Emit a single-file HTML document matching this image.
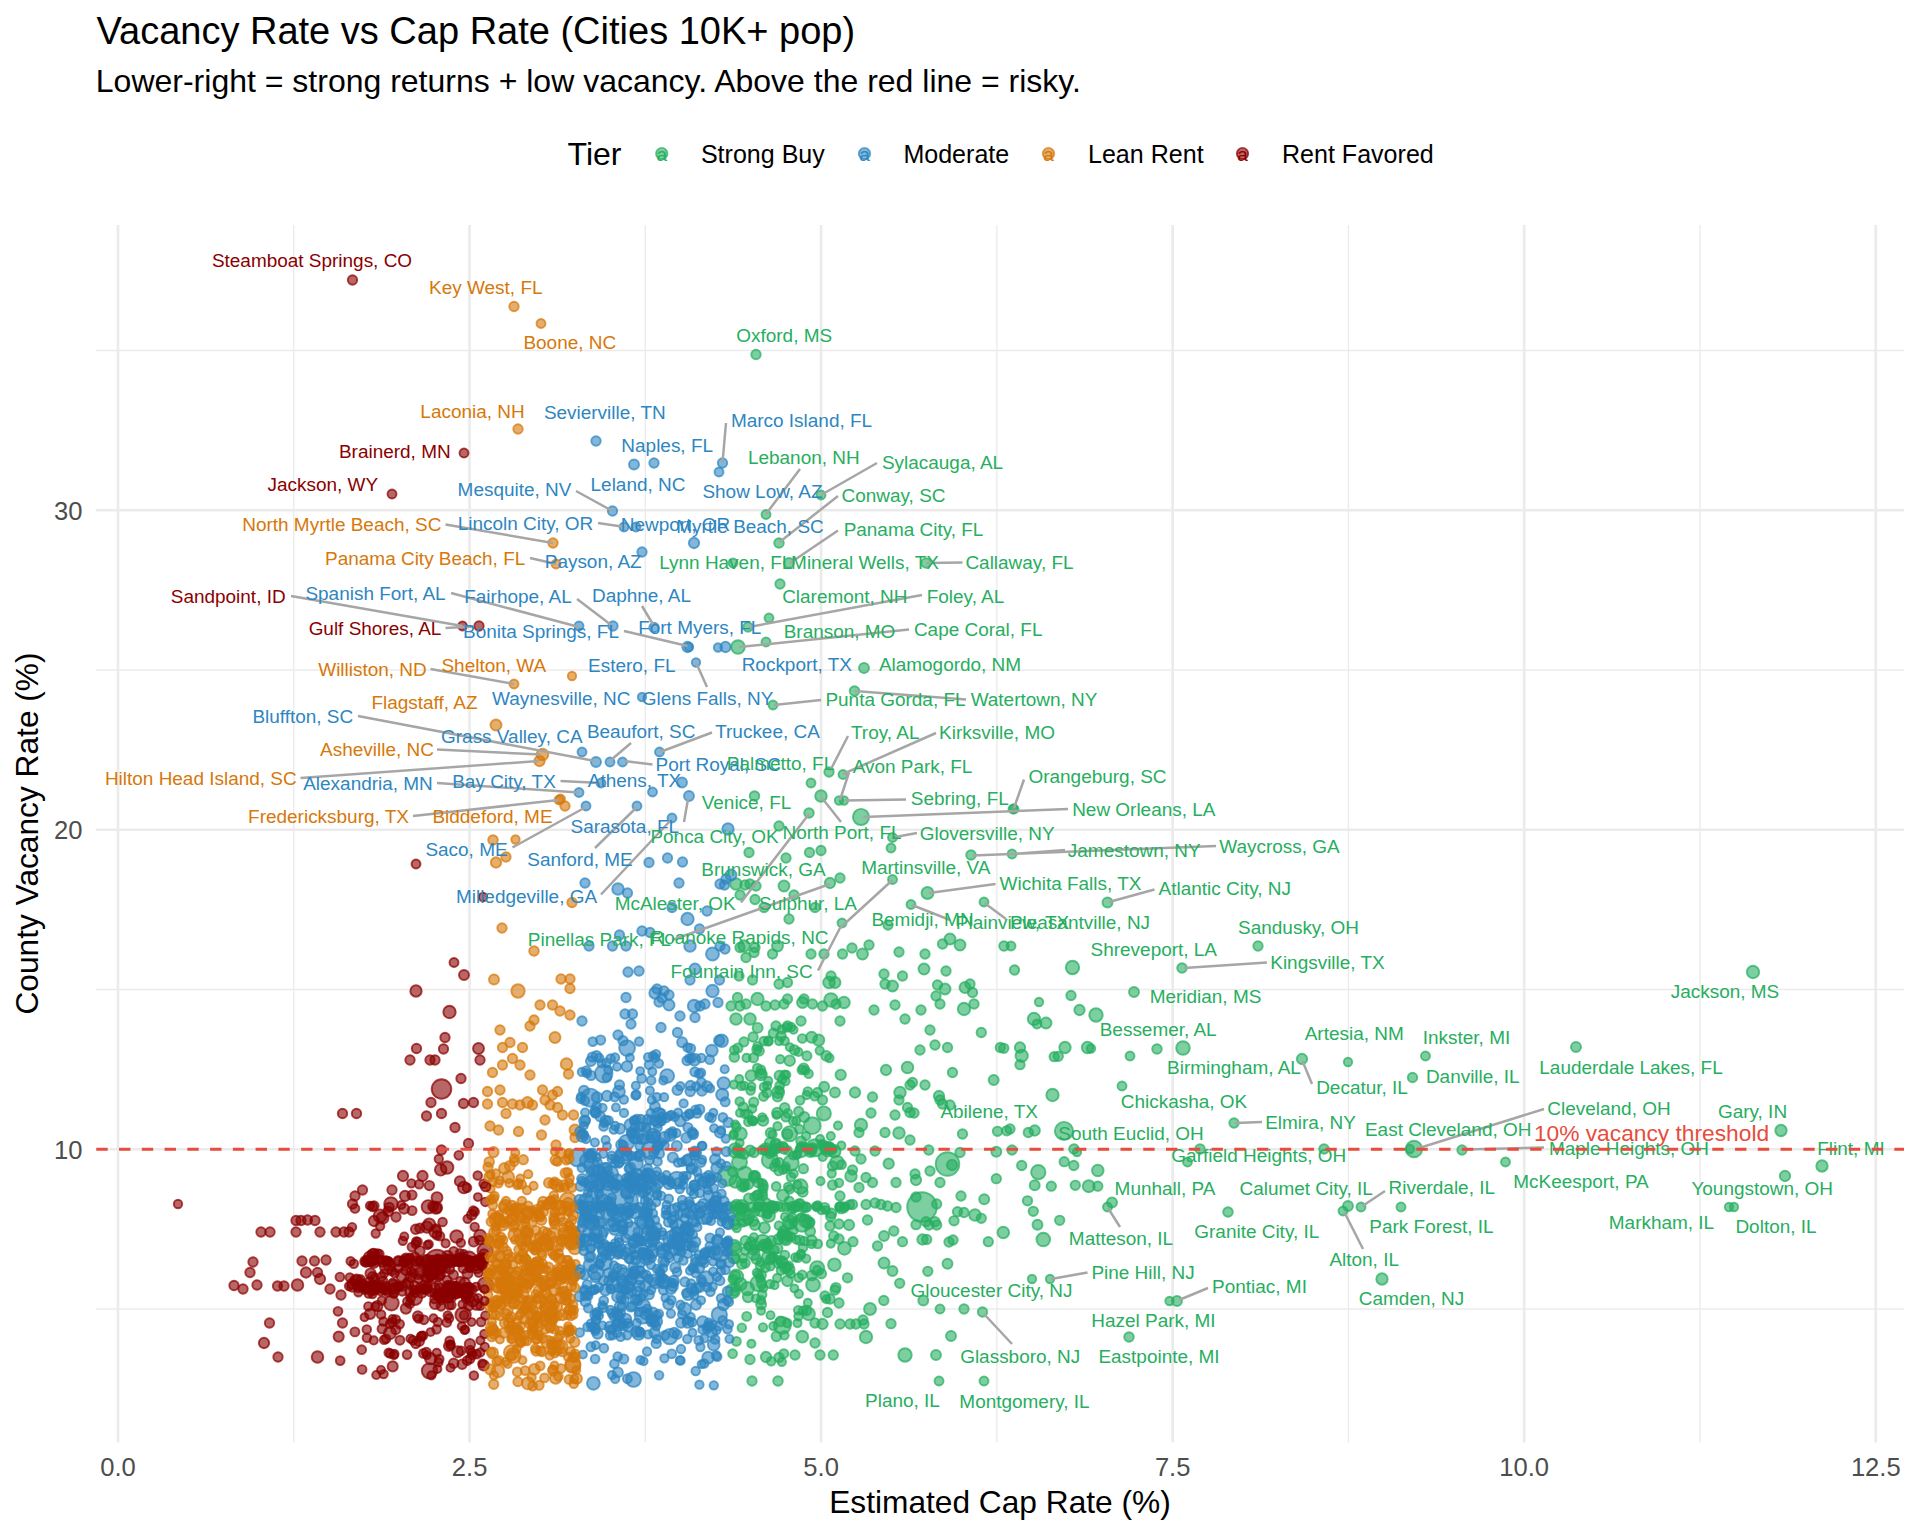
<!DOCTYPE html><html><head><meta charset="utf-8"><title>Vacancy Rate vs Cap Rate</title><style>html,body{margin:0;padding:0;background:#fff}svg{display:block;font-family:"Liberation Sans",Arial,Helvetica,sans-serif}.G{fill:#27AE60;stroke:#27AE60}.tG{fill:#27AE60}.B{fill:#2E86C1;stroke:#2E86C1}.tB{fill:#2E86C1}.O{fill:#D6780A;stroke:#D6780A}.tO{fill:#D6780A}.R{fill:#8B0000;stroke:#8B0000}.tR{fill:#8B0000}</style></head><body><svg width="1920" height="1536" viewBox="0 0 1920 1536">
<rect width="1920" height="1536" fill="#fff"/>
<g stroke="#EBEBEB" fill="none"><path d="M96 1309.00H1904" stroke-width="1.35"/><path d="M96 989.50H1904" stroke-width="1.35"/><path d="M96 670.00H1904" stroke-width="1.35"/><path d="M96 350.50H1904" stroke-width="1.35"/><path d="M293.77 225V1442.5" stroke-width="1.35"/><path d="M645.33 225V1442.5" stroke-width="1.35"/><path d="M996.88 225V1442.5" stroke-width="1.35"/><path d="M1348.42 225V1442.5" stroke-width="1.35"/><path d="M1699.98 225V1442.5" stroke-width="1.35"/><path d="M96 1149.25H1904" stroke-width="2.7"/><path d="M96 829.75H1904" stroke-width="2.7"/><path d="M96 510.25H1904" stroke-width="2.7"/><path d="M118.00 225V1442.5" stroke-width="2.7"/><path d="M469.55 225V1442.5" stroke-width="2.7"/><path d="M821.10 225V1442.5" stroke-width="2.7"/><path d="M1172.65 225V1442.5" stroke-width="2.7"/><path d="M1524.20 225V1442.5" stroke-width="2.7"/><path d="M1875.75 225V1442.5" stroke-width="2.7"/></g>
<g stroke-width="1.9" fill-opacity=".6" stroke-opacity=".72"><circle cx="617.0" cy="1201.0" r="20.8" class="B"/><circle cx="922.0" cy="1207.0" r="14.8" class="G"/><circle cx="437.0" cy="1262.0" r="12.2" class="R"/><circle cx="947.5" cy="1164.0" r="11.8" class="G"/><circle cx="727.5" cy="1176.0" r="9.8" class="G"/><circle cx="763.0" cy="1207.0" r="9.8" class="G"/><circle cx="441.5" cy="1089.0" r="9.8" class="R"/><circle cx="529.0" cy="1275.8" r="9.1" class="O"/><circle cx="590.3" cy="1097.7" r="9.1" class="B"/><circle cx="745.0" cy="1216.6" r="9.1" class="G"/><circle cx="703.6" cy="1215.0" r="9.1" class="B"/><circle cx="1064.0" cy="1131.0" r="9.1" class="G"/><circle cx="672.0" cy="1239.5" r="8.9" class="B"/><circle cx="431.4" cy="1270.5" r="8.9" class="R"/><circle cx="603.7" cy="1073.7" r="8.8" class="B"/><circle cx="631.2" cy="1230.9" r="8.8" class="B"/><circle cx="650.4" cy="1150.4" r="8.8" class="B"/><circle cx="802.0" cy="1223.0" r="8.8" class="G"/><circle cx="577.5" cy="1157.5" r="8.8" class="B"/><circle cx="676.9" cy="1180.3" r="8.6" class="B"/><circle cx="623.6" cy="1155.2" r="8.6" class="B"/><circle cx="814.8" cy="1147.8" r="8.6" class="G"/><circle cx="598.3" cy="1234.1" r="8.6" class="B"/><circle cx="782.3" cy="1325.4" r="8.5" class="G"/><circle cx="500.6" cy="1273.2" r="8.5" class="O"/><circle cx="812.2" cy="1125.7" r="8.4" class="G"/><circle cx="642.9" cy="1315.3" r="8.3" class="B"/><circle cx="548.7" cy="1309.6" r="8.3" class="O"/><circle cx="770.0" cy="1160.0" r="8.2" class="G"/><circle cx="1414.0" cy="1149.0" r="8.2" class="G"/><circle cx="536.3" cy="1324.1" r="8.2" class="O"/><circle cx="567.9" cy="1200.6" r="8.1" class="O"/><circle cx="603.8" cy="1262.2" r="8.1" class="B"/><circle cx="418.2" cy="1271.0" r="8.1" class="R"/><circle cx="861.0" cy="817.0" r="8.1" class="G"/><circle cx="627.1" cy="1048.1" r="7.9" class="B"/><circle cx="762.6" cy="1242.6" r="7.8" class="G"/><circle cx="758.3" cy="1283.4" r="7.8" class="G"/><circle cx="791.0" cy="1163.0" r="7.7" class="G"/><circle cx="591.7" cy="1222.4" r="7.7" class="B"/><circle cx="719.3" cy="1314.7" r="7.7" class="B"/><circle cx="429.5" cy="1370.8" r="7.7" class="R"/><circle cx="626.5" cy="1142.5" r="7.7" class="B"/><circle cx="669.7" cy="1336.6" r="7.7" class="B"/><circle cx="610.4" cy="1173.5" r="7.7" class="B"/><circle cx="387.6" cy="1266.3" r="7.7" class="R"/><circle cx="528.9" cy="1303.4" r="7.7" class="O"/><circle cx="463.1" cy="1314.9" r="7.7" class="R"/><circle cx="649.3" cy="1233.3" r="7.7" class="B"/><circle cx="733.9" cy="1247.5" r="7.7" class="G"/><circle cx="789.7" cy="1133.7" r="7.6" class="G"/><circle cx="485.5" cy="1284.7" r="7.6" class="R"/><circle cx="572.6" cy="1365.4" r="7.6" class="O"/><circle cx="591.7" cy="1165.5" r="7.6" class="B"/><circle cx="635.9" cy="1136.0" r="7.6" class="B"/><circle cx="569.6" cy="1235.6" r="7.6" class="O"/><circle cx="485.1" cy="1250.9" r="7.6" class="R"/><circle cx="739.5" cy="1162.2" r="7.5" class="G"/><circle cx="595.8" cy="1272.4" r="7.5" class="B"/><circle cx="511.4" cy="1352.5" r="7.5" class="O"/><circle cx="573.1" cy="1364.5" r="7.5" class="O"/><circle cx="497.4" cy="1304.2" r="7.5" class="O"/><circle cx="468.9" cy="1259.0" r="7.5" class="R"/><circle cx="784.5" cy="1236.2" r="7.4" class="G"/><circle cx="628.4" cy="1191.3" r="7.4" class="B"/><circle cx="633.5" cy="1379.5" r="7.4" class="B"/><circle cx="391.4" cy="1303.1" r="7.4" class="R"/><circle cx="370.7" cy="1258.6" r="7.4" class="R"/><circle cx="706.3" cy="1278.7" r="7.4" class="B"/><circle cx="634.3" cy="1211.1" r="7.4" class="B"/><circle cx="720.5" cy="1254.2" r="7.4" class="B"/><circle cx="800.3" cy="1186.5" r="7.3" class="G"/><circle cx="555.8" cy="1243.9" r="7.3" class="O"/><circle cx="513.4" cy="1355.6" r="7.3" class="O"/><circle cx="553.4" cy="1235.2" r="7.3" class="O"/><circle cx="648.7" cy="1176.4" r="7.3" class="B"/><circle cx="1038.3" cy="1172.2" r="7.2" class="G"/><circle cx="394.0" cy="1287.0" r="7.2" class="R"/><circle cx="745.0" cy="1174.0" r="7.2" class="G"/><circle cx="608.6" cy="1183.2" r="7.2" class="B"/><circle cx="646.8" cy="1257.5" r="7.2" class="B"/><circle cx="414.9" cy="1297.9" r="7.2" class="R"/><circle cx="828.1" cy="1149.3" r="7.2" class="G"/><circle cx="732.8" cy="1291.1" r="7.2" class="G"/><circle cx="735.4" cy="1150.4" r="7.2" class="G"/><circle cx="586.3" cy="1200.8" r="7.2" class="B"/><circle cx="604.7" cy="1249.4" r="7.1" class="B"/><circle cx="496.5" cy="1219.3" r="7.1" class="O"/><circle cx="526.7" cy="1281.2" r="7.1" class="O"/><circle cx="613.2" cy="1224.3" r="7.1" class="B"/><circle cx="528.7" cy="1268.6" r="7.1" class="O"/><circle cx="635.8" cy="1164.0" r="7.1" class="B"/><circle cx="817.2" cy="1268.2" r="7.1" class="G"/><circle cx="560.5" cy="1207.7" r="7.1" class="O"/><circle cx="823.8" cy="1113.5" r="7.1" class="G"/><circle cx="653.1" cy="1135.8" r="7.0" class="B"/><circle cx="736.2" cy="1276.5" r="7.0" class="G"/><circle cx="678.5" cy="1226.7" r="7.0" class="B"/><circle cx="789.9" cy="1222.4" r="7.0" class="G"/><circle cx="813.0" cy="1284.7" r="6.9" class="G"/><circle cx="633.5" cy="1179.9" r="6.9" class="B"/><circle cx="715.7" cy="1252.7" r="6.9" class="B"/><circle cx="667.2" cy="1076.0" r="6.9" class="B"/><circle cx="586.9" cy="1160.7" r="6.9" class="B"/><circle cx="741.8" cy="1206.9" r="6.9" class="G"/><circle cx="1183.0" cy="1048.0" r="6.8" class="G"/><circle cx="831.0" cy="1000.0" r="6.8" class="G"/><circle cx="605.2" cy="1169.5" r="6.8" class="B"/><circle cx="644.2" cy="1189.7" r="6.8" class="B"/><circle cx="539.6" cy="1301.6" r="6.8" class="O"/><circle cx="391.0" cy="1204.0" r="6.8" class="R"/><circle cx="738.0" cy="647.0" r="6.8" class="G"/><circle cx="1043.3" cy="1239.5" r="6.8" class="G"/><circle cx="837.0" cy="1162.5" r="6.8" class="G"/><circle cx="754.8" cy="1176.6" r="4.3" class="G"/><circle cx="630.2" cy="1188.1" r="4.5" class="B"/><circle cx="625.0" cy="1214.2" r="4.3" class="B"/><circle cx="580.5" cy="1186.1" r="4.9" class="B"/><circle cx="614.4" cy="1363.8" r="4.4" class="B"/><circle cx="690.0" cy="946.0" r="5.8" class="B"/><circle cx="844.0" cy="1002.5" r="5.8" class="G"/><circle cx="643.3" cy="1240.7" r="4.3" class="B"/><circle cx="1037.5" cy="1224.7" r="5.0" class="G"/><circle cx="668.2" cy="1222.3" r="4.4" class="B"/><circle cx="701.2" cy="1279.5" r="4.4" class="B"/><circle cx="608.1" cy="1201.2" r="4.4" class="B"/><circle cx="385.7" cy="1260.6" r="4.3" class="R"/><circle cx="508.3" cy="1220.3" r="4.1" class="O"/><circle cx="783.2" cy="1169.9" r="4.1" class="G"/><circle cx="498.5" cy="1130.0" r="4.7" class="O"/><circle cx="518.4" cy="1249.3" r="4.2" class="O"/><circle cx="676.0" cy="1234.0" r="6.5" class="B"/><circle cx="453.7" cy="1251.4" r="4.4" class="R"/><circle cx="652.0" cy="1258.1" r="4.0" class="B"/><circle cx="521.9" cy="1201.0" r="4.3" class="O"/><circle cx="388.2" cy="1211.4" r="4.8" class="R"/><circle cx="723.6" cy="1217.1" r="5.2" class="B"/><circle cx="370.8" cy="1285.8" r="4.2" class="R"/><circle cx="870.0" cy="1309.0" r="6.0" class="G"/><circle cx="616.5" cy="1323.6" r="4.2" class="B"/><circle cx="599.1" cy="1222.5" r="5.6" class="B"/><circle cx="568.8" cy="1275.1" r="4.1" class="O"/><circle cx="947.5" cy="1047.5" r="4.7" class="G"/><circle cx="916.0" cy="1180.0" r="5.2" class="G"/><circle cx="426.5" cy="1287.2" r="4.6" class="R"/><circle cx="1234.0" cy="1123.0" r="4.7" class="G"/><circle cx="689.4" cy="1232.7" r="4.0" class="B"/><circle cx="984.0" cy="1381.0" r="4.5" class="G"/><circle cx="824.0" cy="954.0" r="4.7" class="G"/><circle cx="628.9" cy="1168.6" r="4.4" class="B"/><circle cx="677.4" cy="1090.1" r="5.0" class="B"/><circle cx="536.5" cy="1276.2" r="4.3" class="O"/><circle cx="493.6" cy="1198.7" r="4.4" class="O"/><circle cx="655.8" cy="1136.1" r="4.7" class="B"/><circle cx="595.9" cy="1112.5" r="4.9" class="B"/><circle cx="532.5" cy="1329.6" r="4.0" class="O"/><circle cx="775.9" cy="1162.8" r="4.1" class="G"/><circle cx="728.2" cy="1240.4" r="4.1" class="B"/><circle cx="527.1" cy="1341.0" r="4.2" class="O"/><circle cx="779.8" cy="1146.7" r="4.2" class="G"/><circle cx="743.9" cy="1207.8" r="4.4" class="G"/><circle cx="405.9" cy="1261.2" r="4.4" class="R"/><circle cx="526.6" cy="1238.8" r="4.1" class="O"/><circle cx="532.2" cy="1331.0" r="4.9" class="O"/><circle cx="760.9" cy="1069.8" r="4.4" class="G"/><circle cx="407.6" cy="1262.8" r="5.6" class="R"/><circle cx="773.0" cy="705.0" r="4.5" class="G"/><circle cx="463.3" cy="1291.3" r="4.3" class="R"/><circle cx="996.3" cy="1151.7" r="5.0" class="G"/><circle cx="666.4" cy="1117.8" r="4.4" class="B"/><circle cx="752.2" cy="1108.7" r="4.2" class="G"/><circle cx="416.2" cy="1241.4" r="4.2" class="R"/><circle cx="567.2" cy="1314.9" r="4.3" class="O"/><circle cx="438.8" cy="1159.0" r="4.2" class="R"/><circle cx="639.5" cy="1240.1" r="4.9" class="B"/><circle cx="380.1" cy="1226.1" r="4.3" class="R"/><circle cx="765.8" cy="1149.2" r="6.0" class="G"/><circle cx="356.5" cy="1113.5" r="4.7" class="R"/><circle cx="575.7" cy="1263.9" r="4.0" class="O"/><circle cx="895.0" cy="1005.0" r="4.7" class="G"/><circle cx="527.7" cy="1301.4" r="4.1" class="O"/><circle cx="800.3" cy="1203.1" r="4.2" class="G"/><circle cx="580.8" cy="1238.2" r="4.1" class="B"/><circle cx="720.0" cy="1232.3" r="4.2" class="B"/><circle cx="579.6" cy="1199.9" r="5.2" class="B"/><circle cx="594.9" cy="1142.5" r="4.1" class="B"/><circle cx="657.5" cy="1161.5" r="4.4" class="B"/><circle cx="736.0" cy="1019.0" r="5.8" class="G"/><circle cx="554.8" cy="1353.5" r="4.1" class="O"/><circle cx="584.4" cy="1289.4" r="4.2" class="B"/><circle cx="646.0" cy="1274.8" r="4.6" class="B"/><circle cx="981.3" cy="1032.5" r="4.7" class="G"/><circle cx="510.0" cy="1042.5" r="4.7" class="O"/><circle cx="591.7" cy="1241.5" r="4.1" class="B"/><circle cx="687.0" cy="1320.4" r="4.1" class="B"/><circle cx="541.6" cy="1205.2" r="4.4" class="O"/><circle cx="410.6" cy="1297.6" r="4.5" class="R"/><circle cx="864.0" cy="1324.0" r="4.7" class="G"/><circle cx="467.1" cy="1360.7" r="4.4" class="R"/><circle cx="514.9" cy="1291.1" r="6.7" class="O"/><circle cx="923.3" cy="1300.5" r="5.0" class="G"/><circle cx="828.7" cy="1148.1" r="6.1" class="G"/><circle cx="785.4" cy="1081.1" r="4.3" class="G"/><circle cx="644.4" cy="1177.4" r="4.6" class="B"/><circle cx="747.9" cy="1219.6" r="4.7" class="G"/><circle cx="696.2" cy="1086.3" r="4.2" class="B"/><circle cx="640.8" cy="1263.0" r="4.4" class="B"/><circle cx="856.0" cy="1324.0" r="4.7" class="G"/><circle cx="699.1" cy="1073.8" r="4.4" class="B"/><circle cx="428.4" cy="1266.3" r="4.1" class="R"/><circle cx="778.7" cy="1171.0" r="4.4" class="G"/><circle cx="500.0" cy="1090.0" r="4.7" class="O"/><circle cx="760.3" cy="1265.5" r="4.6" class="G"/><circle cx="636.8" cy="1175.5" r="6.7" class="B"/><circle cx="1753.0" cy="972.0" r="6.2" class="G"/><circle cx="661.8" cy="1121.0" r="4.2" class="B"/><circle cx="703.7" cy="1259.5" r="4.4" class="B"/><circle cx="586.3" cy="1070.9" r="4.6" class="B"/><circle cx="779.0" cy="543.0" r="4.8" class="G"/><circle cx="640.9" cy="1119.0" r="4.3" class="B"/><circle cx="785.8" cy="1168.9" r="4.0" class="G"/><circle cx="907.5" cy="1067.5" r="5.8" class="G"/><circle cx="532.6" cy="1222.1" r="4.3" class="O"/><circle cx="536.7" cy="1339.3" r="4.1" class="O"/><circle cx="481.2" cy="1263.5" r="4.1" class="R"/><circle cx="822.5" cy="1006.0" r="4.7" class="G"/><circle cx="539.2" cy="1215.3" r="4.0" class="O"/><circle cx="787.8" cy="1113.3" r="4.4" class="G"/><circle cx="366.4" cy="1261.9" r="4.8" class="R"/><circle cx="439.2" cy="1359.1" r="4.4" class="R"/><circle cx="741.8" cy="1327.7" r="4.3" class="G"/><circle cx="926.0" cy="563.0" r="4.7" class="G"/><circle cx="250.0" cy="1272.5" r="4.7" class="R"/><circle cx="681.9" cy="1162.2" r="4.0" class="B"/><circle cx="517.7" cy="1293.6" r="4.1" class="O"/><circle cx="646.7" cy="1254.6" r="5.5" class="B"/><circle cx="984.0" cy="902.0" r="4.5" class="G"/><circle cx="849.9" cy="1204.5" r="4.4" class="G"/><circle cx="740.5" cy="1284.1" r="6.2" class="G"/><circle cx="234.0" cy="1285.5" r="4.7" class="R"/><circle cx="642.0" cy="697.0" r="4.2" class="B"/><circle cx="711.8" cy="1050.6" r="5.9" class="B"/><circle cx="459.9" cy="1253.3" r="4.3" class="R"/><circle cx="756.8" cy="1049.5" r="4.6" class="G"/><circle cx="1091.0" cy="1048.5" r="4.2" class="G"/><circle cx="495.5" cy="1226.8" r="4.1" class="O"/><circle cx="719.2" cy="1040.5" r="5.2" class="B"/><circle cx="440.7" cy="1169.8" r="5.8" class="R"/><circle cx="526.3" cy="1287.7" r="4.9" class="O"/><circle cx="508.2" cy="1177.1" r="6.0" class="O"/><circle cx="611.0" cy="1250.7" r="4.5" class="B"/><circle cx="613.5" cy="1316.3" r="4.2" class="B"/><circle cx="414.4" cy="1285.8" r="4.5" class="R"/><circle cx="440.5" cy="1269.7" r="4.5" class="R"/><circle cx="725.6" cy="1243.7" r="4.3" class="B"/><circle cx="436.6" cy="1329.3" r="4.4" class="R"/><circle cx="710.8" cy="1220.7" r="4.4" class="B"/><circle cx="754.5" cy="796.0" r="4.8" class="G"/><circle cx="517.7" cy="1304.5" r="4.4" class="O"/><circle cx="722.4" cy="1183.4" r="4.2" class="B"/><circle cx="270.0" cy="1232.0" r="4.7" class="R"/><circle cx="914.0" cy="1113.0" r="4.7" class="G"/><circle cx="778.9" cy="1225.6" r="4.3" class="G"/><circle cx="713.4" cy="1112.7" r="4.0" class="B"/><circle cx="488.2" cy="1294.6" r="4.3" class="O"/><circle cx="468.4" cy="1287.8" r="5.2" class="R"/><circle cx="733.8" cy="1134.0" r="4.1" class="G"/><circle cx="278.0" cy="1357.0" r="4.7" class="R"/><circle cx="694.8" cy="1185.8" r="5.5" class="B"/><circle cx="710.8" cy="1208.7" r="4.6" class="B"/><circle cx="689.3" cy="1058.3" r="4.4" class="B"/><circle cx="572.7" cy="1236.2" r="4.2" class="O"/><circle cx="610.7" cy="1288.6" r="4.3" class="B"/><circle cx="781.8" cy="1361.8" r="4.2" class="G"/><circle cx="635.6" cy="1095.4" r="4.3" class="B"/><circle cx="795.2" cy="1257.3" r="4.2" class="G"/><circle cx="694.6" cy="1208.3" r="4.3" class="B"/><circle cx="504.1" cy="1223.3" r="4.1" class="O"/><circle cx="510.9" cy="1317.2" r="5.1" class="O"/><circle cx="508.1" cy="1253.9" r="4.3" class="O"/><circle cx="649.6" cy="1222.1" r="4.3" class="B"/><circle cx="560.1" cy="1297.8" r="5.6" class="O"/><circle cx="651.0" cy="1265.1" r="4.2" class="B"/><circle cx="408.1" cy="1282.8" r="5.2" class="R"/><circle cx="821.4" cy="1273.7" r="4.7" class="G"/><circle cx="506.0" cy="1201.1" r="4.3" class="O"/><circle cx="743.4" cy="1208.5" r="4.6" class="G"/><circle cx="526.9" cy="1190.2" r="4.2" class="O"/><circle cx="620.7" cy="1297.3" r="4.4" class="B"/><circle cx="928.7" cy="1150.0" r="4.7" class="G"/><circle cx="691.1" cy="1206.3" r="4.6" class="B"/><circle cx="621.9" cy="1324.0" r="4.4" class="B"/><circle cx="744.3" cy="1154.6" r="4.3" class="G"/><circle cx="456.4" cy="1286.4" r="4.1" class="R"/><circle cx="424.6" cy="1288.8" r="4.2" class="R"/><circle cx="601.7" cy="1171.1" r="4.1" class="B"/><circle cx="681.0" cy="1242.9" r="4.2" class="B"/><circle cx="493.1" cy="1269.5" r="4.2" class="O"/><circle cx="438.5" cy="1362.4" r="4.1" class="R"/><circle cx="402.3" cy="1291.7" r="4.1" class="R"/><circle cx="821.0" cy="796.0" r="5.8" class="G"/><circle cx="634.5" cy="1120.5" r="4.3" class="B"/><circle cx="413.0" cy="1340.3" r="4.4" class="R"/><circle cx="855.0" cy="1151.0" r="4.7" class="G"/><circle cx="534.2" cy="1328.4" r="4.4" class="O"/><circle cx="584.0" cy="1218.2" r="4.4" class="B"/><circle cx="668.3" cy="1255.0" r="4.4" class="B"/><circle cx="617.7" cy="1296.4" r="5.7" class="B"/><circle cx="386.0" cy="1338.8" r="4.4" class="R"/><circle cx="464.5" cy="1294.2" r="4.8" class="R"/><circle cx="761.0" cy="1300.2" r="4.2" class="G"/><circle cx="508.8" cy="1282.6" r="4.3" class="O"/><circle cx="678.1" cy="1112.6" r="4.1" class="B"/><circle cx="595.1" cy="1359.0" r="4.4" class="B"/><circle cx="661.6" cy="1142.5" r="4.1" class="B"/><circle cx="831.3" cy="1213.4" r="4.9" class="G"/><circle cx="599.6" cy="1263.7" r="4.1" class="B"/><circle cx="463.7" cy="1254.0" r="4.1" class="R"/><circle cx="623.9" cy="1274.2" r="6.3" class="B"/><circle cx="619.3" cy="1315.8" r="4.3" class="B"/><circle cx="503.1" cy="1269.4" r="4.0" class="O"/><circle cx="798.7" cy="1111.5" r="4.7" class="G"/><circle cx="372.6" cy="1276.8" r="4.8" class="R"/><circle cx="640.1" cy="1187.3" r="4.3" class="B"/><circle cx="555.7" cy="1377.9" r="5.8" class="O"/><circle cx="338.0" cy="1311.3" r="4.4" class="R"/><circle cx="594.7" cy="1289.7" r="4.2" class="B"/><circle cx="596.1" cy="1320.1" r="4.2" class="B"/><circle cx="674.0" cy="1241.2" r="4.4" class="B"/><circle cx="834.4" cy="1264.7" r="6.3" class="G"/><circle cx="796.3" cy="1239.8" r="4.1" class="G"/><circle cx="438.6" cy="1285.6" r="4.2" class="R"/><circle cx="695.6" cy="1222.4" r="4.2" class="B"/><circle cx="581.8" cy="1167.8" r="4.3" class="B"/><circle cx="465.2" cy="1329.8" r="4.0" class="R"/><circle cx="748.0" cy="1114.1" r="4.3" class="G"/><circle cx="551.4" cy="1299.4" r="5.0" class="O"/><circle cx="742.9" cy="1258.2" r="4.3" class="G"/><circle cx="783.3" cy="1231.1" r="4.8" class="G"/><circle cx="653.0" cy="1055.8" r="4.1" class="B"/><circle cx="604.6" cy="1244.1" r="4.1" class="B"/><circle cx="587.5" cy="1327.0" r="4.3" class="B"/><circle cx="606.4" cy="1062.8" r="4.4" class="B"/><circle cx="747.5" cy="1288.6" r="6.6" class="G"/><circle cx="761.1" cy="1304.2" r="5.0" class="G"/><circle cx="510.0" cy="1290.0" r="4.3" class="O"/><circle cx="555.0" cy="1037.5" r="5.5" class="O"/><circle cx="818.7" cy="1040.1" r="5.6" class="G"/><circle cx="683.3" cy="1260.5" r="4.3" class="B"/><circle cx="839.0" cy="1239.0" r="4.7" class="G"/><circle cx="422.5" cy="1176.0" r="5.2" class="R"/><circle cx="633.3" cy="1273.8" r="5.3" class="B"/><circle cx="398.4" cy="1261.0" r="5.1" class="R"/><circle cx="712.6" cy="1286.7" r="4.2" class="B"/><circle cx="872.5" cy="1097.0" r="4.7" class="G"/><circle cx="925.0" cy="1085.0" r="4.7" class="G"/><circle cx="629.3" cy="1286.9" r="5.0" class="B"/><circle cx="795.0" cy="1355.0" r="4.7" class="G"/><circle cx="1348.0" cy="1206.0" r="5.0" class="G"/><circle cx="842.0" cy="923.0" r="4.5" class="G"/><circle cx="927.8" cy="1271.3" r="4.7" class="G"/><circle cx="620.6" cy="1336.7" r="4.3" class="B"/><circle cx="649.9" cy="1090.6" r="4.1" class="B"/><circle cx="579.5" cy="1296.5" r="4.9" class="B"/><circle cx="697.1" cy="1153.1" r="4.0" class="B"/><circle cx="777.5" cy="1126.2" r="4.2" class="G"/><circle cx="358.1" cy="1288.1" r="4.1" class="R"/><circle cx="420.0" cy="1260.5" r="4.4" class="R"/><circle cx="515.2" cy="1216.3" r="4.4" class="O"/><circle cx="483.7" cy="1365.4" r="5.2" class="R"/><circle cx="753.5" cy="1057.8" r="4.6" class="G"/><circle cx="631.9" cy="1132.5" r="5.2" class="B"/><circle cx="504.4" cy="1288.6" r="4.4" class="O"/><circle cx="796.3" cy="1206.4" r="5.1" class="G"/><circle cx="768.3" cy="1245.1" r="4.4" class="G"/><circle cx="522.8" cy="1253.7" r="4.6" class="O"/><circle cx="243.0" cy="1289.0" r="4.7" class="R"/><circle cx="455.4" cy="1293.5" r="4.3" class="R"/><circle cx="571.3" cy="1286.0" r="4.8" class="O"/><circle cx="389.0" cy="1261.7" r="4.0" class="R"/><circle cx="435.1" cy="1273.0" r="4.4" class="R"/><circle cx="520.7" cy="1239.9" r="5.8" class="O"/><circle cx="899.0" cy="952.0" r="4.7" class="G"/><circle cx="504.3" cy="1323.3" r="4.4" class="O"/><circle cx="815.0" cy="907.5" r="4.7" class="G"/><circle cx="439.9" cy="1296.8" r="5.1" class="R"/><circle cx="740.0" cy="895.0" r="4.7" class="G"/><circle cx="643.7" cy="1293.5" r="4.1" class="B"/><circle cx="397.0" cy="1286.0" r="4.3" class="R"/><circle cx="920.0" cy="1050.0" r="4.7" class="G"/><circle cx="689.0" cy="1202.1" r="4.8" class="B"/><circle cx="533.9" cy="1268.7" r="4.2" class="O"/><circle cx="1122.0" cy="1086.0" r="4.5" class="G"/><circle cx="502.6" cy="1284.2" r="5.6" class="O"/><circle cx="476.3" cy="1266.0" r="4.4" class="R"/><circle cx="872.5" cy="1182.5" r="4.7" class="G"/><circle cx="661.8" cy="1250.7" r="4.3" class="B"/><circle cx="671.0" cy="1288.8" r="5.2" class="B"/><circle cx="500.0" cy="1030.0" r="4.7" class="O"/><circle cx="654.5" cy="1332.7" r="5.2" class="B"/><circle cx="554.5" cy="1212.2" r="4.4" class="O"/><circle cx="478.5" cy="1260.6" r="4.5" class="R"/><circle cx="707.5" cy="1326.5" r="4.4" class="B"/><circle cx="652.3" cy="1071.6" r="4.1" class="B"/><circle cx="910.0" cy="1112.5" r="4.7" class="G"/><circle cx="675.3" cy="1267.5" r="5.1" class="B"/><circle cx="480.1" cy="1235.6" r="5.9" class="R"/><circle cx="394.7" cy="1273.2" r="4.3" class="R"/><circle cx="749.0" cy="852.5" r="4.7" class="G"/><circle cx="598.8" cy="1287.4" r="4.4" class="B"/><circle cx="672.0" cy="1219.6" r="4.3" class="B"/><circle cx="511.1" cy="1328.7" r="4.1" class="O"/><circle cx="426.5" cy="1116.0" r="4.7" class="R"/><circle cx="834.3" cy="1151.2" r="6.3" class="G"/><circle cx="471.8" cy="1214.8" r="4.9" class="R"/><circle cx="696.0" cy="1304.8" r="5.1" class="B"/><circle cx="618.6" cy="1239.1" r="4.0" class="B"/><circle cx="657.7" cy="1127.8" r="4.1" class="B"/><circle cx="613.4" cy="1274.3" r="4.4" class="B"/><circle cx="910.0" cy="1085.0" r="4.7" class="G"/><circle cx="253.0" cy="1262.0" r="4.7" class="R"/><circle cx="754.7" cy="1176.8" r="5.9" class="G"/><circle cx="784.0" cy="1004.0" r="4.7" class="G"/><circle cx="507.2" cy="1282.3" r="5.7" class="O"/><circle cx="1059.7" cy="1220.3" r="4.7" class="G"/><circle cx="403.0" cy="1176.0" r="5.2" class="R"/><circle cx="430.6" cy="1332.1" r="4.0" class="R"/><circle cx="385.9" cy="1260.7" r="4.3" class="R"/><circle cx="520.0" cy="1065.0" r="4.7" class="O"/><circle cx="833.3" cy="1355.0" r="4.7" class="G"/><circle cx="852.0" cy="948.0" r="4.7" class="G"/><circle cx="743.9" cy="1041.9" r="4.6" class="G"/><circle cx="655.0" cy="1121.0" r="5.0" class="B"/><circle cx="777.2" cy="1278.0" r="4.2" class="G"/><circle cx="1033.3" cy="1211.3" r="4.7" class="G"/><circle cx="496.7" cy="1332.8" r="4.2" class="O"/><circle cx="462.8" cy="1257.4" r="4.1" class="R"/><circle cx="777.3" cy="1112.8" r="5.2" class="G"/><circle cx="760.0" cy="1278.6" r="4.0" class="G"/><circle cx="656.0" cy="1054.2" r="4.3" class="B"/><circle cx="458.4" cy="1261.4" r="4.6" class="R"/><circle cx="669.9" cy="1115.9" r="4.3" class="B"/><circle cx="780.5" cy="1321.4" r="4.9" class="G"/><circle cx="534.2" cy="1311.2" r="4.1" class="O"/><circle cx="726.6" cy="1166.2" r="4.4" class="B"/><circle cx="779.1" cy="1259.8" r="4.0" class="G"/><circle cx="523.3" cy="1159.7" r="4.7" class="O"/><circle cx="492.8" cy="1329.8" r="4.9" class="O"/><circle cx="647.5" cy="1196.8" r="4.4" class="B"/><circle cx="269.5" cy="1323.0" r="4.7" class="R"/><circle cx="605.6" cy="1120.8" r="5.1" class="B"/><circle cx="777.7" cy="1206.0" r="4.4" class="G"/><circle cx="717.7" cy="1213.0" r="5.2" class="B"/><circle cx="482.2" cy="1259.2" r="6.0" class="R"/><circle cx="1130.0" cy="1056.0" r="4.5" class="G"/><circle cx="707.1" cy="1287.2" r="4.4" class="B"/><circle cx="596.0" cy="441.0" r="4.7" class="B"/><circle cx="535.3" cy="1244.4" r="4.3" class="O"/><circle cx="652.1" cy="1231.0" r="5.9" class="B"/><circle cx="599.7" cy="1185.6" r="4.3" class="B"/><circle cx="690.5" cy="1085.5" r="4.8" class="B"/><circle cx="716.2" cy="1330.3" r="4.4" class="B"/><circle cx="569.1" cy="1331.2" r="4.4" class="O"/><circle cx="701.9" cy="1146.0" r="4.3" class="B"/><circle cx="452.3" cy="1288.0" r="4.3" class="R"/><circle cx="709.7" cy="1205.7" r="4.4" class="B"/><circle cx="756.3" cy="1259.0" r="4.9" class="G"/><circle cx="410.4" cy="1338.7" r="4.1" class="R"/><circle cx="798.0" cy="1257.8" r="4.3" class="G"/><circle cx="811.8" cy="1149.6" r="4.3" class="G"/><circle cx="709.5" cy="1251.9" r="5.5" class="B"/><circle cx="649.4" cy="1222.6" r="4.2" class="B"/><circle cx="627.8" cy="1323.1" r="4.4" class="B"/><circle cx="612.2" cy="1247.3" r="4.6" class="B"/><circle cx="1032.0" cy="1279.0" r="4.2" class="G"/><circle cx="671.7" cy="1133.9" r="4.1" class="B"/><circle cx="814.7" cy="1096.2" r="4.4" class="G"/><circle cx="593.5" cy="1219.1" r="4.3" class="B"/><circle cx="639.5" cy="1146.0" r="4.2" class="B"/><circle cx="603.5" cy="1280.6" r="4.5" class="B"/><circle cx="624.7" cy="1299.5" r="4.1" class="B"/><circle cx="821.4" cy="1210.2" r="4.0" class="G"/><circle cx="720.0" cy="1132.5" r="5.2" class="B"/><circle cx="440.1" cy="1236.2" r="4.3" class="R"/><circle cx="447.7" cy="1286.9" r="4.9" class="R"/><circle cx="488.0" cy="1167.2" r="4.7" class="O"/><circle cx="851.0" cy="1176.0" r="5.8" class="G"/><circle cx="474.6" cy="1261.0" r="4.2" class="R"/><circle cx="783.8" cy="1353.7" r="4.5" class="G"/><circle cx="510.7" cy="1281.0" r="4.5" class="O"/><circle cx="516.9" cy="1292.3" r="6.2" class="O"/><circle cx="693.7" cy="1185.0" r="4.3" class="B"/><circle cx="436.9" cy="1235.3" r="4.4" class="R"/><circle cx="660.3" cy="1273.3" r="4.1" class="B"/><circle cx="778.4" cy="1239.2" r="5.1" class="G"/><circle cx="720.0" cy="946.0" r="4.7" class="B"/><circle cx="549.6" cy="1201.2" r="4.2" class="O"/><circle cx="652.8" cy="1213.5" r="4.4" class="B"/><circle cx="441.0" cy="1306.3" r="4.4" class="R"/><circle cx="770.7" cy="1209.3" r="4.1" class="G"/><circle cx="670.5" cy="1134.8" r="6.1" class="B"/><circle cx="557.2" cy="1316.0" r="4.6" class="O"/><circle cx="368.4" cy="1306.4" r="4.3" class="R"/><circle cx="734.3" cy="1057.1" r="4.8" class="G"/><circle cx="700.9" cy="1162.3" r="4.7" class="B"/><circle cx="526.1" cy="1309.2" r="4.2" class="O"/><circle cx="750.0" cy="1019.0" r="5.8" class="G"/><circle cx="802.7" cy="1191.9" r="5.0" class="G"/><circle cx="557.2" cy="1350.7" r="4.4" class="O"/><circle cx="518.5" cy="1131.5" r="4.7" class="O"/><circle cx="497.4" cy="1264.3" r="4.5" class="O"/><circle cx="610.6" cy="1058.7" r="4.4" class="B"/><circle cx="594.9" cy="1176.9" r="4.3" class="B"/><circle cx="549.0" cy="1246.1" r="4.1" class="O"/><circle cx="896.0" cy="1182.5" r="4.7" class="G"/><circle cx="697.0" cy="1113.2" r="4.7" class="B"/><circle cx="1382.0" cy="1279.0" r="5.7" class="G"/><circle cx="559.0" cy="800.0" r="4.5" class="O"/><circle cx="875.0" cy="1203.0" r="4.7" class="G"/><circle cx="393.9" cy="1355.2" r="4.1" class="R"/><circle cx="733.7" cy="1220.7" r="5.2" class="G"/><circle cx="809.0" cy="813.0" r="4.8" class="G"/><circle cx="648.3" cy="1177.6" r="4.0" class="B"/><circle cx="484.0" cy="1262.2" r="4.3" class="R"/><circle cx="763.1" cy="1120.7" r="5.2" class="G"/><circle cx="467.2" cy="1287.3" r="4.4" class="R"/><circle cx="656.9" cy="1097.1" r="4.1" class="B"/><circle cx="691.6" cy="1246.7" r="4.2" class="B"/><circle cx="1087.5" cy="1047.5" r="5.7" class="G"/><circle cx="436.7" cy="1352.9" r="4.1" class="R"/><circle cx="556.0" cy="1145.0" r="4.7" class="O"/><circle cx="564.8" cy="1187.6" r="4.3" class="O"/><circle cx="715.2" cy="1159.3" r="5.2" class="B"/><circle cx="509.8" cy="1166.0" r="5.0" class="O"/><circle cx="437.0" cy="1197.6" r="5.5" class="R"/><circle cx="711.7" cy="1325.2" r="4.7" class="B"/><circle cx="450.5" cy="1367.8" r="4.1" class="R"/><circle cx="449.2" cy="1298.2" r="4.0" class="R"/><circle cx="768.4" cy="1040.7" r="4.4" class="G"/><circle cx="689.0" cy="647.0" r="4.2" class="B"/><circle cx="692.3" cy="1267.6" r="4.1" class="B"/><circle cx="839.9" cy="1206.6" r="4.4" class="G"/><circle cx="569.0" cy="1379.5" r="4.5" class="O"/><circle cx="656.7" cy="1339.1" r="4.1" class="B"/><circle cx="411.1" cy="1271.0" r="4.1" class="R"/><circle cx="405.9" cy="1260.0" r="5.2" class="R"/><circle cx="700.7" cy="1213.0" r="4.4" class="B"/><circle cx="515.0" cy="1239.9" r="4.0" class="O"/><circle cx="659.1" cy="1375.2" r="4.3" class="B"/><circle cx="815.0" cy="1343.0" r="4.7" class="G"/><circle cx="888.0" cy="925.0" r="4.7" class="G"/><circle cx="612.5" cy="1277.4" r="4.3" class="B"/><circle cx="615.5" cy="1183.2" r="4.0" class="B"/><circle cx="523.5" cy="1300.0" r="4.1" class="O"/><circle cx="778.2" cy="1092.1" r="6.0" class="G"/><circle cx="392.3" cy="1322.2" r="4.3" class="R"/><circle cx="576.8" cy="1378.7" r="5.2" class="O"/><circle cx="640.4" cy="1270.8" r="4.2" class="B"/><circle cx="483.6" cy="1183.7" r="4.3" class="R"/><circle cx="648.7" cy="1278.8" r="4.1" class="B"/><circle cx="529.1" cy="1314.7" r="4.2" class="O"/><circle cx="570.3" cy="1268.9" r="4.3" class="O"/><circle cx="419.2" cy="1184.2" r="4.3" class="R"/><circle cx="541.7" cy="1252.8" r="4.4" class="O"/><circle cx="609.7" cy="1175.6" r="4.0" class="B"/><circle cx="626.6" cy="1155.7" r="4.8" class="B"/><circle cx="383.0" cy="1288.8" r="4.1" class="R"/><circle cx="719.9" cy="1280.7" r="4.6" class="B"/><circle cx="499.4" cy="1282.0" r="4.1" class="O"/><circle cx="365.1" cy="1290.2" r="4.1" class="R"/><circle cx="582.0" cy="752.0" r="4.5" class="B"/><circle cx="628.5" cy="1210.8" r="5.1" class="B"/><circle cx="534.9" cy="1216.8" r="4.8" class="O"/><circle cx="425.6" cy="1286.8" r="6.4" class="R"/><circle cx="317.5" cy="1272.5" r="4.7" class="R"/><circle cx="575.0" cy="1130.0" r="5.5" class="O"/><circle cx="569.5" cy="1225.2" r="4.1" class="O"/><circle cx="624.0" cy="1112.9" r="4.2" class="B"/><circle cx="438.9" cy="1294.0" r="4.4" class="R"/><circle cx="372.4" cy="1206.6" r="4.6" class="R"/><circle cx="657.2" cy="1269.0" r="4.4" class="B"/><circle cx="573.3" cy="1357.2" r="4.8" class="O"/><circle cx="514.0" cy="1158.5" r="4.1" class="O"/><circle cx="861.0" cy="1125.0" r="6.2" class="G"/><circle cx="499.9" cy="1242.4" r="4.2" class="O"/><circle cx="539.6" cy="1264.0" r="4.3" class="O"/><circle cx="509.0" cy="1323.1" r="5.2" class="O"/><circle cx="689.4" cy="1204.0" r="4.0" class="B"/><circle cx="709.2" cy="1117.0" r="4.1" class="B"/><circle cx="997.5" cy="1131.3" r="4.7" class="G"/><circle cx="543.7" cy="1301.0" r="4.2" class="O"/><circle cx="664.9" cy="1262.3" r="4.4" class="B"/><circle cx="412.1" cy="1210.6" r="4.5" class="R"/><circle cx="483.1" cy="1261.7" r="4.2" class="R"/><circle cx="656.3" cy="1202.3" r="4.1" class="B"/><circle cx="474.7" cy="1226.8" r="4.2" class="R"/><circle cx="840.0" cy="1021.0" r="4.7" class="G"/><circle cx="508.7" cy="1270.7" r="4.4" class="O"/><circle cx="724.5" cy="885.0" r="4.7" class="B"/><circle cx="514.0" cy="306.5" r="4.7" class="O"/><circle cx="528.5" cy="1303.0" r="5.2" class="O"/><circle cx="405.0" cy="1196.0" r="5.2" class="R"/><circle cx="512.3" cy="1339.2" r="4.2" class="O"/><circle cx="810.8" cy="1149.6" r="5.2" class="G"/><circle cx="496.0" cy="862.5" r="5.2" class="O"/><circle cx="911.0" cy="904.5" r="4.5" class="G"/><circle cx="775.7" cy="1144.5" r="4.9" class="G"/><circle cx="459.5" cy="1262.6" r="4.0" class="R"/><circle cx="622.2" cy="1226.6" r="5.1" class="B"/><circle cx="815.0" cy="1323.0" r="4.7" class="G"/><circle cx="542.5" cy="1090.0" r="4.7" class="O"/><circle cx="567.4" cy="1293.8" r="4.0" class="O"/><circle cx="647.6" cy="1119.4" r="4.7" class="B"/><circle cx="884.0" cy="974.0" r="4.7" class="G"/><circle cx="756.0" cy="354.5" r="4.7" class="G"/><circle cx="449.6" cy="1340.8" r="4.3" class="R"/><circle cx="739.0" cy="976.0" r="4.7" class="G"/><circle cx="372.5" cy="1294.1" r="4.2" class="R"/><circle cx="511.0" cy="1326.0" r="4.3" class="O"/><circle cx="628.9" cy="1213.7" r="4.4" class="B"/><circle cx="802.3" cy="1336.7" r="5.9" class="G"/><circle cx="801.4" cy="1217.3" r="4.3" class="G"/><circle cx="773.3" cy="1326.1" r="4.1" class="G"/><circle cx="582.0" cy="1021.0" r="4.7" class="B"/><circle cx="664.1" cy="1097.2" r="4.2" class="B"/><circle cx="383.6" cy="1374.1" r="4.2" class="R"/><circle cx="520.2" cy="1217.9" r="4.1" class="O"/><circle cx="560.9" cy="1346.7" r="6.7" class="O"/><circle cx="1072.5" cy="967.5" r="6.7" class="G"/><circle cx="695.7" cy="1371.1" r="4.3" class="B"/><circle cx="808.6" cy="1313.9" r="6.3" class="G"/><circle cx="682.3" cy="1200.0" r="4.4" class="B"/><circle cx="635.1" cy="1134.2" r="4.2" class="B"/><circle cx="558.9" cy="1253.2" r="4.0" class="O"/><circle cx="488.1" cy="1238.8" r="5.1" class="O"/><circle cx="423.9" cy="1319.8" r="4.4" class="R"/><circle cx="456.6" cy="1236.5" r="6.3" class="R"/><circle cx="554.1" cy="1205.5" r="4.0" class="O"/><circle cx="610.4" cy="1206.3" r="5.0" class="B"/><circle cx="725.2" cy="1101.8" r="4.6" class="B"/><circle cx="690.6" cy="1048.5" r="4.6" class="B"/><circle cx="574.8" cy="1248.2" r="6.1" class="O"/><circle cx="681.4" cy="1251.7" r="4.3" class="B"/><circle cx="639.8" cy="1156.0" r="5.3" class="B"/><circle cx="362.7" cy="1287.4" r="4.3" class="R"/><circle cx="496.3" cy="1230.9" r="4.4" class="O"/><circle cx="687.6" cy="1047.5" r="4.4" class="B"/><circle cx="392.7" cy="1366.4" r="5.1" class="R"/><circle cx="423.2" cy="1335.6" r="4.2" class="R"/><circle cx="700.4" cy="1347.0" r="4.2" class="B"/><circle cx="874.0" cy="1010.0" r="4.7" class="G"/><circle cx="528.0" cy="1206.1" r="4.7" class="O"/><circle cx="750.0" cy="1359.5" r="4.7" class="G"/><circle cx="506.0" cy="1113.5" r="4.7" class="O"/><circle cx="518.0" cy="429.0" r="4.7" class="O"/><circle cx="743.1" cy="1185.3" r="6.4" class="G"/><circle cx="569.2" cy="1330.9" r="4.4" class="O"/><circle cx="769.9" cy="1142.8" r="5.0" class="G"/><circle cx="602.2" cy="1305.2" r="4.0" class="B"/><circle cx="656.9" cy="1171.6" r="4.3" class="B"/><circle cx="650.0" cy="1235.8" r="4.0" class="B"/><circle cx="615.1" cy="1125.9" r="4.1" class="B"/><circle cx="661.7" cy="1177.6" r="4.2" class="B"/><circle cx="710.4" cy="1291.8" r="4.4" class="B"/><circle cx="550.4" cy="1280.6" r="6.3" class="O"/><circle cx="764.4" cy="1227.8" r="5.5" class="G"/><circle cx="490.0" cy="1302.8" r="4.1" class="O"/><circle cx="538.5" cy="1291.1" r="5.0" class="O"/><circle cx="1012.0" cy="1150.0" r="4.7" class="G"/><circle cx="794.0" cy="1208.3" r="4.4" class="G"/><circle cx="588.5" cy="1296.0" r="4.0" class="B"/><circle cx="689.3" cy="1160.1" r="6.2" class="B"/><circle cx="512.7" cy="1219.8" r="5.7" class="O"/><circle cx="647.0" cy="1351.5" r="4.2" class="B"/><circle cx="326.0" cy="1260.0" r="4.7" class="R"/><circle cx="664.4" cy="1145.2" r="4.4" class="B"/><circle cx="496.7" cy="1361.2" r="4.4" class="O"/><circle cx="597.1" cy="1233.4" r="4.8" class="B"/><circle cx="380.8" cy="1291.4" r="4.1" class="R"/><circle cx="947.5" cy="1263.7" r="5.0" class="G"/><circle cx="661.0" cy="1027.5" r="4.7" class="B"/><circle cx="680.8" cy="1246.6" r="4.1" class="B"/><circle cx="861.0" cy="1159.0" r="4.7" class="G"/><circle cx="415.8" cy="1343.7" r="4.5" class="R"/><circle cx="594.8" cy="1110.8" r="4.6" class="B"/><circle cx="916.0" cy="1197.0" r="4.8" class="G"/><circle cx="746.0" cy="957.5" r="4.7" class="G"/><circle cx="752.0" cy="1381.0" r="4.7" class="G"/><circle cx="766.0" cy="1357.0" r="5.2" class="G"/><circle cx="799.2" cy="1129.2" r="4.4" class="G"/><circle cx="767.6" cy="1214.4" r="4.0" class="G"/><circle cx="464.0" cy="453.0" r="4.5" class="R"/><circle cx="661.3" cy="1195.8" r="4.2" class="B"/><circle cx="839.5" cy="1206.8" r="4.4" class="G"/><circle cx="686.9" cy="1160.5" r="5.3" class="B"/><circle cx="417.5" cy="1241.9" r="4.4" class="R"/><circle cx="591.2" cy="1290.8" r="4.4" class="B"/><circle cx="592.8" cy="1041.6" r="4.4" class="B"/><circle cx="748.0" cy="627.0" r="4.7" class="G"/><circle cx="506.0" cy="1313.9" r="4.8" class="O"/><circle cx="603.2" cy="1153.9" r="4.1" class="B"/><circle cx="492.5" cy="1072.5" r="4.7" class="O"/><circle cx="633.0" cy="1243.7" r="4.4" class="B"/><circle cx="589.5" cy="1264.8" r="5.9" class="B"/><circle cx="542.5" cy="1320.4" r="4.4" class="O"/><circle cx="352.5" cy="280.0" r="4.7" class="R"/><circle cx="587.8" cy="1214.7" r="4.3" class="B"/><circle cx="743.8" cy="1186.8" r="4.0" class="G"/><circle cx="741.4" cy="1211.7" r="4.3" class="G"/><circle cx="570.0" cy="979.0" r="4.7" class="O"/><circle cx="661.8" cy="1277.5" r="4.3" class="B"/><circle cx="593.2" cy="1171.0" r="5.1" class="B"/><circle cx="899.0" cy="1100.0" r="4.7" class="G"/><circle cx="451.8" cy="1284.9" r="4.3" class="R"/><circle cx="482.3" cy="1266.3" r="4.2" class="R"/><circle cx="568.5" cy="1074.0" r="4.7" class="O"/><circle cx="384.1" cy="1339.8" r="4.3" class="R"/><circle cx="610.0" cy="762.0" r="4.5" class="B"/><circle cx="1011.0" cy="946.0" r="4.5" class="G"/><circle cx="391.8" cy="1271.0" r="4.2" class="R"/><circle cx="639.0" cy="1206.8" r="4.1" class="B"/><circle cx="502.5" cy="1102.5" r="4.7" class="O"/><circle cx="513.2" cy="1296.2" r="4.1" class="O"/><circle cx="427.4" cy="1245.1" r="4.1" class="R"/><circle cx="507.0" cy="1275.4" r="4.1" class="O"/><circle cx="1074.0" cy="1149.0" r="4.8" class="G"/><circle cx="580.9" cy="1206.4" r="4.2" class="B"/><circle cx="690.5" cy="1215.1" r="4.2" class="B"/><circle cx="779.7" cy="1085.6" r="4.4" class="G"/><circle cx="584.0" cy="1206.6" r="5.3" class="B"/><circle cx="1006.7" cy="1130.8" r="4.7" class="G"/><circle cx="533.9" cy="1322.1" r="4.1" class="O"/><circle cx="525.1" cy="1219.1" r="4.2" class="O"/><circle cx="453.4" cy="1274.8" r="4.6" class="R"/><circle cx="619.5" cy="935.0" r="4.7" class="B"/><circle cx="589.6" cy="1206.8" r="5.1" class="B"/><circle cx="763.6" cy="1206.8" r="4.4" class="G"/><circle cx="472.3" cy="1262.3" r="4.6" class="R"/><circle cx="557.4" cy="1161.5" r="4.4" class="O"/><circle cx="594.1" cy="1187.4" r="4.2" class="B"/><circle cx="507.2" cy="1294.4" r="4.9" class="O"/><circle cx="552.3" cy="1341.2" r="4.3" class="O"/><circle cx="936.7" cy="1204.0" r="4.7" class="G"/><circle cx="611.8" cy="1206.7" r="4.3" class="B"/><circle cx="782.9" cy="1195.5" r="5.9" class="G"/><circle cx="631.0" cy="1185.9" r="4.5" class="B"/><circle cx="455.7" cy="1259.4" r="4.7" class="R"/><circle cx="751.5" cy="1086.5" r="4.0" class="G"/><circle cx="630.5" cy="1125.0" r="6.0" class="B"/><circle cx="561.6" cy="1275.3" r="4.1" class="O"/><circle cx="736.7" cy="1228.1" r="4.2" class="G"/><circle cx="942.5" cy="1104.0" r="4.7" class="G"/><circle cx="392.0" cy="494.0" r="4.5" class="R"/><circle cx="764.0" cy="907.5" r="4.7" class="G"/><circle cx="583.9" cy="1125.6" r="4.0" class="B"/><circle cx="798.6" cy="1277.6" r="4.4" class="G"/><circle cx="899.7" cy="1283.3" r="4.7" class="G"/><circle cx="599.3" cy="1244.7" r="4.3" class="B"/><circle cx="472.7" cy="1289.4" r="4.1" class="R"/><circle cx="657.9" cy="1145.7" r="5.2" class="B"/><circle cx="702.7" cy="1321.9" r="5.7" class="B"/><circle cx="462.5" cy="626.0" r="4.5" class="R"/><circle cx="383.1" cy="1281.0" r="4.4" class="R"/><circle cx="457.2" cy="1261.4" r="4.2" class="R"/><circle cx="381.0" cy="1369.9" r="4.0" class="R"/><circle cx="526.9" cy="1232.3" r="6.2" class="O"/><circle cx="787.2" cy="1323.0" r="4.2" class="G"/><circle cx="512.4" cy="1290.1" r="4.2" class="O"/><circle cx="744.0" cy="946.0" r="5.8" class="G"/><circle cx="584.8" cy="1296.3" r="4.1" class="B"/><circle cx="666.1" cy="1210.0" r="4.4" class="B"/><circle cx="527.5" cy="1102.5" r="5.5" class="O"/><circle cx="996.3" cy="1178.7" r="4.7" class="G"/><circle cx="682.2" cy="1205.4" r="4.4" class="B"/><circle cx="702.0" cy="1159.7" r="4.2" class="B"/><circle cx="885.0" cy="984.0" r="4.7" class="G"/><circle cx="436.0" cy="1207.8" r="6.1" class="R"/><circle cx="437.7" cy="1258.5" r="4.3" class="R"/><circle cx="692.2" cy="1131.7" r="4.3" class="B"/><circle cx="373.7" cy="1340.4" r="4.1" class="R"/><circle cx="421.6" cy="1335.8" r="4.0" class="R"/><circle cx="895.0" cy="1115.0" r="4.7" class="G"/><circle cx="520.8" cy="1343.2" r="4.1" class="O"/><circle cx="663.0" cy="1268.4" r="4.2" class="B"/><circle cx="403.8" cy="1261.5" r="4.1" class="R"/><circle cx="709.9" cy="1181.7" r="4.2" class="B"/><circle cx="945.0" cy="989.0" r="5.5" class="G"/><circle cx="529.7" cy="1268.8" r="4.3" class="O"/><circle cx="611.9" cy="1197.5" r="4.1" class="B"/><circle cx="556.8" cy="1284.5" r="4.1" class="O"/><circle cx="478.5" cy="1048.5" r="5.5" class="R"/><circle cx="693.0" cy="1246.7" r="5.4" class="B"/><circle cx="606.3" cy="1167.3" r="4.2" class="B"/><circle cx="801.5" cy="1146.0" r="4.2" class="G"/><circle cx="1000.3" cy="1047.5" r="4.7" class="G"/><circle cx="612.4" cy="1209.5" r="6.2" class="B"/><circle cx="509.3" cy="1183.1" r="4.1" class="O"/><circle cx="535.1" cy="1263.2" r="4.0" class="O"/><circle cx="530.0" cy="1075.0" r="4.7" class="O"/><circle cx="689.1" cy="1231.5" r="5.0" class="B"/><circle cx="612.5" cy="946.0" r="4.7" class="B"/><circle cx="567.8" cy="1310.8" r="4.1" class="O"/><circle cx="529.3" cy="1267.1" r="4.4" class="O"/><circle cx="550.0" cy="1328.2" r="4.3" class="O"/><circle cx="725.5" cy="1269.9" r="4.3" class="B"/><circle cx="563.1" cy="1291.7" r="4.5" class="O"/><circle cx="579.0" cy="792.5" r="4.5" class="B"/><circle cx="565.0" cy="806.0" r="4.7" class="O"/><circle cx="447.5" cy="1256.4" r="5.6" class="R"/><circle cx="462.6" cy="1304.4" r="4.2" class="R"/><circle cx="560.0" cy="1011.0" r="4.7" class="O"/><circle cx="534.0" cy="951.0" r="4.8" class="O"/><circle cx="639.7" cy="1127.2" r="4.4" class="B"/><circle cx="585.6" cy="1301.6" r="5.0" class="B"/><circle cx="617.9" cy="1372.4" r="5.0" class="B"/><circle cx="656.2" cy="1343.4" r="4.7" class="B"/><circle cx="1034.7" cy="1185.3" r="5.0" class="G"/><circle cx="733.8" cy="1257.7" r="5.7" class="G"/><circle cx="364.5" cy="1317.3" r="4.0" class="R"/><circle cx="625.6" cy="1319.3" r="5.7" class="B"/><circle cx="723.5" cy="1304.6" r="5.6" class="B"/><circle cx="777.6" cy="1096.7" r="4.9" class="G"/><circle cx="753.7" cy="1102.2" r="4.7" class="G"/><circle cx="635.0" cy="1126.3" r="4.2" class="B"/><circle cx="710.7" cy="1177.1" r="4.2" class="B"/><circle cx="395.8" cy="1329.7" r="4.6" class="R"/><circle cx="449.5" cy="1012.0" r="6.2" class="R"/><circle cx="539.0" cy="1297.4" r="5.3" class="O"/><circle cx="756.9" cy="1195.1" r="4.5" class="G"/><circle cx="526.8" cy="1278.1" r="4.4" class="O"/><circle cx="830.7" cy="1216.5" r="4.7" class="G"/><circle cx="608.3" cy="1070.1" r="4.1" class="B"/><circle cx="352.1" cy="1227.1" r="4.2" class="R"/><circle cx="587.2" cy="1284.5" r="4.5" class="B"/><circle cx="776.0" cy="1026.0" r="4.7" class="G"/><circle cx="559.8" cy="1247.2" r="4.0" class="O"/><circle cx="755.0" cy="947.5" r="4.7" class="G"/><circle cx="784.7" cy="1107.8" r="4.8" class="G"/><circle cx="597.4" cy="1162.2" r="4.4" class="B"/><circle cx="584.1" cy="1210.5" r="4.4" class="B"/><circle cx="1004.0" cy="946.0" r="4.8" class="G"/><circle cx="567.3" cy="1332.6" r="4.2" class="O"/><circle cx="652.3" cy="1241.4" r="4.3" class="B"/><circle cx="532.5" cy="1105.0" r="4.7" class="O"/><circle cx="728.3" cy="1224.4" r="5.0" class="B"/><circle cx="777.9" cy="1148.4" r="4.2" class="G"/><circle cx="642.0" cy="931.0" r="4.7" class="B"/><circle cx="679.0" cy="883.0" r="4.7" class="B"/><circle cx="545.7" cy="1240.2" r="5.6" class="O"/><circle cx="629.7" cy="1249.1" r="5.8" class="B"/><circle cx="771.4" cy="1240.7" r="4.8" class="G"/><circle cx="543.4" cy="1231.2" r="4.4" class="O"/><circle cx="793.5" cy="1029.7" r="4.1" class="G"/><circle cx="583.1" cy="1205.0" r="4.1" class="B"/><circle cx="574.3" cy="1277.4" r="4.4" class="O"/><circle cx="641.0" cy="1297.7" r="4.0" class="B"/><circle cx="680.9" cy="1240.2" r="4.3" class="B"/><circle cx="409.3" cy="1260.1" r="5.1" class="R"/><circle cx="568.3" cy="1357.0" r="4.4" class="O"/><circle cx="639.6" cy="1154.0" r="4.2" class="B"/><circle cx="739.7" cy="1101.4" r="4.3" class="G"/><circle cx="930.0" cy="1171.0" r="4.7" class="G"/><circle cx="774.2" cy="1250.2" r="4.6" class="G"/><circle cx="811.7" cy="1244.2" r="4.1" class="G"/><circle cx="780.2" cy="1059.2" r="4.2" class="G"/><circle cx="551.8" cy="1299.7" r="4.1" class="O"/><circle cx="656.9" cy="1195.3" r="4.3" class="B"/><circle cx="534.0" cy="1264.7" r="4.3" class="O"/><circle cx="707.0" cy="911.0" r="4.7" class="B"/><circle cx="392.5" cy="1319.1" r="4.1" class="R"/><circle cx="562.4" cy="1315.1" r="5.2" class="O"/><circle cx="652.6" cy="1246.5" r="4.1" class="B"/><circle cx="642.0" cy="552.0" r="4.7" class="B"/><circle cx="1050.0" cy="1279.0" r="4.2" class="G"/><circle cx="564.3" cy="1270.4" r="4.2" class="O"/><circle cx="615.9" cy="1107.4" r="4.0" class="B"/><circle cx="585.1" cy="1238.9" r="4.2" class="B"/><circle cx="641.3" cy="1241.3" r="4.1" class="B"/><circle cx="739.7" cy="1142.8" r="4.0" class="G"/><circle cx="780.0" cy="584.0" r="4.7" class="G"/><circle cx="666.4" cy="1174.9" r="4.0" class="B"/><circle cx="745.0" cy="1113.9" r="4.3" class="G"/><circle cx="599.5" cy="1240.4" r="4.1" class="B"/><circle cx="614.7" cy="1188.7" r="4.1" class="B"/><circle cx="651.2" cy="1080.4" r="4.3" class="B"/><circle cx="974.0" cy="1004.0" r="4.7" class="G"/><circle cx="401.3" cy="1205.0" r="4.0" class="R"/><circle cx="449.1" cy="1318.3" r="4.3" class="R"/><circle cx="706.4" cy="1184.5" r="4.1" class="B"/><circle cx="559.8" cy="1330.7" r="4.1" class="O"/><circle cx="371.1" cy="1286.4" r="5.1" class="R"/><circle cx="830.8" cy="1136.1" r="4.1" class="G"/><circle cx="503.6" cy="1206.3" r="4.1" class="O"/><circle cx="545.0" cy="1120.0" r="4.7" class="O"/><circle cx="484.8" cy="1346.8" r="4.2" class="R"/><circle cx="952.0" cy="1165.0" r="5.2" class="G"/><circle cx="627.0" cy="1151.8" r="4.2" class="B"/><circle cx="672.5" cy="1131.4" r="4.1" class="B"/><circle cx="438.7" cy="1260.1" r="4.0" class="R"/><circle cx="625.0" cy="1014.0" r="4.7" class="B"/><circle cx="550.9" cy="1236.0" r="4.6" class="O"/><circle cx="636.2" cy="1274.0" r="4.2" class="B"/><circle cx="560.9" cy="1279.5" r="5.1" class="O"/><circle cx="484.3" cy="1334.0" r="4.2" class="R"/><circle cx="393.8" cy="1293.9" r="4.0" class="R"/><circle cx="705.0" cy="1004.0" r="4.7" class="B"/><circle cx="410.0" cy="1303.9" r="4.2" class="R"/><circle cx="1785.0" cy="1176.0" r="5.2" class="G"/><circle cx="532.1" cy="1247.4" r="4.6" class="O"/><circle cx="573.2" cy="1215.2" r="5.1" class="O"/><circle cx="493.7" cy="1384.3" r="4.7" class="O"/><circle cx="478.0" cy="1298.2" r="4.3" class="R"/><circle cx="554.5" cy="1329.2" r="4.3" class="O"/><circle cx="431.0" cy="1102.5" r="4.7" class="R"/><circle cx="613.0" cy="626.0" r="4.7" class="B"/><circle cx="824.7" cy="1147.7" r="4.6" class="G"/><circle cx="431.4" cy="1375.4" r="4.1" class="R"/><circle cx="565.4" cy="1173.0" r="4.9" class="O"/><circle cx="801.1" cy="1141.3" r="4.9" class="G"/><circle cx="776.2" cy="1186.4" r="4.4" class="G"/><circle cx="504.0" cy="1271.7" r="4.3" class="O"/><circle cx="474.7" cy="1211.7" r="4.3" class="R"/><circle cx="536.8" cy="1334.9" r="4.2" class="O"/><circle cx="526.5" cy="1212.3" r="5.1" class="O"/><circle cx="498.8" cy="1244.7" r="4.4" class="O"/><circle cx="565.3" cy="1264.6" r="4.1" class="O"/><circle cx="636.2" cy="1331.7" r="5.1" class="B"/><circle cx="817.8" cy="1205.4" r="4.1" class="G"/><circle cx="1096.0" cy="1015.0" r="6.7" class="G"/><circle cx="852.5" cy="1204.5" r="4.7" class="G"/><circle cx="598.5" cy="1243.4" r="4.2" class="B"/><circle cx="479.7" cy="1263.3" r="4.2" class="R"/><circle cx="1054.2" cy="1056.7" r="4.7" class="G"/><circle cx="957.5" cy="1211.7" r="4.7" class="G"/><circle cx="460.9" cy="1242.8" r="4.2" class="R"/><circle cx="778.4" cy="1263.5" r="4.5" class="G"/><circle cx="581.1" cy="1096.8" r="4.3" class="B"/><circle cx="502.2" cy="1224.4" r="6.2" class="O"/><circle cx="427.7" cy="1277.1" r="5.6" class="R"/><circle cx="374.3" cy="1285.4" r="4.2" class="R"/><circle cx="972.5" cy="992.5" r="4.7" class="G"/><circle cx="516.3" cy="1291.5" r="4.2" class="O"/><circle cx="721.5" cy="1221.8" r="4.1" class="B"/><circle cx="683.2" cy="1185.1" r="4.1" class="B"/><circle cx="469.9" cy="1344.2" r="5.2" class="R"/><circle cx="619.8" cy="1306.2" r="5.1" class="B"/><circle cx="565.4" cy="1275.0" r="4.3" class="O"/><circle cx="528.2" cy="1174.2" r="4.2" class="O"/><circle cx="663.5" cy="1278.5" r="4.2" class="B"/><circle cx="507.9" cy="1210.5" r="4.4" class="O"/><circle cx="786.0" cy="858.0" r="4.7" class="G"/><circle cx="415.7" cy="1229.3" r="4.8" class="R"/><circle cx="584.4" cy="1220.7" r="5.9" class="B"/><circle cx="659.7" cy="1270.8" r="4.4" class="B"/><circle cx="892.5" cy="879.5" r="4.5" class="G"/><circle cx="761.4" cy="1073.7" r="4.3" class="G"/><circle cx="550.0" cy="1105.0" r="4.7" class="O"/><circle cx="595.5" cy="1277.1" r="5.2" class="B"/><circle cx="763.0" cy="1327.3" r="4.2" class="G"/><circle cx="392.6" cy="1282.7" r="4.1" class="R"/><circle cx="731.0" cy="1006.0" r="4.7" class="G"/><circle cx="633.7" cy="1274.5" r="4.0" class="B"/><circle cx="357.4" cy="1284.8" r="4.0" class="R"/><circle cx="789.0" cy="919.0" r="4.7" class="G"/><circle cx="568.1" cy="1203.0" r="5.2" class="O"/><circle cx="381.9" cy="1300.5" r="4.2" class="R"/><circle cx="344.0" cy="1232.0" r="4.7" class="R"/><circle cx="651.9" cy="1319.9" r="5.6" class="B"/><circle cx="949.0" cy="1242.0" r="4.7" class="G"/><circle cx="649.6" cy="1224.7" r="4.7" class="B"/><circle cx="443.5" cy="1049.0" r="4.7" class="R"/><circle cx="480.0" cy="1060.0" r="4.7" class="R"/><circle cx="558.4" cy="1376.3" r="4.4" class="O"/><circle cx="753.2" cy="1250.8" r="4.1" class="G"/><circle cx="563.3" cy="1221.7" r="4.2" class="O"/><circle cx="763.5" cy="1096.4" r="4.5" class="G"/><circle cx="708.6" cy="1175.0" r="4.3" class="B"/><circle cx="600.8" cy="1174.3" r="4.0" class="B"/><circle cx="554.5" cy="1289.5" r="5.9" class="O"/><circle cx="832.2" cy="1148.7" r="4.0" class="G"/><circle cx="538.2" cy="1323.4" r="4.2" class="O"/><circle cx="634.3" cy="1254.6" r="4.1" class="B"/><circle cx="517.2" cy="1286.7" r="4.0" class="O"/><circle cx="467.5" cy="1273.5" r="5.1" class="R"/><circle cx="498.3" cy="1243.5" r="4.2" class="O"/><circle cx="537.0" cy="1280.7" r="4.8" class="O"/><circle cx="518.0" cy="1232.8" r="4.3" class="O"/><circle cx="485.4" cy="1315.6" r="4.3" class="R"/><circle cx="936.7" cy="1225.0" r="4.7" class="G"/><circle cx="461.3" cy="1259.5" r="4.3" class="R"/><circle cx="793.7" cy="1173.6" r="4.1" class="G"/><circle cx="1734.0" cy="1207.0" r="4.2" class="G"/><circle cx="589.3" cy="1257.2" r="4.8" class="B"/><circle cx="504.8" cy="1292.1" r="4.9" class="O"/><circle cx="975.0" cy="1215.0" r="5.8" class="G"/><circle cx="751.9" cy="1207.1" r="4.4" class="G"/><circle cx="680.3" cy="1120.9" r="5.4" class="B"/><circle cx="511.2" cy="1355.9" r="4.4" class="O"/><circle cx="467.6" cy="1218.8" r="4.2" class="R"/><circle cx="737.9" cy="1048.0" r="4.6" class="G"/><circle cx="639.4" cy="1331.5" r="4.3" class="B"/><circle cx="719.5" cy="980.0" r="4.7" class="B"/><circle cx="366.8" cy="1329.4" r="4.3" class="R"/><circle cx="648.1" cy="1313.0" r="4.1" class="B"/><circle cx="510.8" cy="1278.9" r="4.0" class="O"/><circle cx="736.4" cy="1341.4" r="4.4" class="G"/><circle cx="534.4" cy="1369.3" r="5.4" class="O"/><circle cx="727.1" cy="1208.9" r="5.1" class="B"/><circle cx="522.0" cy="1245.8" r="4.0" class="O"/><circle cx="751.4" cy="1343.8" r="4.1" class="G"/><circle cx="532.7" cy="1210.9" r="4.3" class="O"/><circle cx="811.6" cy="1240.4" r="5.1" class="G"/><circle cx="638.1" cy="1231.5" r="4.6" class="B"/><circle cx="667.5" cy="858.0" r="4.7" class="B"/><circle cx="750.0" cy="884.0" r="4.7" class="G"/><circle cx="527.6" cy="1214.1" r="5.2" class="O"/><circle cx="702.8" cy="1182.9" r="5.2" class="B"/><circle cx="536.4" cy="1240.5" r="6.0" class="O"/><circle cx="447.6" cy="1297.7" r="5.0" class="R"/><circle cx="500.0" cy="1256.2" r="4.2" class="O"/><circle cx="535.2" cy="1250.5" r="4.4" class="O"/><circle cx="373.0" cy="1254.7" r="5.6" class="R"/><circle cx="498.0" cy="1303.2" r="4.2" class="O"/><circle cx="482.3" cy="1363.5" r="4.1" class="R"/><circle cx="514.0" cy="684.0" r="4.5" class="O"/><circle cx="381.6" cy="1259.9" r="4.1" class="R"/><circle cx="554.6" cy="1303.7" r="4.4" class="O"/><circle cx="649.5" cy="1160.3" r="4.3" class="B"/><circle cx="716.9" cy="1167.9" r="5.7" class="B"/><circle cx="459.9" cy="1291.7" r="5.2" class="R"/><circle cx="636.7" cy="1299.0" r="4.2" class="B"/><circle cx="624.5" cy="1255.2" r="4.0" class="B"/><circle cx="407.1" cy="1354.6" r="4.4" class="R"/><circle cx="612.5" cy="511.0" r="4.7" class="B"/><circle cx="598.9" cy="1184.5" r="6.2" class="B"/><circle cx="665.7" cy="1214.7" r="4.2" class="B"/><circle cx="590.6" cy="1156.4" r="5.8" class="B"/><circle cx="659.5" cy="752.0" r="4.5" class="B"/><circle cx="793.2" cy="1121.1" r="4.3" class="G"/><circle cx="709.3" cy="1326.4" r="4.6" class="B"/><circle cx="608.0" cy="1182.8" r="4.2" class="B"/><circle cx="503.2" cy="1246.9" r="4.5" class="O"/><circle cx="753.9" cy="1245.0" r="5.0" class="G"/><circle cx="767.2" cy="1085.6" r="4.0" class="G"/><circle cx="369.3" cy="1260.8" r="4.4" class="R"/><circle cx="529.9" cy="1265.4" r="4.2" class="O"/><circle cx="855.0" cy="1092.5" r="5.2" class="G"/><circle cx="496.4" cy="1287.8" r="4.3" class="O"/><circle cx="664.5" cy="1282.0" r="6.4" class="B"/><circle cx="637.0" cy="806.0" r="4.5" class="B"/><circle cx="507.6" cy="1364.0" r="4.1" class="O"/><circle cx="612.5" cy="1184.8" r="4.1" class="B"/><circle cx="564.4" cy="1279.0" r="4.4" class="O"/><circle cx="884.0" cy="1236.0" r="5.0" class="G"/><circle cx="750.6" cy="1090.5" r="4.3" class="G"/><circle cx="754.0" cy="952.5" r="4.7" class="G"/><circle cx="426.9" cy="1355.3" r="4.0" class="R"/><circle cx="926.0" cy="1221.7" r="4.7" class="G"/><circle cx="398.7" cy="1268.4" r="4.2" class="R"/><circle cx="764.9" cy="1245.2" r="4.2" class="G"/><circle cx="467.1" cy="1294.1" r="4.2" class="R"/><circle cx="643.0" cy="1253.9" r="5.0" class="B"/><circle cx="727.4" cy="1300.2" r="4.3" class="B"/><circle cx="481.2" cy="1321.9" r="4.4" class="R"/><circle cx="1200.0" cy="1149.0" r="4.8" class="G"/><circle cx="382.9" cy="1287.3" r="4.1" class="R"/><circle cx="568.2" cy="1326.3" r="4.1" class="O"/><circle cx="798.5" cy="1316.3" r="4.3" class="G"/><circle cx="758.4" cy="1206.5" r="4.1" class="G"/><circle cx="631.0" cy="1024.0" r="4.7" class="B"/><circle cx="520.4" cy="1313.8" r="4.0" class="O"/><circle cx="822.7" cy="1157.0" r="4.1" class="G"/><circle cx="562.1" cy="1240.3" r="5.8" class="O"/><circle cx="736.5" cy="1127.2" r="4.4" class="G"/><circle cx="835.0" cy="982.5" r="5.5" class="G"/><circle cx="722.5" cy="463.0" r="4.7" class="B"/><circle cx="417.9" cy="1316.3" r="5.0" class="R"/><circle cx="622.9" cy="1150.8" r="4.2" class="B"/><circle cx="644.7" cy="1315.1" r="4.0" class="B"/><circle cx="1021.7" cy="1165.5" r="4.7" class="G"/><circle cx="766.0" cy="642.0" r="4.5" class="G"/><circle cx="775.3" cy="1148.8" r="4.9" class="G"/><circle cx="644.7" cy="1138.7" r="5.1" class="B"/><circle cx="556.1" cy="1274.0" r="4.1" class="O"/><circle cx="787.5" cy="982.5" r="4.7" class="G"/><circle cx="582.9" cy="1354.6" r="4.0" class="B"/><circle cx="884.0" cy="1263.0" r="5.5" class="G"/><circle cx="656.8" cy="1315.3" r="4.4" class="B"/><circle cx="594.1" cy="1326.5" r="4.3" class="B"/><circle cx="820.0" cy="1355.0" r="4.7" class="G"/><circle cx="724.7" cy="1069.2" r="4.1" class="B"/><circle cx="804.8" cy="1147.1" r="4.1" class="G"/><circle cx="892.5" cy="1271.0" r="5.0" class="G"/><circle cx="492.3" cy="1213.9" r="4.1" class="O"/><circle cx="546.9" cy="1270.2" r="4.1" class="O"/><circle cx="493.5" cy="1152.1" r="5.1" class="O"/><circle cx="596.1" cy="1202.2" r="4.4" class="B"/><circle cx="721.7" cy="1040.8" r="6.3" class="B"/><circle cx="556.8" cy="1344.1" r="4.2" class="O"/><circle cx="639.0" cy="971.0" r="4.7" class="B"/><circle cx="671.8" cy="1353.8" r="4.4" class="B"/><circle cx="690.9" cy="1168.1" r="4.4" class="B"/><circle cx="685.2" cy="1227.8" r="5.0" class="B"/><circle cx="601.0" cy="783.0" r="4.5" class="B"/><circle cx="755.9" cy="1298.4" r="4.0" class="G"/><circle cx="566.1" cy="1275.6" r="4.3" class="O"/><circle cx="629.9" cy="1057.8" r="4.0" class="B"/><circle cx="608.7" cy="1280.9" r="4.6" class="B"/><circle cx="702.4" cy="1145.8" r="4.1" class="B"/><circle cx="571.1" cy="1267.6" r="4.1" class="O"/><circle cx="491.4" cy="1327.9" r="5.6" class="O"/><circle cx="632.3" cy="1281.1" r="4.2" class="B"/><circle cx="613.8" cy="1210.0" r="4.3" class="B"/><circle cx="621.7" cy="1299.9" r="4.0" class="B"/><circle cx="440.8" cy="1274.6" r="4.3" class="R"/><circle cx="936.0" cy="1355.0" r="5.0" class="G"/><circle cx="659.3" cy="1153.7" r="4.8" class="B"/><circle cx="508.5" cy="1258.4" r="4.2" class="O"/><circle cx="677.0" cy="1206.9" r="4.0" class="B"/><circle cx="603.3" cy="1200.7" r="6.4" class="B"/><circle cx="762.9" cy="1192.5" r="4.0" class="G"/><circle cx="1014.0" cy="809.0" r="4.5" class="G"/><circle cx="569.9" cy="1330.2" r="4.2" class="O"/><circle cx="512.4" cy="1335.7" r="4.1" class="O"/><circle cx="448.2" cy="1287.6" r="4.2" class="R"/><circle cx="437.5" cy="1295.0" r="4.8" class="R"/><circle cx="702.4" cy="1281.9" r="4.3" class="B"/><circle cx="570.3" cy="1338.7" r="4.2" class="O"/><circle cx="733.0" cy="563.0" r="4.5" class="G"/><circle cx="891.0" cy="848.0" r="4.5" class="G"/><circle cx="961.0" cy="1196.0" r="4.7" class="G"/><circle cx="656.6" cy="1227.7" r="5.1" class="B"/><circle cx="536.3" cy="1230.2" r="4.2" class="O"/><circle cx="531.2" cy="1323.3" r="6.0" class="O"/><circle cx="766.8" cy="1248.6" r="4.4" class="G"/><circle cx="464.0" cy="975.0" r="5.0" class="R"/><circle cx="447.1" cy="1167.5" r="6.3" class="R"/><circle cx="456.2" cy="1261.3" r="4.2" class="R"/><circle cx="523.7" cy="1293.9" r="4.9" class="O"/><circle cx="804.3" cy="1241.0" r="4.3" class="G"/><circle cx="530.0" cy="1026.0" r="4.7" class="O"/><circle cx="636.0" cy="1238.0" r="4.5" class="B"/><circle cx="708.1" cy="1357.7" r="5.9" class="B"/><circle cx="631.2" cy="1133.8" r="4.3" class="B"/><circle cx="580.1" cy="1131.6" r="4.9" class="B"/><circle cx="758.3" cy="1194.7" r="4.6" class="G"/><circle cx="506.6" cy="1263.2" r="4.2" class="O"/><circle cx="674.5" cy="1251.5" r="4.0" class="B"/><circle cx="806.2" cy="1258.6" r="4.2" class="G"/><circle cx="767.0" cy="1092.8" r="4.6" class="G"/><circle cx="572.0" cy="902.5" r="4.7" class="O"/><circle cx="831.7" cy="1173.5" r="4.2" class="G"/><circle cx="748.8" cy="1198.3" r="4.9" class="G"/><circle cx="330.0" cy="1289.0" r="4.7" class="R"/><circle cx="672.8" cy="1157.5" r="5.1" class="B"/><circle cx="800.9" cy="1255.3" r="4.1" class="G"/><circle cx="804.0" cy="999.0" r="4.7" class="G"/><circle cx="406.0" cy="1258.9" r="5.4" class="R"/><circle cx="806.1" cy="1135.9" r="4.2" class="G"/><circle cx="444.5" cy="1297.6" r="4.4" class="R"/><circle cx="696.4" cy="1288.3" r="5.0" class="B"/><circle cx="740.0" cy="947.5" r="4.7" class="G"/><circle cx="574.9" cy="1287.5" r="4.4" class="O"/><circle cx="770.5" cy="1315.2" r="4.1" class="G"/><circle cx="627.4" cy="1378.7" r="4.5" class="B"/><circle cx="576.3" cy="1369.9" r="4.0" class="O"/><circle cx="563.4" cy="1233.1" r="5.1" class="O"/><circle cx="534.0" cy="1020.0" r="4.7" class="O"/><circle cx="427.0" cy="1261.2" r="6.4" class="R"/><circle cx="1129.0" cy="1337.0" r="4.8" class="G"/><circle cx="582.2" cy="1180.8" r="4.2" class="B"/><circle cx="721.0" cy="1298.3" r="4.3" class="B"/><circle cx="617.3" cy="1251.4" r="5.0" class="B"/><circle cx="687.9" cy="1127.5" r="4.6" class="B"/><circle cx="488.6" cy="1275.9" r="4.4" class="O"/><circle cx="441.9" cy="1292.4" r="4.2" class="R"/><circle cx="1187.5" cy="1162.0" r="4.5" class="G"/><circle cx="802.3" cy="1038.5" r="4.4" class="G"/><circle cx="831.0" cy="976.0" r="4.7" class="G"/><circle cx="395.8" cy="1319.5" r="4.3" class="R"/><circle cx="469.4" cy="1268.2" r="4.0" class="R"/><circle cx="566.6" cy="1300.6" r="4.4" class="O"/><circle cx="787.5" cy="1026.0" r="4.7" class="G"/><circle cx="658.5" cy="1114.1" r="6.4" class="B"/><circle cx="682.9" cy="1207.2" r="4.1" class="B"/><circle cx="604.1" cy="1123.3" r="4.0" class="B"/><circle cx="514.3" cy="1208.5" r="4.2" class="O"/><circle cx="549.2" cy="1313.5" r="4.3" class="O"/><circle cx="817.0" cy="1269.7" r="4.0" class="G"/><circle cx="593.3" cy="1212.0" r="4.2" class="B"/><circle cx="631.8" cy="1183.1" r="4.2" class="B"/><circle cx="491.8" cy="1336.8" r="4.6" class="O"/><circle cx="905.0" cy="1355.0" r="6.7" class="G"/><circle cx="1228.0" cy="1212.0" r="4.8" class="G"/><circle cx="617.7" cy="1356.5" r="4.4" class="B"/><circle cx="485.3" cy="1201.9" r="4.3" class="R"/><circle cx="806.9" cy="1207.2" r="4.4" class="G"/><circle cx="636.4" cy="1188.4" r="5.8" class="B"/><circle cx="522.5" cy="1047.5" r="4.7" class="O"/><circle cx="430.4" cy="1292.0" r="4.4" class="R"/><circle cx="575.1" cy="1353.9" r="4.4" class="O"/><circle cx="940.0" cy="1309.0" r="4.5" class="G"/><circle cx="433.5" cy="1318.3" r="4.0" class="R"/><circle cx="754.9" cy="1248.9" r="4.2" class="G"/><circle cx="498.6" cy="1288.3" r="5.1" class="O"/><circle cx="700.9" cy="1072.9" r="4.4" class="B"/><circle cx="662.1" cy="1116.7" r="4.3" class="B"/><circle cx="647.3" cy="1308.7" r="4.3" class="B"/><circle cx="542.7" cy="1338.5" r="4.5" class="O"/><circle cx="585.5" cy="1120.1" r="4.4" class="B"/><circle cx="910.0" cy="1140.0" r="4.7" class="G"/><circle cx="483.9" cy="1253.6" r="4.5" class="R"/><circle cx="619.3" cy="1249.1" r="4.0" class="B"/><circle cx="499.8" cy="1180.5" r="4.0" class="O"/><circle cx="622.6" cy="1210.0" r="4.1" class="B"/><circle cx="716.5" cy="1214.5" r="4.1" class="B"/><circle cx="420.0" cy="1287.4" r="4.1" class="R"/><circle cx="494.0" cy="1232.0" r="4.9" class="O"/><circle cx="658.9" cy="1183.9" r="4.3" class="B"/><circle cx="430.4" cy="1277.0" r="4.1" class="R"/><circle cx="634.7" cy="1255.1" r="4.4" class="B"/><circle cx="805.4" cy="1207.1" r="4.8" class="G"/><circle cx="297.5" cy="1285.0" r="5.8" class="R"/><circle cx="656.1" cy="1326.1" r="4.3" class="B"/><circle cx="643.3" cy="1253.0" r="4.8" class="B"/><circle cx="421.3" cy="1336.6" r="4.6" class="R"/><circle cx="633.6" cy="1271.1" r="4.2" class="B"/><circle cx="399.0" cy="1286.6" r="4.0" class="R"/><circle cx="1112.0" cy="1202.5" r="5.0" class="G"/><circle cx="536.7" cy="1299.0" r="4.0" class="O"/><circle cx="314.5" cy="1261.0" r="4.7" class="R"/><circle cx="850.0" cy="1324.0" r="4.7" class="G"/><circle cx="467.9" cy="1295.5" r="4.3" class="R"/><circle cx="756.0" cy="886.0" r="4.7" class="G"/><circle cx="796.2" cy="1120.9" r="4.0" class="G"/><circle cx="569.8" cy="1310.1" r="5.1" class="O"/><circle cx="791.5" cy="1209.3" r="4.2" class="G"/><circle cx="436.7" cy="1268.8" r="5.7" class="R"/><circle cx="821.0" cy="495.0" r="4.5" class="G"/><circle cx="788.9" cy="1269.3" r="5.6" class="G"/><circle cx="768.3" cy="1041.4" r="4.3" class="G"/><circle cx="541.4" cy="1220.0" r="5.0" class="O"/><circle cx="436.2" cy="1228.5" r="4.3" class="R"/><circle cx="649.0" cy="862.5" r="4.7" class="B"/><circle cx="1822.0" cy="1166.0" r="5.7" class="G"/><circle cx="770.4" cy="1266.2" r="4.3" class="G"/><circle cx="559.0" cy="1258.9" r="5.0" class="O"/><circle cx="536.3" cy="1338.7" r="5.2" class="O"/><circle cx="398.7" cy="1261.0" r="4.3" class="R"/><circle cx="714.8" cy="1202.3" r="5.6" class="B"/><circle cx="596.1" cy="1313.3" r="4.0" class="B"/><circle cx="353.8" cy="1263.8" r="4.3" class="R"/><circle cx="707.1" cy="1329.3" r="4.3" class="B"/><circle cx="489.2" cy="1268.4" r="4.2" class="O"/><circle cx="349.0" cy="1232.0" r="4.7" class="R"/><circle cx="480.4" cy="1340.5" r="4.1" class="R"/><circle cx="547.6" cy="1342.0" r="6.3" class="O"/><circle cx="513.1" cy="1264.9" r="4.2" class="O"/><circle cx="686.9" cy="1060.7" r="4.6" class="B"/><circle cx="970.0" cy="984.0" r="4.7" class="G"/><circle cx="358.4" cy="1292.3" r="4.2" class="R"/><circle cx="368.6" cy="1261.2" r="4.6" class="R"/><circle cx="835.0" cy="1092.5" r="5.0" class="G"/><circle cx="636.0" cy="527.0" r="4.5" class="B"/><circle cx="722.7" cy="1320.4" r="4.4" class="B"/><circle cx="809.5" cy="852.5" r="4.7" class="G"/><circle cx="619.6" cy="1253.7" r="4.2" class="B"/><circle cx="685.7" cy="1230.6" r="4.5" class="B"/><circle cx="317.5" cy="1357.0" r="5.8" class="R"/><circle cx="469.1" cy="1288.5" r="5.6" class="R"/><circle cx="574.6" cy="1342.1" r="5.0" class="O"/><circle cx="687.8" cy="1253.9" r="4.1" class="B"/><circle cx="900.0" cy="1092.5" r="5.8" class="G"/><circle cx="554.1" cy="1221.7" r="4.8" class="O"/><circle cx="971.0" cy="855.0" r="4.8" class="G"/><circle cx="540.3" cy="1237.4" r="5.4" class="O"/><circle cx="389.9" cy="1323.9" r="4.2" class="R"/><circle cx="779.1" cy="1041.1" r="4.1" class="G"/><circle cx="671.3" cy="1300.1" r="4.4" class="B"/><circle cx="494.8" cy="1306.2" r="4.2" class="O"/><circle cx="760.8" cy="1262.3" r="4.1" class="G"/><circle cx="617.5" cy="1267.9" r="4.3" class="B"/><circle cx="668.5" cy="1304.2" r="5.3" class="B"/><circle cx="665.4" cy="1297.9" r="4.0" class="B"/><circle cx="702.6" cy="1329.5" r="4.4" class="B"/><circle cx="647.2" cy="1207.1" r="4.6" class="B"/><circle cx="565.9" cy="1270.2" r="5.0" class="O"/><circle cx="499.1" cy="1255.9" r="5.7" class="O"/><circle cx="381.1" cy="1314.5" r="4.3" class="R"/><circle cx="550.0" cy="1283.6" r="4.9" class="O"/><circle cx="940.0" cy="1182.5" r="4.7" class="G"/><circle cx="962.5" cy="1134.0" r="4.7" class="G"/><circle cx="515.1" cy="1234.8" r="6.7" class="O"/><circle cx="611.5" cy="1212.9" r="4.1" class="B"/><circle cx="506.8" cy="1299.9" r="4.3" class="O"/><circle cx="715.9" cy="1251.1" r="4.0" class="B"/><circle cx="537.8" cy="1316.4" r="4.6" class="O"/><circle cx="430.7" cy="1358.7" r="5.7" class="R"/><circle cx="707.9" cy="1190.1" r="4.1" class="B"/><circle cx="551.1" cy="1282.5" r="5.2" class="O"/><circle cx="784.9" cy="1255.0" r="4.4" class="G"/><circle cx="544.3" cy="1307.8" r="4.4" class="O"/><circle cx="463.9" cy="1293.0" r="4.4" class="R"/><circle cx="745.1" cy="1250.9" r="4.0" class="G"/><circle cx="488.7" cy="1286.6" r="5.2" class="O"/><circle cx="520.3" cy="1178.5" r="4.0" class="O"/><circle cx="722.2" cy="1094.7" r="6.1" class="B"/><circle cx="601.3" cy="1206.9" r="5.4" class="B"/><circle cx="610.6" cy="1329.5" r="4.3" class="B"/><circle cx="573.8" cy="1383.7" r="4.3" class="O"/><circle cx="810.1" cy="1231.3" r="5.0" class="G"/><circle cx="799.8" cy="1240.2" r="4.8" class="G"/><circle cx="666.6" cy="1205.0" r="4.1" class="B"/><circle cx="960.0" cy="945.0" r="5.5" class="G"/><circle cx="545.0" cy="1100.0" r="4.7" class="O"/><circle cx="419.3" cy="1261.3" r="4.1" class="R"/><circle cx="560.9" cy="1368.5" r="4.4" class="O"/><circle cx="835.9" cy="1287.6" r="4.7" class="G"/><circle cx="388.9" cy="1265.2" r="5.0" class="R"/><circle cx="722.9" cy="1117.4" r="4.4" class="B"/><circle cx="774.9" cy="1206.7" r="4.0" class="G"/><circle cx="296.0" cy="1220.5" r="4.7" class="R"/><circle cx="695.3" cy="1241.9" r="5.1" class="B"/><circle cx="548.5" cy="1296.5" r="4.0" class="O"/><circle cx="939.0" cy="1096.0" r="5.2" class="G"/><circle cx="654.1" cy="1240.4" r="5.0" class="B"/><circle cx="753.1" cy="1037.0" r="4.7" class="G"/><circle cx="634.7" cy="1241.5" r="6.3" class="B"/><circle cx="465.8" cy="1295.9" r="4.4" class="R"/><circle cx="930.0" cy="1030.0" r="4.7" class="G"/><circle cx="590.7" cy="1185.6" r="4.1" class="B"/><circle cx="461.1" cy="1350.7" r="4.3" class="R"/><circle cx="495.9" cy="1173.5" r="4.2" class="O"/><circle cx="798.2" cy="1310.2" r="4.3" class="G"/><circle cx="460.5" cy="1257.7" r="4.7" class="R"/><circle cx="678.0" cy="1257.3" r="4.8" class="B"/><circle cx="647.7" cy="1212.8" r="4.1" class="B"/><circle cx="587.0" cy="1073.4" r="4.1" class="B"/><circle cx="615.0" cy="1275.5" r="4.2" class="B"/><circle cx="637.0" cy="1155.9" r="4.3" class="B"/><circle cx="537.8" cy="1246.5" r="4.2" class="O"/><circle cx="946.0" cy="971.0" r="4.7" class="G"/><circle cx="411.9" cy="1247.0" r="4.4" class="R"/><circle cx="384.2" cy="1273.4" r="4.2" class="R"/><circle cx="1020.0" cy="1047.5" r="5.2" class="G"/><circle cx="853.0" cy="1241.7" r="4.7" class="G"/><circle cx="396.0" cy="1217.0" r="4.7" class="R"/><circle cx="617.9" cy="1254.6" r="4.3" class="B"/><circle cx="682.0" cy="782.5" r="5.0" class="B"/><circle cx="536.3" cy="1314.9" r="4.1" class="O"/><circle cx="551.5" cy="1345.8" r="4.1" class="O"/><circle cx="371.5" cy="1260.7" r="5.3" class="R"/><circle cx="759.4" cy="1203.8" r="5.5" class="G"/><circle cx="532.0" cy="1322.7" r="4.3" class="O"/><circle cx="659.0" cy="1119.1" r="4.0" class="B"/><circle cx="535.0" cy="1249.9" r="4.1" class="O"/><circle cx="612.0" cy="1330.0" r="4.1" class="B"/><circle cx="442.4" cy="1262.4" r="4.3" class="R"/><circle cx="549.8" cy="1313.8" r="6.5" class="O"/><circle cx="555.3" cy="1256.0" r="4.3" class="O"/><circle cx="385.0" cy="1288.1" r="6.4" class="R"/><circle cx="727.5" cy="1329.2" r="4.3" class="B"/><circle cx="763.0" cy="1188.3" r="4.7" class="G"/><circle cx="597.6" cy="1333.6" r="5.2" class="B"/><circle cx="339.9" cy="1277.0" r="4.4" class="R"/><circle cx="680.0" cy="1360.4" r="4.1" class="B"/><circle cx="523.4" cy="1309.9" r="4.4" class="O"/><circle cx="499.2" cy="1214.5" r="4.0" class="O"/><circle cx="352.5" cy="1204.0" r="4.7" class="R"/><circle cx="429.2" cy="1224.5" r="6.0" class="R"/><circle cx="704.3" cy="1262.9" r="4.3" class="B"/><circle cx="369.9" cy="1205.7" r="4.1" class="R"/><circle cx="665.9" cy="1247.3" r="4.0" class="B"/><circle cx="466.1" cy="1299.1" r="4.2" class="R"/><circle cx="366.9" cy="1337.8" r="4.3" class="R"/><circle cx="694.3" cy="1059.6" r="6.0" class="B"/><circle cx="717.5" cy="1239.6" r="5.1" class="B"/><circle cx="570.6" cy="1351.4" r="4.4" class="O"/><circle cx="859.0" cy="1187.5" r="4.7" class="G"/><circle cx="588.3" cy="1308.2" r="4.4" class="B"/><circle cx="822.5" cy="1324.0" r="5.2" class="G"/><circle cx="563.2" cy="1227.6" r="4.2" class="O"/><circle cx="619.5" cy="1085.0" r="4.7" class="B"/><circle cx="723.1" cy="1207.4" r="4.3" class="B"/><circle cx="449.5" cy="1269.2" r="4.7" class="R"/><circle cx="366.7" cy="1288.6" r="4.3" class="R"/><circle cx="560.9" cy="1270.9" r="6.0" class="O"/><circle cx="639.1" cy="1041.5" r="4.2" class="B"/><circle cx="840.0" cy="1324.0" r="4.7" class="G"/><circle cx="579.8" cy="1269.3" r="4.4" class="B"/><circle cx="767.4" cy="1242.9" r="4.2" class="G"/><circle cx="796.6" cy="1154.8" r="4.3" class="G"/><circle cx="612.0" cy="1375.1" r="4.1" class="B"/><circle cx="655.3" cy="1058.0" r="4.1" class="B"/><circle cx="808.6" cy="1073.8" r="4.3" class="G"/><circle cx="356.6" cy="1279.9" r="4.4" class="R"/><circle cx="628.4" cy="1223.2" r="4.2" class="B"/><circle cx="628.9" cy="1258.6" r="4.4" class="B"/><circle cx="690.0" cy="980.0" r="4.7" class="B"/><circle cx="603.4" cy="1307.6" r="4.5" class="B"/><circle cx="794.0" cy="895.0" r="4.7" class="G"/><circle cx="757.6" cy="1046.2" r="4.3" class="G"/><circle cx="807.8" cy="1091.4" r="4.3" class="G"/><circle cx="611.8" cy="1158.9" r="4.3" class="B"/><circle cx="784.8" cy="1234.9" r="4.4" class="G"/><circle cx="646.8" cy="1229.4" r="4.8" class="B"/><circle cx="374.8" cy="1278.2" r="4.3" class="R"/><circle cx="555.1" cy="1316.8" r="4.0" class="O"/><circle cx="494.3" cy="1329.6" r="4.1" class="O"/><circle cx="694.0" cy="543.0" r="5.2" class="B"/><circle cx="584.5" cy="1121.0" r="5.4" class="B"/><circle cx="413.5" cy="1273.4" r="4.1" class="R"/><circle cx="650.5" cy="1138.5" r="4.1" class="B"/><circle cx="691.1" cy="1283.7" r="4.4" class="B"/><circle cx="826.3" cy="1299.2" r="4.1" class="G"/><circle cx="570.3" cy="1244.7" r="5.1" class="O"/><circle cx="582.7" cy="1245.9" r="4.3" class="B"/><circle cx="491.3" cy="1352.3" r="4.3" class="O"/><circle cx="533.3" cy="1246.7" r="4.4" class="O"/><circle cx="1107.5" cy="902.5" r="5.0" class="G"/><circle cx="663.2" cy="1290.2" r="4.3" class="B"/><circle cx="435.4" cy="1231.7" r="6.2" class="R"/><circle cx="320.0" cy="1232.0" r="4.7" class="R"/><circle cx="423.6" cy="1289.4" r="4.1" class="R"/><circle cx="365.5" cy="1261.5" r="4.1" class="R"/><circle cx="626.0" cy="946.0" r="4.7" class="B"/><circle cx="685.2" cy="1228.1" r="4.4" class="B"/><circle cx="657.0" cy="989.0" r="4.7" class="B"/><circle cx="646.0" cy="1177.7" r="4.2" class="B"/><circle cx="678.0" cy="1162.6" r="4.3" class="B"/><circle cx="296.0" cy="1232.0" r="4.7" class="R"/><circle cx="639.8" cy="1221.1" r="5.0" class="B"/><circle cx="678.3" cy="1182.2" r="4.3" class="B"/><circle cx="499.9" cy="1339.5" r="4.0" class="O"/><circle cx="634.4" cy="1138.7" r="4.3" class="B"/><circle cx="557.9" cy="1269.2" r="4.8" class="O"/><circle cx="542.5" cy="754.5" r="5.8" class="O"/><circle cx="511.4" cy="1218.2" r="4.4" class="O"/><circle cx="667.4" cy="1214.8" r="4.2" class="B"/><circle cx="701.4" cy="1082.4" r="4.4" class="B"/><circle cx="501.2" cy="1288.0" r="4.2" class="O"/><circle cx="560.8" cy="1258.7" r="4.6" class="O"/><circle cx="488.7" cy="1240.0" r="4.4" class="O"/><circle cx="569.0" cy="1158.7" r="4.7" class="O"/><circle cx="536.8" cy="1270.5" r="4.3" class="O"/><circle cx="1013.0" cy="809.0" r="4.5" class="G"/><circle cx="501.6" cy="1282.8" r="5.0" class="O"/><circle cx="607.4" cy="1176.9" r="4.4" class="B"/><circle cx="575.0" cy="1231.8" r="4.8" class="O"/><circle cx="461.0" cy="1078.5" r="4.7" class="R"/><circle cx="891.0" cy="1323.7" r="4.7" class="G"/><circle cx="375.2" cy="1306.5" r="4.1" class="R"/><circle cx="487.5" cy="1091.5" r="4.7" class="O"/><circle cx="341.0" cy="1295.0" r="4.7" class="R"/><circle cx="952.5" cy="1072.5" r="4.7" class="G"/><circle cx="512.5" cy="1058.5" r="4.7" class="O"/><circle cx="552.0" cy="1320.6" r="4.7" class="O"/><circle cx="603.1" cy="1179.1" r="4.2" class="B"/><circle cx="527.8" cy="1305.8" r="4.4" class="O"/><circle cx="588.8" cy="1154.0" r="5.1" class="B"/><circle cx="1075.3" cy="1185.3" r="4.7" class="G"/><circle cx="464.7" cy="1288.4" r="4.0" class="R"/><circle cx="619.0" cy="1161.7" r="5.2" class="B"/><circle cx="513.8" cy="1287.5" r="4.2" class="O"/><circle cx="362.5" cy="1190.0" r="4.7" class="R"/><circle cx="696.0" cy="662.5" r="4.2" class="B"/><circle cx="1039.0" cy="1002.0" r="4.2" class="G"/><circle cx="776.4" cy="1336.3" r="4.9" class="G"/><circle cx="277.5" cy="1286.0" r="4.7" class="R"/><circle cx="416.0" cy="991.0" r="5.7" class="R"/><circle cx="382.2" cy="1262.4" r="4.3" class="R"/><circle cx="654.7" cy="1235.7" r="4.5" class="B"/><circle cx="438.0" cy="1261.3" r="5.0" class="R"/><circle cx="439.7" cy="1288.0" r="4.4" class="R"/><circle cx="786.0" cy="1239.4" r="5.8" class="G"/><circle cx="419.9" cy="1228.2" r="4.7" class="R"/><circle cx="510.0" cy="1210.7" r="4.2" class="O"/><circle cx="584.9" cy="1182.5" r="4.2" class="B"/><circle cx="805.5" cy="1220.8" r="6.4" class="G"/><circle cx="784.0" cy="886.0" r="5.5" class="G"/><circle cx="475.7" cy="1262.1" r="5.0" class="R"/><circle cx="573.5" cy="1115.0" r="4.7" class="O"/><circle cx="781.9" cy="1029.4" r="4.2" class="G"/><circle cx="646.4" cy="1127.2" r="4.3" class="B"/><circle cx="734.8" cy="1224.5" r="5.0" class="G"/><circle cx="647.1" cy="1213.6" r="4.0" class="B"/><circle cx="476.8" cy="1267.1" r="6.2" class="R"/><circle cx="622.6" cy="1280.4" r="4.6" class="B"/><circle cx="687.5" cy="647.0" r="5.2" class="B"/><circle cx="505.2" cy="1265.5" r="5.8" class="O"/><circle cx="441.5" cy="1150.0" r="4.7" class="R"/><circle cx="595.2" cy="1238.3" r="4.1" class="B"/><circle cx="797.5" cy="1184.8" r="4.1" class="G"/><circle cx="320.0" cy="1279.0" r="5.2" class="R"/><circle cx="718.5" cy="1326.4" r="4.2" class="B"/><circle cx="464.1" cy="1315.2" r="4.3" class="R"/><circle cx="596.6" cy="1106.4" r="4.4" class="B"/><circle cx="745.0" cy="885.0" r="4.7" class="G"/><circle cx="375.1" cy="1260.9" r="4.0" class="R"/><circle cx="647.7" cy="1168.3" r="4.3" class="B"/><circle cx="819.7" cy="1050.6" r="4.2" class="G"/><circle cx="656.2" cy="1175.5" r="4.2" class="B"/><circle cx="589.5" cy="1187.3" r="4.4" class="B"/><circle cx="514.5" cy="1225.5" r="4.1" class="O"/><circle cx="686.8" cy="1175.8" r="4.0" class="B"/><circle cx="523.2" cy="1224.2" r="4.2" class="O"/><circle cx="644.4" cy="1187.2" r="4.2" class="B"/><circle cx="683.4" cy="1237.0" r="5.0" class="B"/><circle cx="675.4" cy="1241.3" r="4.4" class="B"/><circle cx="460.2" cy="1290.3" r="6.1" class="R"/><circle cx="554.7" cy="1181.4" r="4.0" class="O"/><circle cx="488.4" cy="1272.8" r="4.4" class="O"/><circle cx="595.8" cy="1328.9" r="4.4" class="B"/><circle cx="863.0" cy="1320.0" r="4.7" class="G"/><circle cx="540.2" cy="1365.9" r="4.4" class="O"/><circle cx="697.4" cy="1227.2" r="4.1" class="B"/><circle cx="824.2" cy="1086.7" r="5.0" class="G"/><circle cx="554.4" cy="1344.2" r="4.3" class="O"/><circle cx="456.2" cy="1286.4" r="4.4" class="R"/><circle cx="836.0" cy="1004.0" r="4.7" class="G"/><circle cx="771.1" cy="1151.8" r="4.4" class="G"/><circle cx="704.2" cy="1363.5" r="4.3" class="B"/><circle cx="568.7" cy="1224.8" r="4.4" class="O"/><circle cx="940.0" cy="1004.0" r="4.7" class="G"/><circle cx="560.3" cy="1292.1" r="4.1" class="O"/><circle cx="646.6" cy="1213.0" r="5.6" class="B"/><circle cx="566.5" cy="1206.4" r="4.8" class="O"/><circle cx="615.0" cy="1057.6" r="4.3" class="B"/><circle cx="603.0" cy="1205.5" r="4.4" class="B"/><circle cx="349.8" cy="1277.5" r="4.2" class="R"/><circle cx="723.7" cy="1083.3" r="6.2" class="B"/><circle cx="648.2" cy="1334.4" r="4.2" class="B"/><circle cx="585.6" cy="1215.8" r="4.3" class="B"/><circle cx="453.2" cy="1287.7" r="5.6" class="R"/><circle cx="610.5" cy="1310.0" r="4.4" class="B"/><circle cx="1034.0" cy="1019.0" r="6.2" class="G"/><circle cx="772.9" cy="1206.5" r="4.4" class="G"/><circle cx="480.3" cy="1305.8" r="4.2" class="R"/><circle cx="798.5" cy="1052.0" r="4.1" class="G"/><circle cx="768.4" cy="1257.0" r="6.5" class="G"/><circle cx="1028.3" cy="1132.5" r="4.7" class="G"/><circle cx="707.0" cy="1086.4" r="5.2" class="B"/><circle cx="584.6" cy="1214.8" r="4.7" class="B"/><circle cx="721.2" cy="1130.4" r="4.1" class="B"/><circle cx="489.5" cy="1305.6" r="5.1" class="O"/><circle cx="762.4" cy="1183.1" r="4.2" class="G"/><circle cx="504.4" cy="1168.4" r="5.4" class="O"/><circle cx="643.5" cy="1248.8" r="4.1" class="B"/><circle cx="372.7" cy="1261.1" r="4.4" class="R"/><circle cx="462.2" cy="1364.2" r="4.8" class="R"/><circle cx="471.3" cy="1261.4" r="4.1" class="R"/><circle cx="816.9" cy="1207.1" r="4.2" class="G"/><circle cx="648.1" cy="1202.5" r="4.4" class="B"/><circle cx="368.6" cy="1293.9" r="4.0" class="R"/><circle cx="687.6" cy="1225.3" r="4.1" class="B"/><circle cx="634.3" cy="1270.6" r="4.3" class="B"/><circle cx="447.7" cy="1315.5" r="4.2" class="R"/><circle cx="723.5" cy="1201.5" r="5.2" class="B"/><circle cx="622.8" cy="1287.5" r="5.6" class="B"/><circle cx="560.5" cy="799.0" r="4.5" class="O"/><circle cx="543.1" cy="1201.6" r="4.8" class="O"/><circle cx="605.4" cy="1290.0" r="5.4" class="B"/><circle cx="668.7" cy="1198.9" r="4.4" class="B"/><circle cx="493.0" cy="840.0" r="4.8" class="O"/><circle cx="699.6" cy="1109.4" r="4.8" class="B"/><circle cx="387.4" cy="1290.0" r="4.1" class="R"/><circle cx="741.9" cy="1264.0" r="4.9" class="G"/><circle cx="840.0" cy="1196.0" r="4.7" class="G"/><circle cx="369.3" cy="1281.6" r="4.4" class="R"/><circle cx="937.5" cy="985.0" r="4.7" class="G"/><circle cx="306.0" cy="1272.5" r="5.2" class="R"/><circle cx="1401.0" cy="1207.0" r="4.5" class="G"/><circle cx="762.8" cy="1246.3" r="4.4" class="G"/><circle cx="736.9" cy="1149.7" r="4.4" class="G"/><circle cx="261.0" cy="1232.0" r="4.7" class="R"/><circle cx="689.0" cy="796.0" r="5.0" class="B"/><circle cx="514.1" cy="1161.8" r="4.3" class="O"/><circle cx="761.9" cy="1150.0" r="4.3" class="G"/><circle cx="766.0" cy="514.5" r="4.5" class="G"/><circle cx="571.8" cy="1279.6" r="4.2" class="O"/><circle cx="841.4" cy="1145.6" r="4.1" class="G"/><circle cx="446.8" cy="1322.5" r="4.4" class="R"/><circle cx="693.9" cy="1268.3" r="4.2" class="B"/><circle cx="791.0" cy="1177.1" r="4.4" class="G"/><circle cx="350.6" cy="1261.2" r="4.2" class="R"/><circle cx="435.1" cy="1303.8" r="5.3" class="R"/><circle cx="685.8" cy="1212.9" r="4.3" class="B"/><circle cx="609.3" cy="1179.9" r="4.1" class="B"/><circle cx="625.7" cy="1237.9" r="4.3" class="B"/><circle cx="410.2" cy="1277.0" r="4.9" class="R"/><circle cx="615.6" cy="1227.1" r="4.3" class="B"/><circle cx="751.2" cy="1241.5" r="4.4" class="G"/><circle cx="580.8" cy="1238.0" r="4.1" class="B"/><circle cx="437.0" cy="1208.3" r="4.5" class="R"/><circle cx="627.1" cy="1335.3" r="4.2" class="B"/><circle cx="626.3" cy="1177.9" r="4.2" class="B"/><circle cx="539.0" cy="1335.1" r="4.1" class="O"/><circle cx="496.0" cy="725.0" r="5.5" class="O"/><circle cx="491.9" cy="1321.9" r="4.1" class="O"/><circle cx="445.6" cy="1243.4" r="4.1" class="R"/><circle cx="554.7" cy="1220.2" r="4.9" class="O"/><circle cx="787.4" cy="1280.9" r="5.3" class="G"/><circle cx="372.4" cy="1291.1" r="4.4" class="R"/><circle cx="518.9" cy="1259.2" r="4.3" class="O"/><circle cx="568.2" cy="1260.0" r="4.1" class="O"/><circle cx="902.5" cy="976.0" r="4.7" class="G"/><circle cx="736.0" cy="884.0" r="5.8" class="G"/><circle cx="464.8" cy="1282.7" r="5.0" class="R"/><circle cx="712.8" cy="1204.0" r="4.6" class="B"/><circle cx="376.4" cy="1284.8" r="4.4" class="R"/><circle cx="617.5" cy="1217.9" r="4.9" class="B"/><circle cx="461.6" cy="1262.2" r="4.2" class="R"/><circle cx="741.0" cy="1208.5" r="4.1" class="G"/><circle cx="614.6" cy="1096.8" r="4.6" class="B"/><circle cx="608.2" cy="1272.7" r="4.4" class="B"/><circle cx="610.7" cy="1289.1" r="4.2" class="B"/><circle cx="921.0" cy="1010.0" r="4.7" class="G"/><circle cx="426.7" cy="1260.0" r="4.4" class="R"/><circle cx="743.7" cy="1185.6" r="4.2" class="G"/><circle cx="1157.0" cy="1049.0" r="4.8" class="G"/><circle cx="627.8" cy="1293.4" r="4.7" class="B"/><circle cx="447.0" cy="1260.6" r="6.2" class="R"/><circle cx="580.0" cy="1204.1" r="4.3" class="B"/><circle cx="753.9" cy="1152.5" r="4.7" class="G"/><circle cx="632.7" cy="1177.9" r="6.6" class="B"/><circle cx="1046.0" cy="1023.0" r="5.5" class="G"/><circle cx="376.3" cy="1375.0" r="4.1" class="R"/><circle cx="512.5" cy="1104.0" r="4.7" class="O"/><circle cx="785.7" cy="1166.5" r="4.1" class="G"/><circle cx="515.7" cy="1275.1" r="4.4" class="O"/><circle cx="729.5" cy="1339.0" r="4.1" class="B"/><circle cx="405.9" cy="1308.6" r="5.2" class="R"/><circle cx="586.0" cy="806.0" r="4.5" class="B"/><circle cx="1014.5" cy="970.0" r="4.7" class="G"/><circle cx="671.2" cy="1282.7" r="4.1" class="B"/><circle cx="753.7" cy="1254.0" r="6.0" class="G"/><circle cx="762.9" cy="1185.3" r="4.9" class="G"/><circle cx="715.8" cy="1207.1" r="6.6" class="B"/><circle cx="774.5" cy="1285.2" r="4.1" class="G"/><circle cx="525.1" cy="1370.6" r="4.4" class="O"/><circle cx="626.0" cy="997.5" r="4.7" class="B"/><circle cx="757.5" cy="999.0" r="6.2" class="G"/><circle cx="763.3" cy="1288.1" r="4.0" class="G"/><circle cx="516.7" cy="1348.6" r="4.1" class="O"/><circle cx="650.9" cy="1318.7" r="4.4" class="B"/><circle cx="626.2" cy="1290.3" r="4.0" class="B"/><circle cx="701.0" cy="1300.3" r="4.2" class="B"/><circle cx="459.7" cy="1291.8" r="4.7" class="R"/><circle cx="525.3" cy="1335.0" r="4.3" class="O"/><circle cx="591.0" cy="1256.4" r="4.6" class="B"/><circle cx="692.5" cy="1332.8" r="4.0" class="B"/><circle cx="783.7" cy="1148.5" r="5.2" class="G"/><circle cx="413.5" cy="1289.8" r="4.2" class="R"/><circle cx="362.1" cy="1369.5" r="4.4" class="R"/><circle cx="689.3" cy="1113.6" r="4.4" class="B"/><circle cx="688.0" cy="1227.1" r="4.3" class="B"/><circle cx="697.1" cy="1171.8" r="4.4" class="B"/><circle cx="801.3" cy="1151.0" r="6.2" class="G"/><circle cx="584.4" cy="1275.0" r="4.6" class="B"/><circle cx="536.9" cy="1210.2" r="5.3" class="O"/><circle cx="1410.0" cy="1149.0" r="4.2" class="G"/><circle cx="264.0" cy="1343.0" r="5.2" class="R"/><circle cx="681.0" cy="1322.8" r="5.0" class="B"/><circle cx="784.5" cy="1074.8" r="4.3" class="G"/><circle cx="835.0" cy="1290.0" r="4.7" class="G"/><circle cx="699.5" cy="929.0" r="4.7" class="B"/><circle cx="548.5" cy="1267.5" r="5.1" class="O"/><circle cx="779.0" cy="984.0" r="4.7" class="G"/><circle cx="694.9" cy="1152.0" r="4.1" class="B"/><circle cx="581.9" cy="1133.9" r="4.4" class="B"/><circle cx="374.0" cy="1221.0" r="5.2" class="R"/><circle cx="368.8" cy="1286.9" r="4.5" class="R"/><circle cx="710.3" cy="1088.5" r="4.0" class="B"/><circle cx="432.7" cy="1260.6" r="4.3" class="R"/><circle cx="572.8" cy="1281.4" r="4.1" class="O"/><circle cx="793.2" cy="1155.5" r="4.1" class="G"/><circle cx="788.8" cy="1265.8" r="4.3" class="G"/><circle cx="536.3" cy="1316.5" r="4.5" class="O"/><circle cx="905.0" cy="1019.0" r="4.7" class="G"/><circle cx="542.2" cy="1255.6" r="4.2" class="O"/><circle cx="552.6" cy="1320.6" r="4.3" class="O"/><circle cx="712.5" cy="954.0" r="6.5" class="B"/><circle cx="568.2" cy="1154.3" r="4.0" class="O"/><circle cx="830.8" cy="1243.6" r="4.1" class="G"/><circle cx="723.4" cy="1215.7" r="4.4" class="B"/><circle cx="676.6" cy="1133.1" r="4.1" class="B"/><circle cx="458.8" cy="1155.3" r="4.4" class="R"/><circle cx="694.8" cy="1071.8" r="4.6" class="B"/><circle cx="579.9" cy="1208.2" r="5.2" class="B"/><circle cx="622.9" cy="1230.2" r="4.8" class="B"/><circle cx="562.5" cy="1210.3" r="4.1" class="O"/><circle cx="596.0" cy="1319.9" r="4.4" class="B"/><circle cx="657.0" cy="1193.4" r="4.3" class="B"/><circle cx="896.0" cy="1207.5" r="4.7" class="G"/><circle cx="593.2" cy="1208.3" r="4.8" class="B"/><circle cx="800.9" cy="1253.6" r="4.0" class="G"/><circle cx="673.2" cy="1210.3" r="6.1" class="B"/><circle cx="535.5" cy="1294.0" r="4.1" class="O"/><circle cx="628.3" cy="1280.1" r="4.4" class="B"/><circle cx="390.3" cy="1353.5" r="4.2" class="R"/><circle cx="1097.8" cy="1170.5" r="5.8" class="G"/><circle cx="652.9" cy="1135.8" r="4.4" class="B"/><circle cx="570.0" cy="1015.0" r="4.7" class="O"/><circle cx="807.8" cy="1302.8" r="4.0" class="G"/><circle cx="788.0" cy="1236.8" r="4.2" class="G"/><circle cx="563.9" cy="1185.2" r="4.9" class="O"/><circle cx="758.3" cy="1182.6" r="4.8" class="G"/><circle cx="455.5" cy="1292.8" r="4.4" class="R"/><circle cx="737.5" cy="1207.4" r="4.0" class="G"/><circle cx="590.2" cy="1249.0" r="4.3" class="B"/><circle cx="1064.2" cy="1161.7" r="4.7" class="G"/><circle cx="653.0" cy="1312.0" r="4.6" class="B"/><circle cx="852.5" cy="1170.0" r="4.7" class="G"/><circle cx="517.8" cy="1282.3" r="4.6" class="O"/><circle cx="717.2" cy="1356.7" r="4.3" class="B"/><circle cx="763.9" cy="1207.6" r="4.1" class="G"/><circle cx="672.0" cy="907.5" r="4.7" class="B"/><circle cx="638.6" cy="1333.5" r="6.4" class="B"/><circle cx="592.6" cy="1236.9" r="4.2" class="B"/><circle cx="504.1" cy="1282.1" r="6.0" class="O"/><circle cx="515.3" cy="1152.8" r="4.1" class="O"/><circle cx="687.5" cy="919.0" r="6.2" class="B"/><circle cx="522.1" cy="1217.3" r="4.7" class="O"/><circle cx="802.5" cy="1002.5" r="5.5" class="G"/><circle cx="729.4" cy="1215.0" r="5.8" class="B"/><circle cx="712.5" cy="991.0" r="6.2" class="B"/><circle cx="640.2" cy="1332.8" r="4.3" class="B"/><circle cx="912.5" cy="1082.5" r="4.7" class="G"/><circle cx="651.4" cy="1206.3" r="4.4" class="B"/><circle cx="592.7" cy="1153.2" r="4.7" class="B"/><circle cx="518.3" cy="1258.0" r="4.3" class="O"/><circle cx="735.8" cy="1210.7" r="4.1" class="G"/><circle cx="569.2" cy="1183.1" r="4.1" class="O"/><circle cx="566.0" cy="1295.7" r="5.0" class="O"/><circle cx="779.3" cy="1162.1" r="4.1" class="G"/><circle cx="531.6" cy="1377.4" r="4.2" class="O"/><circle cx="551.2" cy="1200.2" r="4.1" class="O"/><circle cx="866.0" cy="1204.5" r="4.7" class="G"/><circle cx="775.0" cy="1005.0" r="4.7" class="G"/><circle cx="529.1" cy="1283.4" r="5.1" class="O"/><circle cx="569.5" cy="1178.2" r="4.4" class="O"/><circle cx="509.7" cy="1318.6" r="4.1" class="O"/><circle cx="564.2" cy="1239.1" r="4.4" class="O"/><circle cx="416.1" cy="1261.3" r="4.9" class="R"/><circle cx="579.9" cy="1273.1" r="5.1" class="B"/><circle cx="1027.5" cy="1200.8" r="4.7" class="G"/><circle cx="520.5" cy="1340.6" r="5.1" class="O"/><circle cx="800.4" cy="1148.0" r="4.4" class="G"/><circle cx="669.0" cy="995.0" r="4.7" class="B"/><circle cx="642.4" cy="1222.7" r="6.0" class="B"/><circle cx="585.1" cy="1112.5" r="4.1" class="B"/><circle cx="574.1" cy="1378.9" r="4.1" class="O"/><circle cx="647.6" cy="1189.7" r="4.2" class="B"/><circle cx="734.4" cy="1050.1" r="4.5" class="G"/><circle cx="789.7" cy="1060.7" r="5.3" class="G"/><circle cx="483.0" cy="897.0" r="4.2" class="R"/><circle cx="518.0" cy="991.0" r="6.7" class="O"/><circle cx="613.8" cy="1276.1" r="4.2" class="B"/><circle cx="757.6" cy="1027.9" r="5.0" class="G"/><circle cx="419.2" cy="1341.2" r="4.9" class="R"/><circle cx="545.6" cy="1292.7" r="5.2" class="O"/><circle cx="613.8" cy="1129.6" r="4.3" class="B"/><circle cx="1781.0" cy="1130.5" r="5.7" class="G"/><circle cx="816.2" cy="1206.2" r="4.3" class="G"/><circle cx="817.7" cy="1243.9" r="4.4" class="G"/><circle cx="373.7" cy="1256.3" r="4.1" class="R"/><circle cx="455.4" cy="1260.5" r="4.7" class="R"/><circle cx="750.1" cy="1150.6" r="5.1" class="G"/><circle cx="745.4" cy="1263.3" r="4.4" class="G"/><circle cx="838.9" cy="1182.9" r="4.3" class="G"/><circle cx="612.3" cy="1222.6" r="4.3" class="B"/><circle cx="713.8" cy="1385.3" r="4.2" class="B"/><circle cx="528.0" cy="1212.1" r="6.0" class="O"/><circle cx="649.4" cy="1254.5" r="4.4" class="B"/><circle cx="429.4" cy="1185.6" r="4.7" class="R"/><circle cx="479.4" cy="1264.0" r="4.3" class="R"/><circle cx="869.0" cy="945.0" r="4.7" class="G"/><circle cx="515.4" cy="1328.7" r="5.7" class="O"/><circle cx="579.7" cy="1332.5" r="4.4" class="B"/><circle cx="470.0" cy="1358.9" r="4.4" class="R"/><circle cx="569.4" cy="1230.5" r="4.3" class="O"/><circle cx="446.4" cy="1292.5" r="4.1" class="R"/><circle cx="784.6" cy="1040.8" r="4.3" class="G"/><circle cx="595.2" cy="1330.8" r="4.3" class="B"/><circle cx="537.5" cy="1214.0" r="4.5" class="O"/><circle cx="580.8" cy="1242.9" r="4.3" class="B"/><circle cx="643.6" cy="1211.6" r="5.0" class="B"/><circle cx="864.0" cy="668.0" r="5.0" class="G"/><circle cx="733.9" cy="1084.6" r="4.1" class="G"/><circle cx="725.7" cy="1138.6" r="4.2" class="B"/><circle cx="589.0" cy="946.0" r="4.7" class="B"/><circle cx="810.3" cy="1148.6" r="4.4" class="G"/><circle cx="498.9" cy="1272.5" r="5.0" class="O"/><circle cx="595.3" cy="1315.0" r="5.1" class="B"/><circle cx="623.8" cy="1099.6" r="4.3" class="B"/><circle cx="862.5" cy="954.0" r="5.5" class="G"/><circle cx="539.1" cy="1278.5" r="4.2" class="O"/><circle cx="522.5" cy="1207.7" r="4.1" class="O"/><circle cx="639.9" cy="1270.3" r="4.3" class="B"/><circle cx="806.9" cy="1055.9" r="4.6" class="G"/><circle cx="965.0" cy="987.5" r="5.5" class="G"/><circle cx="528.0" cy="1383.3" r="6.1" class="O"/><circle cx="503.1" cy="1240.1" r="4.4" class="O"/><circle cx="394.3" cy="1353.9" r="4.3" class="R"/><circle cx="713.0" cy="1214.6" r="4.1" class="B"/><circle cx="473.7" cy="1241.7" r="4.9" class="R"/><circle cx="603.6" cy="1232.1" r="4.6" class="B"/><circle cx="779.5" cy="1075.6" r="5.0" class="G"/><circle cx="366.2" cy="1287.3" r="5.0" class="R"/><circle cx="540.5" cy="1217.4" r="4.0" class="O"/><circle cx="803.4" cy="1207.8" r="4.5" class="G"/><circle cx="765.4" cy="1267.7" r="4.4" class="G"/><circle cx="562.7" cy="1278.0" r="4.2" class="O"/><circle cx="680.5" cy="1304.8" r="4.3" class="B"/><circle cx="517.9" cy="1381.7" r="4.6" class="O"/><circle cx="387.7" cy="1291.9" r="4.4" class="R"/><circle cx="544.0" cy="1241.7" r="4.2" class="O"/><circle cx="420.1" cy="1272.3" r="5.1" class="R"/><circle cx="644.6" cy="1173.7" r="4.4" class="B"/><circle cx="637.7" cy="1291.6" r="5.1" class="B"/><circle cx="670.9" cy="1313.6" r="4.2" class="B"/><circle cx="423.7" cy="1289.1" r="4.8" class="R"/><circle cx="684.6" cy="1218.3" r="4.3" class="B"/><circle cx="623.0" cy="1040.7" r="4.7" class="B"/><circle cx="770.6" cy="1132.9" r="4.9" class="G"/><circle cx="713.6" cy="1188.3" r="4.4" class="B"/><circle cx="762.9" cy="1195.9" r="4.3" class="G"/><circle cx="803.7" cy="1068.4" r="5.0" class="G"/><circle cx="491.1" cy="1221.7" r="4.6" class="O"/><circle cx="684.9" cy="1281.9" r="4.6" class="B"/><circle cx="1134.0" cy="992.0" r="5.0" class="G"/><circle cx="521.8" cy="1282.6" r="4.8" class="O"/><circle cx="829.0" cy="772.0" r="4.7" class="G"/><circle cx="590.4" cy="1182.1" r="6.2" class="B"/><circle cx="902.5" cy="1241.7" r="4.7" class="G"/><circle cx="375.7" cy="1233.5" r="4.2" class="R"/><circle cx="556.0" cy="564.0" r="4.5" class="O"/><circle cx="465.8" cy="1288.4" r="5.0" class="R"/><circle cx="761.6" cy="1275.1" r="4.4" class="G"/><circle cx="964.0" cy="1009.0" r="6.2" class="G"/><circle cx="301.0" cy="1220.5" r="4.7" class="R"/><circle cx="617.9" cy="1288.1" r="4.1" class="B"/><circle cx="615.2" cy="1378.9" r="4.2" class="B"/><circle cx="693.2" cy="1234.9" r="4.0" class="B"/><circle cx="425.8" cy="1278.1" r="4.4" class="R"/><circle cx="511.2" cy="1338.9" r="4.1" class="O"/><circle cx="437.4" cy="1369.0" r="4.0" class="R"/><circle cx="781.1" cy="1036.2" r="4.8" class="G"/><circle cx="623.0" cy="1230.1" r="4.0" class="B"/><circle cx="571.1" cy="1266.9" r="4.2" class="O"/><circle cx="546.1" cy="1205.5" r="4.1" class="O"/><circle cx="464.5" cy="1329.8" r="4.2" class="R"/><circle cx="1462.0" cy="1150.0" r="4.7" class="G"/><circle cx="406.2" cy="1261.1" r="4.5" class="R"/><circle cx="524.6" cy="1308.4" r="4.0" class="O"/><circle cx="688.0" cy="1245.5" r="4.3" class="B"/><circle cx="751.5" cy="1119.8" r="4.2" class="G"/><circle cx="360.7" cy="1279.3" r="4.0" class="R"/><circle cx="362.0" cy="1285.2" r="6.2" class="R"/><circle cx="460.4" cy="1281.0" r="4.3" class="R"/><circle cx="473.5" cy="1102.5" r="4.7" class="R"/><circle cx="728.7" cy="1301.9" r="4.5" class="B"/><circle cx="602.5" cy="1107.8" r="4.2" class="B"/><circle cx="388.7" cy="1352.8" r="4.3" class="R"/><circle cx="694.5" cy="1291.3" r="4.1" class="B"/><circle cx="754.8" cy="1211.7" r="4.6" class="G"/><circle cx="677.2" cy="1334.4" r="4.5" class="B"/><circle cx="454.0" cy="962.5" r="4.5" class="R"/><circle cx="925.0" cy="954.0" r="4.7" class="G"/><circle cx="693.1" cy="1134.1" r="5.2" class="B"/><circle cx="565.2" cy="1299.4" r="5.3" class="O"/><circle cx="735.7" cy="1258.8" r="4.3" class="G"/><circle cx="736.6" cy="1204.9" r="5.2" class="G"/><circle cx="445.0" cy="1037.5" r="4.7" class="R"/><circle cx="494.4" cy="1196.1" r="4.4" class="O"/><circle cx="377.8" cy="1287.5" r="4.4" class="R"/><circle cx="785.0" cy="1216.8" r="4.1" class="G"/><circle cx="500.5" cy="1237.6" r="5.1" class="O"/><circle cx="540.3" cy="1350.7" r="4.6" class="O"/><circle cx="446.0" cy="1268.2" r="4.2" class="R"/><circle cx="540.4" cy="1281.9" r="4.4" class="O"/><circle cx="178.0" cy="1204.0" r="4.2" class="R"/><circle cx="622.5" cy="762.0" r="4.5" class="B"/><circle cx="404.3" cy="1236.5" r="4.1" class="R"/><circle cx="686.3" cy="1137.9" r="5.0" class="B"/><circle cx="636.9" cy="1185.1" r="4.3" class="B"/><circle cx="342.5" cy="1323.0" r="4.7" class="R"/><circle cx="720.1" cy="1263.5" r="4.0" class="B"/><circle cx="806.6" cy="1310.4" r="4.8" class="G"/><circle cx="1073.8" cy="1165.5" r="4.7" class="G"/><circle cx="399.6" cy="1324.1" r="4.4" class="R"/><circle cx="525.1" cy="1306.5" r="4.1" class="O"/><circle cx="515.5" cy="1329.4" r="4.3" class="O"/><circle cx="877.5" cy="1246.0" r="4.7" class="G"/><circle cx="844.3" cy="1207.8" r="4.3" class="G"/><circle cx="1348.0" cy="1062.0" r="4.2" class="G"/><circle cx="728.4" cy="1252.1" r="4.1" class="B"/><circle cx="376.1" cy="1287.5" r="4.9" class="R"/><circle cx="827.5" cy="1312.5" r="4.7" class="G"/><circle cx="1097.8" cy="1186.2" r="4.7" class="G"/><circle cx="646.8" cy="1129.3" r="4.1" class="B"/><circle cx="686.2" cy="1116.3" r="4.3" class="B"/><circle cx="704.8" cy="1254.0" r="4.8" class="B"/><circle cx="566.0" cy="1272.0" r="4.1" class="O"/><circle cx="571.9" cy="1187.6" r="4.4" class="O"/><circle cx="720.0" cy="884.0" r="4.7" class="B"/><circle cx="988.3" cy="1241.7" r="4.7" class="G"/><circle cx="602.2" cy="1222.5" r="4.3" class="B"/><circle cx="484.5" cy="1289.3" r="4.1" class="R"/><circle cx="659.0" cy="1002.0" r="4.7" class="B"/><circle cx="352.2" cy="1286.5" r="5.2" class="R"/><circle cx="518.2" cy="1329.8" r="4.4" class="O"/><circle cx="1077.0" cy="1152.0" r="4.2" class="G"/><circle cx="470.2" cy="1350.1" r="4.1" class="R"/><circle cx="515.9" cy="1286.3" r="4.1" class="O"/><circle cx="480.6" cy="1259.5" r="4.0" class="R"/><circle cx="709.7" cy="1059.7" r="4.4" class="B"/><circle cx="621.1" cy="1144.8" r="5.0" class="B"/><circle cx="596.7" cy="1157.2" r="4.0" class="B"/><circle cx="576.0" cy="1275.8" r="4.4" class="O"/><circle cx="656.2" cy="1321.2" r="6.0" class="B"/><circle cx="505.1" cy="1266.6" r="4.3" class="O"/><circle cx="452.0" cy="1262.8" r="4.4" class="R"/><circle cx="770.6" cy="1259.7" r="4.8" class="G"/><circle cx="790.9" cy="1274.1" r="4.0" class="G"/><circle cx="535.5" cy="1271.9" r="4.4" class="O"/><circle cx="459.9" cy="1181.3" r="5.1" class="R"/><circle cx="392.0" cy="1190.0" r="4.7" class="R"/><circle cx="603.7" cy="1300.6" r="4.5" class="B"/><circle cx="755.0" cy="1224.9" r="5.1" class="G"/><circle cx="612.0" cy="1313.3" r="4.4" class="B"/><circle cx="1324.0" cy="1149.0" r="4.8" class="G"/><circle cx="590.9" cy="1154.4" r="4.5" class="B"/><circle cx="365.4" cy="1261.4" r="5.2" class="R"/><circle cx="964.0" cy="1309.0" r="4.7" class="G"/><circle cx="581.9" cy="1071.9" r="4.2" class="B"/><circle cx="644.9" cy="1200.4" r="4.1" class="B"/><circle cx="812.5" cy="1147.8" r="4.7" class="G"/><circle cx="680.4" cy="1360.5" r="4.4" class="B"/><circle cx="993.7" cy="1080.0" r="5.0" class="G"/><circle cx="554.5" cy="1224.4" r="4.2" class="O"/><circle cx="500.7" cy="1300.5" r="4.1" class="O"/><circle cx="691.6" cy="1058.3" r="4.3" class="B"/><circle cx="556.9" cy="1185.1" r="5.9" class="O"/><circle cx="628.0" cy="972.0" r="4.7" class="B"/><circle cx="832.5" cy="1185.0" r="4.7" class="G"/><circle cx="532.6" cy="1386.1" r="4.4" class="O"/><circle cx="849.0" cy="1225.0" r="5.2" class="G"/><circle cx="500.9" cy="1269.6" r="4.9" class="O"/><circle cx="617.8" cy="1186.2" r="4.0" class="B"/><circle cx="829.4" cy="1058.0" r="4.2" class="G"/><circle cx="700.7" cy="1207.2" r="5.4" class="B"/><circle cx="695.0" cy="1017.5" r="4.7" class="B"/><circle cx="915.0" cy="1174.0" r="4.7" class="G"/><circle cx="528.1" cy="1270.3" r="4.2" class="O"/><circle cx="689.9" cy="1270.8" r="4.0" class="B"/><circle cx="393.8" cy="1293.4" r="4.1" class="R"/><circle cx="582.3" cy="1179.1" r="5.2" class="B"/><circle cx="826.8" cy="1149.5" r="4.2" class="G"/><circle cx="695.6" cy="1273.4" r="4.1" class="B"/><circle cx="716.1" cy="1355.4" r="4.4" class="B"/><circle cx="457.6" cy="1261.1" r="4.1" class="R"/><circle cx="352.4" cy="1283.8" r="5.1" class="R"/><circle cx="450.4" cy="1259.5" r="4.7" class="R"/><circle cx="583.7" cy="1134.6" r="4.4" class="B"/><circle cx="445.3" cy="1262.4" r="4.2" class="R"/><circle cx="503.4" cy="1272.9" r="4.4" class="O"/><circle cx="682.2" cy="1314.4" r="4.2" class="B"/><circle cx="518.3" cy="1183.5" r="4.5" class="O"/><circle cx="655.0" cy="1220.2" r="4.4" class="B"/><circle cx="616.0" cy="1311.5" r="4.1" class="B"/><circle cx="964.0" cy="1212.5" r="4.7" class="G"/><circle cx="580.7" cy="1098.9" r="4.3" class="B"/><circle cx="643.2" cy="1305.7" r="6.6" class="B"/><circle cx="416.0" cy="864.0" r="4.5" class="R"/><circle cx="803.2" cy="1310.5" r="4.4" class="G"/><circle cx="791.1" cy="1027.1" r="4.3" class="G"/><circle cx="440.0" cy="1275.9" r="4.1" class="R"/><circle cx="782.7" cy="1235.1" r="5.1" class="G"/><circle cx="598.0" cy="1238.6" r="4.2" class="B"/><circle cx="786.6" cy="1267.2" r="4.1" class="G"/><circle cx="602.5" cy="1325.4" r="4.0" class="B"/><circle cx="434.6" cy="1288.3" r="5.0" class="R"/><circle cx="684.0" cy="1179.5" r="4.1" class="B"/><circle cx="693.8" cy="1194.1" r="4.2" class="B"/><circle cx="527.6" cy="1232.4" r="4.3" class="O"/><circle cx="449.3" cy="1305.3" r="4.2" class="R"/><circle cx="960.0" cy="1152.5" r="4.7" class="G"/><circle cx="591.3" cy="1223.5" r="4.3" class="B"/><circle cx="557.5" cy="1091.5" r="4.7" class="O"/><circle cx="586.0" cy="1138.8" r="4.4" class="B"/><circle cx="520.5" cy="1342.1" r="4.6" class="O"/><circle cx="543.4" cy="1287.2" r="4.4" class="O"/><circle cx="628.6" cy="1183.5" r="4.3" class="B"/><circle cx="832.7" cy="1149.8" r="4.3" class="G"/><circle cx="728.0" cy="829.0" r="5.7" class="B"/><circle cx="437.8" cy="1322.0" r="4.3" class="R"/><circle cx="484.4" cy="1300.9" r="4.2" class="R"/><circle cx="584.1" cy="1291.1" r="4.1" class="B"/><circle cx="392.4" cy="1288.2" r="4.4" class="R"/><circle cx="935.0" cy="1045.0" r="4.7" class="G"/><circle cx="781.6" cy="1207.0" r="4.3" class="G"/><circle cx="746.0" cy="1004.0" r="4.7" class="G"/><circle cx="792.2" cy="1218.1" r="4.9" class="G"/><circle cx="476.6" cy="1354.1" r="4.4" class="R"/><circle cx="643.6" cy="1361.3" r="4.0" class="B"/><circle cx="735.5" cy="1287.0" r="4.4" class="G"/><circle cx="1037.0" cy="1024.0" r="4.5" class="G"/><circle cx="664.8" cy="1335.5" r="4.5" class="B"/><circle cx="981.3" cy="1218.3" r="4.7" class="G"/><circle cx="679.5" cy="1247.3" r="4.4" class="B"/><circle cx="399.9" cy="1340.2" r="4.5" class="R"/><circle cx="714.1" cy="1128.3" r="4.1" class="B"/><circle cx="602.9" cy="1250.7" r="4.4" class="B"/><circle cx="654.0" cy="463.0" r="4.7" class="B"/><circle cx="590.9" cy="1061.1" r="5.0" class="B"/><circle cx="570.0" cy="988.5" r="4.7" class="O"/><circle cx="744.3" cy="1085.7" r="4.1" class="G"/><circle cx="717.1" cy="1241.0" r="5.4" class="B"/><circle cx="635.8" cy="1085.7" r="4.1" class="B"/><circle cx="490.0" cy="1126.0" r="4.7" class="O"/><circle cx="546.3" cy="1307.0" r="6.2" class="O"/><circle cx="555.5" cy="1160.1" r="5.0" class="O"/><circle cx="515.1" cy="1211.4" r="4.3" class="O"/><circle cx="887.5" cy="1206.0" r="4.7" class="G"/><circle cx="541.7" cy="1264.1" r="5.3" class="O"/><circle cx="572.0" cy="676.0" r="4.2" class="O"/><circle cx="586.2" cy="1212.1" r="4.4" class="B"/><circle cx="599.0" cy="1194.1" r="4.3" class="B"/><circle cx="591.2" cy="1248.1" r="4.1" class="B"/><circle cx="808.3" cy="1223.1" r="5.8" class="G"/><circle cx="457.7" cy="1292.6" r="4.4" class="R"/><circle cx="468.5" cy="1260.3" r="4.3" class="R"/><circle cx="521.7" cy="1184.5" r="4.4" class="O"/><circle cx="950.0" cy="1105.0" r="4.7" class="G"/><circle cx="562.5" cy="1115.0" r="4.7" class="O"/><circle cx="810.5" cy="1222.1" r="4.1" class="G"/><circle cx="632.5" cy="1014.0" r="4.7" class="B"/><circle cx="1258.0" cy="946.0" r="4.7" class="G"/><circle cx="716.5" cy="1196.5" r="4.4" class="B"/><circle cx="471.6" cy="1322.1" r="4.0" class="R"/><circle cx="620.0" cy="1212.3" r="4.4" class="B"/><circle cx="355.0" cy="1208.5" r="4.4" class="R"/><circle cx="434.5" cy="1293.2" r="4.2" class="R"/><circle cx="922.5" cy="1239.5" r="5.2" class="G"/><circle cx="1729.0" cy="1207.0" r="4.2" class="G"/><circle cx="599.8" cy="1179.6" r="4.8" class="B"/><circle cx="785.9" cy="1117.1" r="4.5" class="G"/><circle cx="596.8" cy="1206.3" r="4.4" class="B"/><circle cx="558.3" cy="1337.9" r="4.1" class="O"/><circle cx="769.0" cy="618.0" r="4.5" class="G"/><circle cx="653.8" cy="1233.5" r="6.3" class="B"/><circle cx="616.6" cy="1184.9" r="4.5" class="B"/><circle cx="781.1" cy="1270.4" r="4.4" class="G"/><circle cx="639.1" cy="1286.1" r="5.5" class="B"/><circle cx="550.5" cy="1202.4" r="5.6" class="O"/><circle cx="593.4" cy="1383.3" r="6.4" class="B"/><circle cx="1343.0" cy="1211.0" r="4.5" class="G"/><circle cx="731.0" cy="875.0" r="5.5" class="B"/><circle cx="635.4" cy="1177.8" r="5.2" class="B"/><circle cx="552.7" cy="1350.0" r="4.1" class="O"/><circle cx="721.5" cy="1193.8" r="4.3" class="B"/><circle cx="554.6" cy="1199.4" r="4.3" class="O"/><circle cx="630.6" cy="1186.3" r="4.5" class="B"/><circle cx="839.0" cy="1224.0" r="4.7" class="G"/><circle cx="695.2" cy="1262.4" r="4.4" class="B"/><circle cx="892.5" cy="986.0" r="5.5" class="G"/><circle cx="630.8" cy="1279.2" r="5.9" class="B"/><circle cx="801.9" cy="1070.0" r="4.4" class="G"/><circle cx="585.9" cy="1240.0" r="6.1" class="B"/><circle cx="893.8" cy="1231.0" r="4.7" class="G"/><circle cx="940.0" cy="1100.0" r="4.7" class="G"/><circle cx="549.7" cy="1355.7" r="4.0" class="O"/><circle cx="500.2" cy="1239.8" r="4.0" class="O"/><circle cx="590.9" cy="1323.6" r="4.3" class="B"/><circle cx="361.5" cy="1286.5" r="4.3" class="R"/><circle cx="492.8" cy="1308.1" r="4.1" class="O"/><circle cx="520.9" cy="1325.8" r="4.2" class="O"/><circle cx="627.1" cy="1182.9" r="5.1" class="B"/><circle cx="409.6" cy="1292.5" r="4.3" class="R"/><circle cx="659.8" cy="1281.7" r="4.5" class="B"/><circle cx="600.6" cy="1040.1" r="4.7" class="B"/><circle cx="712.5" cy="1179.3" r="4.3" class="B"/><circle cx="472.6" cy="1300.0" r="6.3" class="R"/><circle cx="656.0" cy="1188.3" r="4.7" class="B"/><circle cx="591.6" cy="1326.9" r="4.3" class="B"/><circle cx="575.0" cy="1137.5" r="4.7" class="O"/><circle cx="513.7" cy="1226.5" r="5.0" class="O"/><circle cx="636.8" cy="1118.8" r="4.1" class="B"/><circle cx="448.7" cy="1286.4" r="4.3" class="R"/><circle cx="623.0" cy="1223.5" r="4.4" class="B"/><circle cx="553.5" cy="1255.2" r="4.0" class="O"/><circle cx="840.0" cy="878.0" r="4.7" class="G"/><circle cx="411.4" cy="1183.3" r="4.2" class="R"/><circle cx="615.8" cy="1159.0" r="4.3" class="B"/><circle cx="575.2" cy="1356.9" r="4.8" class="O"/><circle cx="467.0" cy="1187.8" r="4.3" class="R"/><circle cx="638.2" cy="1301.1" r="4.1" class="B"/><circle cx="557.5" cy="1107.5" r="4.7" class="O"/><circle cx="611.7" cy="1247.0" r="4.4" class="B"/><circle cx="406.4" cy="1283.4" r="4.1" class="R"/><circle cx="688.5" cy="1242.9" r="4.4" class="B"/><circle cx="587.6" cy="1232.4" r="4.9" class="B"/><circle cx="627.3" cy="1207.0" r="4.3" class="B"/><circle cx="607.0" cy="1096.0" r="5.2" class="B"/><circle cx="569.6" cy="1298.8" r="5.4" class="O"/><circle cx="414.9" cy="1256.8" r="4.5" class="R"/><circle cx="587.8" cy="1193.3" r="4.1" class="B"/><circle cx="370.6" cy="1273.6" r="5.2" class="R"/><circle cx="821.6" cy="1144.7" r="4.3" class="G"/><circle cx="559.1" cy="1204.7" r="4.3" class="O"/><circle cx="688.2" cy="1294.5" r="5.6" class="B"/><circle cx="476.1" cy="1286.6" r="4.0" class="R"/><circle cx="605.5" cy="1254.6" r="4.9" class="B"/><circle cx="653.5" cy="1280.2" r="5.7" class="B"/><circle cx="687.3" cy="1339.0" r="4.3" class="B"/><circle cx="768.6" cy="1215.7" r="6.3" class="G"/><circle cx="620.0" cy="1128.8" r="5.0" class="B"/><circle cx="701.2" cy="1058.0" r="4.4" class="B"/><circle cx="1058.3" cy="1056.3" r="4.7" class="G"/><circle cx="375.5" cy="1286.5" r="4.0" class="R"/><circle cx="691.6" cy="1288.8" r="5.2" class="B"/><circle cx="694.4" cy="1295.2" r="4.1" class="B"/><circle cx="426.3" cy="1352.3" r="4.6" class="R"/><circle cx="618.8" cy="1163.5" r="4.2" class="B"/><circle cx="468.4" cy="1259.6" r="4.0" class="R"/><circle cx="662.8" cy="1251.3" r="6.6" class="B"/><circle cx="664.4" cy="1358.3" r="4.2" class="B"/><circle cx="650.9" cy="1184.4" r="5.2" class="B"/><circle cx="567.2" cy="1269.5" r="4.4" class="O"/><circle cx="585.0" cy="883.0" r="4.7" class="B"/><circle cx="477.9" cy="1197.1" r="4.0" class="R"/><circle cx="522.5" cy="1360.3" r="4.0" class="O"/><circle cx="632.9" cy="1266.7" r="4.4" class="B"/><circle cx="954.0" cy="1220.8" r="4.7" class="G"/><circle cx="871.0" cy="1113.0" r="4.7" class="G"/><circle cx="495.4" cy="1250.6" r="4.3" class="O"/><circle cx="497.0" cy="1299.9" r="4.7" class="O"/><circle cx="791.0" cy="1236.5" r="4.2" class="G"/><circle cx="482.5" cy="1265.0" r="4.0" class="R"/><circle cx="441.5" cy="1113.5" r="4.7" class="R"/><circle cx="471.5" cy="1352.8" r="4.0" class="R"/><circle cx="544.8" cy="1287.4" r="4.0" class="O"/><circle cx="839.0" cy="800.5" r="4.2" class="G"/><circle cx="683.4" cy="1175.9" r="4.0" class="B"/><circle cx="789.2" cy="1201.1" r="4.6" class="G"/><circle cx="794.4" cy="1288.5" r="4.0" class="G"/><circle cx="613.9" cy="1265.3" r="4.1" class="B"/><circle cx="516.3" cy="1272.4" r="5.3" class="O"/><circle cx="336.0" cy="1232.0" r="4.7" class="R"/><circle cx="820.5" cy="1181.1" r="4.1" class="G"/><circle cx="727.7" cy="1291.5" r="5.0" class="B"/><circle cx="609.9" cy="1335.5" r="4.2" class="B"/><circle cx="634.2" cy="1208.8" r="4.4" class="B"/><circle cx="689.9" cy="1114.4" r="4.2" class="B"/><circle cx="762.2" cy="1294.4" r="4.3" class="G"/><circle cx="434.4" cy="1299.1" r="4.2" class="R"/><circle cx="558.9" cy="1275.5" r="4.2" class="O"/><circle cx="711.7" cy="1118.0" r="4.2" class="B"/><circle cx="676.8" cy="1146.0" r="5.1" class="B"/><circle cx="566.4" cy="1160.1" r="4.4" class="O"/><circle cx="643.5" cy="1215.8" r="4.3" class="B"/><circle cx="677.0" cy="1271.9" r="4.4" class="B"/><circle cx="451.4" cy="1294.0" r="5.2" class="R"/><circle cx="739.3" cy="1079.0" r="4.0" class="G"/><circle cx="473.9" cy="1375.5" r="4.3" class="R"/><circle cx="367.5" cy="1259.8" r="4.0" class="R"/><circle cx="470.8" cy="1262.0" r="4.4" class="R"/><circle cx="748.1" cy="1184.3" r="5.1" class="G"/><circle cx="615.0" cy="1243.3" r="4.2" class="B"/><circle cx="793.2" cy="1230.4" r="4.4" class="G"/><circle cx="430.0" cy="1060.0" r="4.7" class="R"/><circle cx="492.6" cy="1352.9" r="5.5" class="O"/><circle cx="599.0" cy="1315.8" r="4.1" class="B"/><circle cx="841.6" cy="1164.6" r="4.4" class="G"/><circle cx="513.6" cy="1303.2" r="5.4" class="O"/><circle cx="525.2" cy="1222.7" r="4.2" class="O"/><circle cx="1088.7" cy="1186.2" r="6.0" class="G"/><circle cx="725.0" cy="949.0" r="4.7" class="B"/><circle cx="569.7" cy="1241.7" r="5.7" class="O"/><circle cx="506.7" cy="1250.8" r="4.3" class="O"/><circle cx="477.7" cy="1175.5" r="4.3" class="R"/><circle cx="410.0" cy="1060.0" r="4.7" class="R"/><circle cx="608.5" cy="1120.5" r="4.4" class="B"/><circle cx="695.0" cy="969.0" r="5.5" class="B"/><circle cx="821.0" cy="850.5" r="4.7" class="G"/><circle cx="506.0" cy="857.0" r="4.7" class="O"/><circle cx="473.3" cy="1210.6" r="4.3" class="R"/><circle cx="736.9" cy="1151.2" r="4.2" class="G"/><circle cx="525.6" cy="1241.4" r="4.9" class="O"/><circle cx="732.5" cy="1171.6" r="4.6" class="G"/><circle cx="699.0" cy="1268.0" r="5.2" class="B"/><circle cx="514.4" cy="1302.5" r="5.0" class="O"/><circle cx="552.5" cy="1005.0" r="4.7" class="O"/><circle cx="950.0" cy="939.0" r="5.5" class="G"/><circle cx="716.5" cy="1151.6" r="4.3" class="B"/><circle cx="600.0" cy="1264.2" r="4.3" class="B"/><circle cx="503.5" cy="1333.0" r="4.9" class="O"/><circle cx="567.4" cy="1211.5" r="4.3" class="O"/><circle cx="383.5" cy="1321.6" r="4.3" class="R"/><circle cx="546.2" cy="1246.3" r="5.1" class="O"/><circle cx="625.0" cy="1290.3" r="4.3" class="B"/><circle cx="639.7" cy="1279.9" r="4.4" class="B"/><circle cx="355.0" cy="1196.0" r="4.7" class="R"/><circle cx="524.4" cy="1257.0" r="4.0" class="O"/><circle cx="496.0" cy="1262.5" r="4.1" class="O"/><circle cx="838.0" cy="1125.6" r="4.1" class="G"/><circle cx="356.6" cy="1280.7" r="6.3" class="R"/><circle cx="787.5" cy="1134.1" r="5.0" class="G"/><circle cx="671.2" cy="1183.3" r="4.0" class="B"/><circle cx="623.5" cy="1145.5" r="4.4" class="B"/><circle cx="1012.0" cy="854.0" r="4.5" class="G"/><circle cx="641.4" cy="1139.1" r="5.0" class="B"/><circle cx="544.4" cy="1280.7" r="4.9" class="O"/><circle cx="798.8" cy="1203.5" r="4.3" class="G"/><circle cx="479.6" cy="1260.8" r="4.4" class="R"/><circle cx="431.4" cy="1261.2" r="4.4" class="R"/><circle cx="673.8" cy="1283.2" r="4.2" class="B"/><circle cx="674.1" cy="1216.7" r="4.9" class="B"/><circle cx="772.8" cy="1151.1" r="5.2" class="G"/><circle cx="614.9" cy="1163.2" r="4.2" class="B"/><circle cx="438.9" cy="1277.0" r="4.1" class="R"/><circle cx="573.1" cy="1304.8" r="4.3" class="O"/><circle cx="682.1" cy="1042.3" r="5.0" class="B"/><circle cx="361.7" cy="1349.7" r="4.4" class="R"/><circle cx="628.3" cy="1326.7" r="4.9" class="B"/><circle cx="443.9" cy="1291.4" r="4.4" class="R"/><circle cx="806.6" cy="1095.1" r="4.1" class="G"/><circle cx="581.6" cy="1241.6" r="4.1" class="B"/><circle cx="673.7" cy="1280.9" r="5.2" class="B"/><circle cx="553.0" cy="1370.7" r="5.0" class="O"/><circle cx="461.8" cy="1326.3" r="4.1" class="R"/><circle cx="701.9" cy="1090.9" r="4.9" class="B"/><circle cx="557.2" cy="1271.9" r="4.4" class="O"/><circle cx="700.0" cy="1006.0" r="4.7" class="B"/><circle cx="507.7" cy="1310.2" r="5.1" class="O"/><circle cx="859.0" cy="1132.5" r="4.7" class="G"/><circle cx="654.0" cy="627.5" r="4.7" class="B"/><circle cx="796.8" cy="1154.8" r="4.1" class="G"/><circle cx="927.5" cy="893.0" r="6.0" class="G"/><circle cx="820.1" cy="1139.1" r="4.1" class="G"/><circle cx="438.4" cy="1260.7" r="4.2" class="R"/><circle cx="719.0" cy="472.0" r="4.5" class="B"/><circle cx="569.1" cy="1152.9" r="4.2" class="O"/><circle cx="875.0" cy="1151.0" r="4.7" class="G"/><circle cx="629.1" cy="1286.7" r="4.1" class="B"/><circle cx="437.7" cy="1260.0" r="4.1" class="R"/><circle cx="842.5" cy="954.0" r="4.7" class="G"/><circle cx="550.7" cy="1276.4" r="4.4" class="O"/><circle cx="748.0" cy="1297.1" r="5.2" class="G"/><circle cx="436.0" cy="1261.0" r="5.0" class="R"/><circle cx="643.4" cy="1189.2" r="4.0" class="B"/><circle cx="669.1" cy="1257.4" r="4.8" class="B"/><circle cx="939.0" cy="1381.0" r="4.5" class="G"/><circle cx="442.6" cy="1222.0" r="4.3" class="R"/><circle cx="649.4" cy="1183.6" r="4.2" class="B"/><circle cx="567.7" cy="1172.3" r="4.4" class="O"/><circle cx="663.5" cy="1180.3" r="4.1" class="B"/><circle cx="716.8" cy="1276.6" r="4.4" class="B"/><circle cx="817.5" cy="1092.5" r="4.7" class="G"/><circle cx="527.5" cy="1285.1" r="4.1" class="O"/><circle cx="630.7" cy="1307.0" r="4.6" class="B"/><circle cx="407.6" cy="1301.6" r="4.6" class="R"/><circle cx="749.0" cy="1246.0" r="4.2" class="G"/><circle cx="564.4" cy="1290.4" r="4.1" class="O"/><circle cx="833.7" cy="1236.0" r="4.7" class="G"/><circle cx="593.5" cy="1221.8" r="4.8" class="B"/><circle cx="519.3" cy="1316.0" r="4.0" class="O"/><circle cx="469.3" cy="1298.3" r="4.3" class="R"/><circle cx="768.2" cy="1080.9" r="4.1" class="G"/><circle cx="1003.8" cy="1048.3" r="4.7" class="G"/><circle cx="602.0" cy="1258.0" r="5.0" class="B"/><circle cx="634.0" cy="464.5" r="5.0" class="B"/><circle cx="495.7" cy="1315.0" r="4.3" class="O"/><circle cx="517.3" cy="1371.9" r="4.5" class="O"/><circle cx="572.2" cy="1220.0" r="4.4" class="O"/><circle cx="382.6" cy="1217.9" r="5.9" class="R"/><circle cx="544.8" cy="1238.4" r="4.2" class="O"/><circle cx="543.9" cy="1317.0" r="4.0" class="O"/><circle cx="423.4" cy="1353.4" r="4.4" class="R"/><circle cx="490.2" cy="1242.1" r="5.0" class="O"/><circle cx="549.7" cy="1245.1" r="4.4" class="O"/><circle cx="600.3" cy="1116.7" r="4.8" class="B"/><circle cx="761.0" cy="1074.5" r="5.9" class="G"/><circle cx="547.2" cy="1232.4" r="4.1" class="O"/><circle cx="593.6" cy="1268.6" r="4.1" class="B"/><circle cx="492.7" cy="1182.0" r="4.2" class="O"/><circle cx="540.8" cy="1241.8" r="4.4" class="O"/><circle cx="702.8" cy="1203.3" r="4.3" class="B"/><circle cx="551.7" cy="1252.4" r="4.0" class="O"/><circle cx="1361.0" cy="1207.0" r="4.5" class="G"/><circle cx="772.8" cy="1256.3" r="4.2" class="G"/><circle cx="573.8" cy="1310.3" r="4.3" class="O"/><circle cx="772.7" cy="1207.2" r="6.1" class="G"/><circle cx="405.8" cy="1270.3" r="4.8" class="R"/><circle cx="374.0" cy="1206.0" r="4.7" class="R"/><circle cx="684.7" cy="1309.2" r="6.4" class="B"/><circle cx="617.9" cy="1325.2" r="5.9" class="B"/><circle cx="694.4" cy="1155.6" r="4.3" class="B"/><circle cx="811.0" cy="783.0" r="4.5" class="G"/><circle cx="826.1" cy="1210.3" r="4.0" class="G"/><circle cx="788.3" cy="1186.9" r="4.4" class="G"/><circle cx="720.8" cy="1163.5" r="4.3" class="B"/><circle cx="441.5" cy="1300.2" r="4.2" class="R"/><circle cx="674.8" cy="1116.9" r="4.2" class="B"/><circle cx="566.5" cy="1064.0" r="5.8" class="O"/><circle cx="695.5" cy="1258.5" r="4.3" class="B"/><circle cx="671.9" cy="1243.6" r="4.3" class="B"/><circle cx="1169.5" cy="1301.0" r="4.2" class="G"/><circle cx="720.8" cy="1270.9" r="4.2" class="B"/><circle cx="881.0" cy="1204.5" r="4.7" class="G"/><circle cx="770.0" cy="1153.6" r="4.7" class="G"/><circle cx="490.6" cy="1188.8" r="4.1" class="O"/><circle cx="595.2" cy="1113.2" r="4.3" class="B"/><circle cx="953.0" cy="1240.0" r="4.7" class="G"/><circle cx="389.9" cy="1333.1" r="6.1" class="R"/><circle cx="654.6" cy="1180.1" r="4.4" class="B"/><circle cx="779.0" cy="826.0" r="4.7" class="G"/><circle cx="572.4" cy="1229.3" r="4.8" class="O"/><circle cx="643.7" cy="1274.6" r="4.0" class="B"/><circle cx="377.6" cy="1253.4" r="4.2" class="R"/><circle cx="1079.5" cy="1010.0" r="5.2" class="G"/><circle cx="548.9" cy="1182.9" r="5.0" class="O"/><circle cx="430.2" cy="1269.5" r="4.4" class="R"/><circle cx="340.2" cy="1360.6" r="4.4" class="R"/><circle cx="591.1" cy="1075.5" r="4.6" class="B"/><circle cx="782.1" cy="1262.0" r="5.5" class="G"/><circle cx="786.8" cy="1027.6" r="4.3" class="G"/><circle cx="561.0" cy="979.0" r="4.7" class="O"/><circle cx="490.5" cy="1241.0" r="4.4" class="O"/><circle cx="451.5" cy="1305.1" r="4.2" class="R"/><circle cx="651.5" cy="1322.2" r="4.5" class="B"/><circle cx="354.9" cy="1331.9" r="4.5" class="R"/><circle cx="470.6" cy="1267.6" r="4.1" class="R"/><circle cx="762.3" cy="1117.3" r="4.2" class="G"/><circle cx="524.1" cy="1319.2" r="4.7" class="O"/><circle cx="450.4" cy="1345.5" r="4.2" class="R"/><circle cx="551.1" cy="1343.8" r="4.2" class="O"/><circle cx="847.5" cy="1277.8" r="4.7" class="G"/><circle cx="490.2" cy="1369.4" r="5.1" class="O"/><circle cx="587.2" cy="1294.6" r="4.3" class="B"/><circle cx="569.8" cy="1272.2" r="4.3" class="O"/><circle cx="888.7" cy="1163.7" r="5.2" class="G"/><circle cx="640.2" cy="1071.1" r="4.0" class="B"/><circle cx="655.0" cy="993.0" r="5.7" class="B"/><circle cx="598.0" cy="1170.6" r="6.0" class="B"/><circle cx="694.0" cy="1006.0" r="6.2" class="B"/><circle cx="699.8" cy="1193.0" r="4.3" class="B"/><circle cx="540.0" cy="1215.7" r="4.6" class="O"/><circle cx="614.5" cy="1229.4" r="5.4" class="B"/><circle cx="453.6" cy="1261.0" r="4.6" class="R"/><circle cx="419.8" cy="1251.0" r="4.9" class="R"/><circle cx="659.0" cy="1313.8" r="4.2" class="B"/><circle cx="574.4" cy="1237.5" r="4.1" class="O"/><circle cx="402.7" cy="1275.4" r="6.5" class="R"/><circle cx="789.0" cy="563.0" r="5.0" class="G"/><circle cx="770.1" cy="1284.1" r="4.1" class="G"/><circle cx="926.7" cy="1239.5" r="4.7" class="G"/><circle cx="758.6" cy="1274.5" r="4.3" class="G"/><circle cx="624.1" cy="1289.3" r="4.9" class="B"/><circle cx="830.0" cy="1299.0" r="4.7" class="G"/><circle cx="822.5" cy="1100.0" r="4.7" class="G"/><circle cx="550.4" cy="1326.2" r="5.4" class="O"/><circle cx="827.0" cy="1146.8" r="4.3" class="G"/><circle cx="907.5" cy="1107.5" r="4.7" class="G"/><circle cx="496.9" cy="1303.9" r="4.3" class="O"/><circle cx="743.1" cy="1107.0" r="4.6" class="G"/><circle cx="426.1" cy="1289.1" r="5.0" class="R"/><circle cx="517.1" cy="1321.7" r="4.3" class="O"/><circle cx="735.5" cy="1275.8" r="4.8" class="G"/><circle cx="886.0" cy="1070.0" r="5.2" class="G"/><circle cx="636.2" cy="1094.6" r="4.4" class="B"/><circle cx="595.8" cy="1208.3" r="4.4" class="B"/><circle cx="830.0" cy="1226.0" r="4.7" class="G"/><circle cx="648.2" cy="1057.2" r="4.3" class="B"/><circle cx="699.7" cy="1213.2" r="5.1" class="B"/><circle cx="754.2" cy="1196.8" r="4.1" class="G"/><circle cx="597.8" cy="1312.4" r="4.8" class="B"/><circle cx="591.7" cy="1196.9" r="6.2" class="B"/><circle cx="748.3" cy="1121.8" r="4.3" class="G"/><circle cx="576.0" cy="1231.7" r="4.1" class="O"/><circle cx="786.1" cy="1206.8" r="4.3" class="G"/><circle cx="489.2" cy="1161.9" r="4.8" class="O"/><circle cx="695.6" cy="1109.8" r="4.4" class="B"/><circle cx="447.9" cy="1285.0" r="4.4" class="R"/><circle cx="622.6" cy="1281.2" r="5.7" class="B"/><circle cx="1010.0" cy="1129.0" r="4.7" class="G"/><circle cx="1065.0" cy="1047.5" r="5.7" class="G"/><circle cx="777.5" cy="946.0" r="5.5" class="G"/><circle cx="673.7" cy="1224.6" r="4.1" class="B"/><circle cx="505.6" cy="1361.9" r="4.1" class="O"/><circle cx="429.2" cy="1269.1" r="4.3" class="R"/><circle cx="617.3" cy="1333.2" r="4.1" class="B"/><circle cx="284.0" cy="1286.0" r="4.7" class="R"/><circle cx="1576.0" cy="1047.0" r="5.0" class="G"/><circle cx="713.7" cy="1344.7" r="5.9" class="B"/><circle cx="453.7" cy="1363.3" r="4.8" class="R"/><circle cx="661.3" cy="1113.4" r="4.4" class="B"/><circle cx="572.3" cy="1309.4" r="4.0" class="O"/><circle cx="803.0" cy="1247.6" r="4.3" class="G"/><circle cx="533.6" cy="1185.9" r="4.1" class="O"/><circle cx="596.0" cy="762.0" r="5.0" class="B"/><circle cx="690.9" cy="1316.9" r="4.0" class="B"/><circle cx="518.6" cy="1271.2" r="4.4" class="O"/><circle cx="553.8" cy="1195.7" r="4.4" class="O"/><circle cx="433.0" cy="1278.3" r="4.2" class="R"/><circle cx="599.4" cy="1188.8" r="4.1" class="B"/><circle cx="541.9" cy="1351.8" r="4.5" class="O"/><circle cx="493.9" cy="1375.3" r="4.2" class="O"/><circle cx="451.3" cy="1288.9" r="4.3" class="R"/><circle cx="539.5" cy="761.0" r="5.2" class="O"/><circle cx="457.6" cy="1351.7" r="5.5" class="R"/><circle cx="885.0" cy="1132.5" r="4.7" class="G"/><circle cx="302.0" cy="1261.0" r="4.7" class="R"/><circle cx="771.2" cy="1361.2" r="4.3" class="G"/><circle cx="619.5" cy="1322.3" r="6.0" class="B"/><circle cx="596.5" cy="1055.9" r="4.9" class="B"/><circle cx="498.1" cy="1371.1" r="6.2" class="O"/><circle cx="733.3" cy="1135.4" r="4.2" class="G"/><circle cx="500.3" cy="1220.8" r="6.1" class="O"/><circle cx="632.1" cy="1291.8" r="4.3" class="B"/><circle cx="692.1" cy="1322.3" r="4.4" class="B"/><circle cx="683.9" cy="1238.8" r="4.2" class="B"/><circle cx="685.3" cy="1227.6" r="4.0" class="B"/><circle cx="845.5" cy="1206.5" r="4.1" class="G"/><circle cx="776.5" cy="1115.1" r="4.0" class="G"/><circle cx="765.2" cy="1149.7" r="4.1" class="G"/><circle cx="805.4" cy="1070.4" r="4.1" class="G"/><circle cx="867.5" cy="1220.0" r="4.7" class="G"/><circle cx="508.7" cy="1296.1" r="5.2" class="O"/><circle cx="811.7" cy="1149.0" r="4.6" class="G"/><circle cx="761.1" cy="1310.8" r="4.0" class="G"/><circle cx="787.5" cy="999.0" r="4.7" class="G"/><circle cx="693.2" cy="1220.9" r="5.0" class="B"/><circle cx="509.4" cy="1329.5" r="4.3" class="O"/><circle cx="707.0" cy="1218.8" r="5.2" class="B"/><circle cx="485.7" cy="1186.6" r="4.8" class="R"/><circle cx="582.4" cy="1136.1" r="5.7" class="B"/><circle cx="491.5" cy="1199.9" r="4.1" class="O"/><circle cx="826.3" cy="1055.9" r="5.0" class="G"/><circle cx="642.6" cy="1193.2" r="4.6" class="B"/><circle cx="418.5" cy="1278.7" r="4.1" class="R"/><circle cx="676.8" cy="1231.1" r="4.3" class="B"/><circle cx="618.9" cy="1091.8" r="6.0" class="B"/><circle cx="572.8" cy="1231.8" r="4.2" class="O"/><circle cx="781.0" cy="1261.6" r="4.7" class="G"/><circle cx="553.0" cy="543.0" r="4.7" class="O"/><circle cx="698.9" cy="1178.0" r="4.0" class="B"/><circle cx="735.6" cy="1246.7" r="4.4" class="G"/><circle cx="1071.0" cy="995.5" r="4.7" class="G"/><circle cx="459.2" cy="1292.5" r="4.1" class="R"/><circle cx="649.6" cy="1243.1" r="4.4" class="B"/><circle cx="455.0" cy="1127.5" r="4.7" class="R"/><circle cx="1302.0" cy="1059.0" r="5.2" class="G"/><circle cx="800.1" cy="1100.3" r="4.4" class="G"/><circle cx="410.1" cy="1257.6" r="4.1" class="R"/><circle cx="403.9" cy="1262.6" r="4.4" class="R"/><circle cx="553.6" cy="1217.6" r="4.4" class="O"/><circle cx="725.5" cy="647.0" r="5.2" class="B"/><circle cx="492.0" cy="1314.6" r="4.3" class="O"/><circle cx="521.2" cy="1335.0" r="4.3" class="O"/><circle cx="504.2" cy="1289.7" r="5.2" class="O"/><circle cx="854.5" cy="691.0" r="4.8" class="G"/><circle cx="772.6" cy="1134.3" r="4.1" class="G"/><circle cx="636.9" cy="1322.7" r="4.1" class="B"/><circle cx="507.0" cy="1298.7" r="4.4" class="O"/><circle cx="1107.5" cy="1207.0" r="4.5" class="G"/><circle cx="584.0" cy="1090.7" r="5.0" class="B"/><circle cx="559.8" cy="1217.5" r="4.8" class="O"/><circle cx="635.5" cy="1260.4" r="4.4" class="B"/><circle cx="772.5" cy="954.0" r="4.7" class="G"/><circle cx="389.2" cy="1207.3" r="4.7" class="R"/><circle cx="583.7" cy="1250.8" r="4.4" class="B"/><circle cx="789.8" cy="1047.2" r="4.0" class="G"/><circle cx="501.7" cy="1304.8" r="4.3" class="O"/><circle cx="766.0" cy="1006.0" r="4.7" class="G"/><circle cx="1425.5" cy="1056.0" r="4.5" class="G"/><circle cx="772.0" cy="1205.7" r="4.5" class="G"/><circle cx="663.2" cy="1261.0" r="4.9" class="B"/><circle cx="584.8" cy="1100.7" r="4.4" class="B"/><circle cx="825.0" cy="1296.0" r="4.7" class="G"/><circle cx="728.9" cy="1324.3" r="4.3" class="B"/><circle cx="606.9" cy="1077.5" r="4.4" class="B"/><circle cx="681.0" cy="1349.1" r="4.3" class="B"/><circle cx="524.7" cy="1247.8" r="4.4" class="O"/><circle cx="603.7" cy="1177.4" r="4.0" class="B"/><circle cx="492.9" cy="1205.2" r="4.3" class="O"/><circle cx="705.6" cy="1253.0" r="5.3" class="B"/><circle cx="566.7" cy="1259.9" r="4.0" class="O"/><circle cx="704.3" cy="1255.2" r="4.1" class="B"/><circle cx="570.1" cy="1264.0" r="4.6" class="O"/><circle cx="560.8" cy="1153.0" r="5.0" class="O"/><circle cx="559.7" cy="1188.0" r="4.1" class="O"/><circle cx="590.9" cy="1346.8" r="4.5" class="B"/><circle cx="387.9" cy="1261.6" r="5.0" class="R"/><circle cx="440.5" cy="1267.6" r="4.6" class="R"/><circle cx="433.1" cy="1206.4" r="5.0" class="R"/><circle cx="708.8" cy="1322.5" r="4.0" class="B"/><circle cx="581.8" cy="1228.1" r="4.3" class="B"/><circle cx="669.1" cy="1183.7" r="5.6" class="B"/><circle cx="377.3" cy="1287.9" r="4.1" class="R"/><circle cx="603.6" cy="1126.5" r="4.4" class="B"/><circle cx="701.6" cy="1364.3" r="4.0" class="B"/><circle cx="663.4" cy="1080.4" r="4.2" class="B"/><circle cx="742.6" cy="1222.7" r="4.1" class="G"/><circle cx="536.9" cy="1246.2" r="5.4" class="O"/><circle cx="625.8" cy="1182.4" r="4.1" class="B"/><circle cx="634.0" cy="1181.7" r="4.0" class="B"/><circle cx="620.6" cy="1208.5" r="4.4" class="B"/><circle cx="618.0" cy="889.0" r="5.8" class="B"/><circle cx="641.9" cy="1125.8" r="4.2" class="B"/><circle cx="686.3" cy="1292.9" r="4.3" class="B"/><circle cx="1052.5" cy="1095.0" r="6.2" class="G"/><circle cx="650.0" cy="932.5" r="4.7" class="B"/><circle cx="597.0" cy="1097.4" r="5.3" class="B"/><circle cx="502.5" cy="1065.0" r="4.7" class="O"/><circle cx="623.8" cy="1326.3" r="4.2" class="B"/><circle cx="752.9" cy="1120.8" r="4.4" class="G"/><circle cx="428.3" cy="1206.8" r="6.7" class="R"/><circle cx="420.2" cy="1262.0" r="4.2" class="R"/><circle cx="555.5" cy="1213.0" r="4.1" class="O"/><circle cx="746.5" cy="1057.9" r="4.1" class="G"/><circle cx="538.4" cy="1212.5" r="5.0" class="O"/><circle cx="655.1" cy="1150.1" r="4.0" class="B"/><circle cx="656.6" cy="1236.8" r="4.1" class="B"/><circle cx="525.8" cy="1230.7" r="4.4" class="O"/><circle cx="490.1" cy="1331.1" r="4.4" class="O"/><circle cx="929.0" cy="1225.0" r="4.7" class="G"/><circle cx="489.1" cy="1176.9" r="4.9" class="O"/><circle cx="759.1" cy="1051.0" r="4.8" class="G"/><circle cx="446.0" cy="1260.9" r="4.1" class="R"/><circle cx="599.1" cy="1057.9" r="4.3" class="B"/><circle cx="523.6" cy="1262.0" r="4.8" class="O"/><circle cx="416.5" cy="1048.5" r="4.7" class="R"/><circle cx="573.3" cy="1243.4" r="5.8" class="O"/><circle cx="713.2" cy="1261.7" r="4.0" class="B"/><circle cx="621.5" cy="1247.8" r="4.0" class="B"/><circle cx="740.3" cy="1154.0" r="4.1" class="G"/><circle cx="472.3" cy="1355.3" r="4.1" class="R"/><circle cx="1051.3" cy="1186.2" r="4.7" class="G"/><circle cx="562.5" cy="1352.0" r="4.2" class="O"/><circle cx="634.2" cy="1248.8" r="4.4" class="B"/><circle cx="830.0" cy="883.0" r="5.2" class="G"/><circle cx="517.3" cy="1208.9" r="4.3" class="O"/><circle cx="607.0" cy="1146.2" r="4.0" class="B"/><circle cx="560.4" cy="1276.7" r="4.0" class="O"/><circle cx="484.0" cy="1257.8" r="4.3" class="R"/><circle cx="650.8" cy="1120.0" r="4.2" class="B"/><circle cx="638.9" cy="1241.1" r="4.1" class="B"/><circle cx="811.0" cy="954.0" r="4.7" class="G"/><circle cx="519.3" cy="1331.5" r="4.2" class="O"/><circle cx="791.6" cy="1206.3" r="4.3" class="G"/><circle cx="544.5" cy="1377.9" r="4.4" class="O"/><circle cx="657.6" cy="1146.5" r="4.3" class="B"/><circle cx="745.4" cy="1240.8" r="4.8" class="G"/><circle cx="651.2" cy="1290.1" r="4.2" class="B"/><circle cx="547.1" cy="1205.0" r="4.9" class="O"/><circle cx="456.0" cy="1286.3" r="4.0" class="R"/><circle cx="751.0" cy="1075.8" r="5.5" class="G"/><circle cx="936.0" cy="996.0" r="4.7" class="G"/><circle cx="414.9" cy="1290.1" r="4.0" class="R"/><circle cx="783.2" cy="1145.9" r="4.2" class="G"/><circle cx="752.5" cy="980.0" r="4.7" class="G"/><circle cx="526.1" cy="1259.4" r="4.7" class="O"/><circle cx="592.6" cy="1178.1" r="4.4" class="B"/><circle cx="632.1" cy="1306.2" r="4.4" class="B"/><circle cx="402.5" cy="1286.2" r="4.6" class="R"/><circle cx="810.4" cy="1151.2" r="5.8" class="G"/><circle cx="553.0" cy="1308.3" r="4.6" class="O"/><circle cx="705.5" cy="1177.3" r="4.4" class="B"/><circle cx="709.6" cy="1246.1" r="4.2" class="B"/><circle cx="526.5" cy="1240.8" r="4.0" class="O"/><circle cx="802.2" cy="1274.8" r="4.4" class="G"/><circle cx="844.0" cy="800.5" r="4.2" class="G"/><circle cx="678.7" cy="1249.9" r="4.9" class="B"/><circle cx="537.8" cy="1268.6" r="6.2" class="O"/><circle cx="674.3" cy="1332.7" r="5.0" class="B"/><circle cx="535.5" cy="1262.5" r="4.8" class="O"/><circle cx="512.1" cy="1206.3" r="5.5" class="O"/><circle cx="629.1" cy="1199.6" r="4.0" class="B"/><circle cx="679.5" cy="1245.7" r="4.3" class="B"/><circle cx="664.0" cy="991.0" r="4.7" class="B"/><circle cx="1182.0" cy="968.0" r="4.8" class="G"/><circle cx="680.0" cy="1016.0" r="4.7" class="B"/><circle cx="466.0" cy="1289.7" r="4.4" class="R"/><circle cx="651.8" cy="1100.0" r="4.1" class="B"/><circle cx="719.0" cy="1207.5" r="4.3" class="B"/><circle cx="379.3" cy="1254.0" r="4.4" class="R"/><circle cx="673.0" cy="1286.4" r="4.9" class="B"/><circle cx="1021.7" cy="1055.8" r="6.2" class="G"/><circle cx="883.8" cy="1300.5" r="4.7" class="G"/><circle cx="840.7" cy="1074.8" r="5.2" class="G"/><circle cx="601.7" cy="1063.5" r="4.1" class="B"/><circle cx="753.2" cy="1121.2" r="4.2" class="G"/><circle cx="665.6" cy="1180.1" r="4.2" class="B"/><circle cx="516.3" cy="1208.7" r="5.8" class="O"/><circle cx="589.9" cy="1218.2" r="4.4" class="B"/><circle cx="637.6" cy="1237.6" r="4.3" class="B"/><circle cx="662.2" cy="1232.1" r="4.0" class="B"/><circle cx="638.9" cy="1182.3" r="4.3" class="B"/><circle cx="496.2" cy="1282.0" r="4.4" class="O"/><circle cx="680.4" cy="1086.2" r="4.2" class="B"/><circle cx="428.9" cy="1244.2" r="4.0" class="R"/><circle cx="716.3" cy="1200.5" r="4.9" class="B"/><circle cx="479.5" cy="1240.1" r="4.3" class="R"/><circle cx="1003.3" cy="1232.5" r="5.8" class="G"/><circle cx="568.6" cy="1329.1" r="4.1" class="O"/><circle cx="478.7" cy="1273.1" r="4.0" class="R"/><circle cx="537.7" cy="1261.8" r="5.2" class="O"/><circle cx="683.6" cy="1103.4" r="4.2" class="B"/><circle cx="489.4" cy="1257.1" r="4.3" class="O"/><circle cx="570.7" cy="1315.9" r="4.4" class="O"/><circle cx="466.3" cy="1292.7" r="4.0" class="R"/><circle cx="739.9" cy="1112.9" r="4.0" class="G"/><circle cx="692.1" cy="1168.5" r="5.3" class="B"/><circle cx="454.8" cy="1293.1" r="4.3" class="R"/><circle cx="824.7" cy="1207.6" r="4.7" class="G"/><circle cx="552.5" cy="1095.0" r="4.7" class="O"/><circle cx="640.4" cy="1360.0" r="4.0" class="B"/><circle cx="794.5" cy="1050.0" r="4.8" class="G"/><circle cx="535.2" cy="1348.6" r="4.3" class="O"/><circle cx="480.3" cy="1352.4" r="4.2" class="R"/><circle cx="601.8" cy="1205.7" r="4.4" class="B"/><circle cx="543.7" cy="1268.3" r="4.3" class="O"/><circle cx="635.4" cy="1299.7" r="4.9" class="B"/><circle cx="438.3" cy="1259.8" r="4.3" class="R"/><circle cx="617.1" cy="1066.8" r="4.1" class="B"/><circle cx="692.8" cy="1133.7" r="4.3" class="B"/><circle cx="513.2" cy="1299.4" r="4.3" class="O"/><circle cx="618.0" cy="1035.0" r="4.7" class="B"/><circle cx="773.4" cy="1033.2" r="4.7" class="G"/><circle cx="521.1" cy="1280.6" r="4.2" class="O"/><circle cx="435.0" cy="1060.0" r="4.7" class="R"/><circle cx="338.7" cy="1336.6" r="5.1" class="R"/><circle cx="622.3" cy="1269.7" r="4.7" class="B"/><circle cx="342.5" cy="1113.5" r="4.7" class="R"/><circle cx="655.4" cy="1282.9" r="5.5" class="B"/><circle cx="841.4" cy="1207.7" r="5.7" class="G"/><circle cx="544.9" cy="1239.6" r="4.3" class="O"/><circle cx="540.0" cy="1005.0" r="4.7" class="O"/><circle cx="500.2" cy="1316.4" r="4.0" class="O"/><circle cx="467.8" cy="1263.5" r="4.2" class="R"/><circle cx="647.2" cy="1258.0" r="4.3" class="B"/><circle cx="892.5" cy="837.5" r="4.5" class="G"/><circle cx="626.2" cy="1251.8" r="4.2" class="B"/><circle cx="449.0" cy="1346.0" r="5.1" class="R"/><circle cx="703.0" cy="1181.2" r="5.0" class="B"/><circle cx="377.3" cy="1306.1" r="5.2" class="R"/><circle cx="671.3" cy="1114.8" r="4.2" class="B"/><circle cx="793.5" cy="1222.2" r="4.0" class="G"/><circle cx="373.7" cy="1254.4" r="5.6" class="R"/><circle cx="832.5" cy="1166.0" r="4.7" class="G"/><circle cx="677.5" cy="1032.5" r="4.7" class="B"/><circle cx="370.1" cy="1313.8" r="5.2" class="R"/><circle cx="672.0" cy="818.0" r="4.5" class="B"/><circle cx="447.1" cy="1280.1" r="4.4" class="R"/><circle cx="380.1" cy="1215.9" r="6.5" class="R"/><circle cx="670.0" cy="1180.5" r="4.1" class="B"/><circle cx="732.6" cy="1353.7" r="4.4" class="G"/><circle cx="726.3" cy="1243.6" r="4.3" class="B"/><circle cx="554.8" cy="1151.5" r="4.0" class="O"/><circle cx="662.0" cy="998.0" r="4.7" class="B"/><circle cx="789.2" cy="1224.0" r="4.5" class="G"/><circle cx="471.8" cy="1260.8" r="4.4" class="R"/><circle cx="609.9" cy="1256.0" r="4.1" class="B"/><circle cx="315.0" cy="1220.5" r="4.7" class="R"/><circle cx="735.2" cy="1181.8" r="6.0" class="G"/><circle cx="455.2" cy="1260.4" r="4.0" class="R"/><circle cx="403.5" cy="1261.1" r="4.3" class="R"/><circle cx="630.4" cy="1167.6" r="5.0" class="B"/><circle cx="740.0" cy="1006.0" r="4.7" class="G"/><circle cx="490.1" cy="1199.9" r="4.1" class="O"/><circle cx="402.8" cy="1240.8" r="4.2" class="R"/><circle cx="450.7" cy="1344.5" r="4.2" class="R"/><circle cx="654.7" cy="1321.5" r="4.8" class="B"/><circle cx="774.3" cy="1166.8" r="4.4" class="G"/><circle cx="728.1" cy="1122.4" r="4.8" class="B"/><circle cx="699.4" cy="1384.7" r="4.2" class="B"/><circle cx="642.7" cy="1251.7" r="4.0" class="B"/><circle cx="1412.5" cy="1077.5" r="4.7" class="G"/><circle cx="715.1" cy="1339.4" r="4.4" class="B"/><circle cx="732.8" cy="1279.3" r="4.4" class="G"/><circle cx="942.5" cy="944.0" r="4.7" class="G"/><circle cx="560.5" cy="1345.7" r="4.3" class="O"/><circle cx="899.0" cy="1133.0" r="5.8" class="G"/><circle cx="748.1" cy="1246.2" r="4.1" class="G"/><circle cx="610.3" cy="1327.1" r="5.7" class="B"/><circle cx="797.5" cy="1323.1" r="4.1" class="G"/><circle cx="496.8" cy="1218.1" r="5.2" class="O"/><circle cx="624.0" cy="527.0" r="4.5" class="B"/><circle cx="532.2" cy="1313.7" r="4.6" class="O"/><circle cx="603.7" cy="1177.3" r="4.9" class="B"/><circle cx="415.6" cy="1244.1" r="4.1" class="R"/><circle cx="545.3" cy="1329.2" r="4.3" class="O"/><circle cx="767.1" cy="1213.8" r="4.2" class="G"/><circle cx="620.9" cy="1313.3" r="4.4" class="B"/><circle cx="647.1" cy="1178.5" r="4.1" class="B"/><circle cx="551.6" cy="1351.3" r="4.1" class="O"/><circle cx="595.7" cy="1345.3" r="4.0" class="B"/><circle cx="603.9" cy="1348.2" r="4.4" class="B"/><circle cx="590.6" cy="1171.9" r="4.3" class="B"/><circle cx="412.0" cy="1195.0" r="4.6" class="R"/><circle cx="487.5" cy="1104.0" r="4.7" class="O"/><circle cx="569.8" cy="1211.4" r="4.1" class="O"/><circle cx="463.9" cy="1187.5" r="5.9" class="R"/><circle cx="718.0" cy="1002.5" r="4.7" class="B"/><circle cx="787.5" cy="1150.3" r="4.3" class="G"/><circle cx="627.5" cy="893.0" r="4.7" class="B"/><circle cx="451.7" cy="1297.3" r="4.6" class="R"/><circle cx="349.0" cy="1286.1" r="4.2" class="R"/><circle cx="442.3" cy="1260.5" r="4.3" class="R"/><circle cx="786.3" cy="1074.8" r="4.1" class="G"/><circle cx="619.0" cy="1242.4" r="4.4" class="B"/><circle cx="782.1" cy="1079.5" r="4.2" class="G"/><circle cx="844.4" cy="1248.3" r="6.4" class="G"/><circle cx="527.5" cy="1232.0" r="5.1" class="O"/><circle cx="418.5" cy="1318.7" r="4.2" class="R"/><circle cx="704.3" cy="1338.4" r="4.1" class="B"/><circle cx="612.7" cy="1335.4" r="4.1" class="B"/><circle cx="721.3" cy="1264.3" r="4.8" class="B"/><circle cx="381.3" cy="1276.8" r="4.4" class="R"/><circle cx="623.8" cy="1359.0" r="4.6" class="B"/><circle cx="432.1" cy="1259.8" r="4.2" class="R"/><circle cx="1020.0" cy="1064.7" r="4.7" class="G"/><circle cx="617.0" cy="1314.4" r="5.1" class="B"/><circle cx="649.1" cy="1294.6" r="4.8" class="B"/><circle cx="712.0" cy="1332.9" r="5.0" class="B"/><circle cx="690.3" cy="1091.3" r="4.9" class="B"/><circle cx="381.0" cy="1286.7" r="4.2" class="R"/><circle cx="673.4" cy="1240.5" r="5.9" class="B"/><circle cx="490.5" cy="1174.4" r="4.1" class="O"/><circle cx="678.9" cy="1214.6" r="4.2" class="B"/><circle cx="373.4" cy="1262.0" r="6.0" class="R"/><circle cx="726.3" cy="1151.6" r="4.6" class="B"/><circle cx="801.0" cy="1021.0" r="4.7" class="G"/><circle cx="605.6" cy="1140.0" r="4.1" class="B"/><circle cx="536.2" cy="1351.0" r="4.8" class="O"/><circle cx="727.7" cy="1206.1" r="4.4" class="B"/><circle cx="761.3" cy="1283.7" r="4.3" class="G"/><circle cx="620.1" cy="1154.3" r="4.0" class="B"/><circle cx="544.3" cy="1285.9" r="4.1" class="O"/><circle cx="488.3" cy="1275.2" r="4.8" class="O"/><circle cx="382.1" cy="1328.8" r="4.6" class="R"/><circle cx="552.9" cy="1183.8" r="4.5" class="O"/><circle cx="512.7" cy="1257.2" r="4.2" class="O"/><circle cx="682.5" cy="862.0" r="4.7" class="B"/><circle cx="717.4" cy="1177.5" r="4.1" class="B"/><circle cx="531.7" cy="1334.3" r="4.4" class="O"/><circle cx="982.5" cy="1312.0" r="4.7" class="G"/><circle cx="679.7" cy="1189.0" r="4.3" class="B"/><circle cx="498.5" cy="1183.4" r="4.2" class="O"/><circle cx="744.0" cy="1214.8" r="5.7" class="G"/><circle cx="650.9" cy="1113.2" r="4.4" class="B"/><circle cx="572.7" cy="1207.1" r="4.3" class="O"/><circle cx="648.0" cy="1172.1" r="4.0" class="B"/><circle cx="621.9" cy="1306.8" r="4.4" class="B"/><circle cx="375.4" cy="1288.4" r="6.0" class="R"/><circle cx="843.0" cy="774.5" r="4.5" class="G"/><circle cx="1505.5" cy="1162.0" r="4.5" class="G"/><circle cx="649.0" cy="1064.8" r="4.4" class="B"/><circle cx="740.8" cy="1206.8" r="4.5" class="G"/><circle cx="658.8" cy="1063.5" r="4.3" class="B"/><circle cx="554.5" cy="1365.5" r="4.0" class="O"/><circle cx="617.7" cy="1178.7" r="4.4" class="B"/><circle cx="429.2" cy="1271.9" r="4.2" class="R"/><circle cx="592.4" cy="1057.1" r="4.7" class="B"/><circle cx="652.5" cy="792.0" r="4.5" class="B"/><circle cx="611.6" cy="1155.4" r="4.0" class="B"/><circle cx="708.7" cy="1195.6" r="5.2" class="B"/><circle cx="505.2" cy="1206.2" r="6.4" class="O"/><circle cx="779.4" cy="1090.5" r="4.1" class="G"/><circle cx="645.1" cy="1286.0" r="5.5" class="B"/><circle cx="740.4" cy="1133.8" r="6.4" class="G"/><circle cx="657.7" cy="1122.9" r="4.7" class="B"/><circle cx="590.9" cy="1153.7" r="4.3" class="B"/><circle cx="634.1" cy="1120.5" r="4.4" class="B"/><circle cx="638.9" cy="1312.1" r="4.2" class="B"/><circle cx="490.4" cy="1273.0" r="4.4" class="O"/><circle cx="733.9" cy="1205.8" r="4.2" class="G"/><circle cx="694.6" cy="1151.5" r="5.0" class="B"/><circle cx="579.0" cy="626.0" r="4.5" class="B"/><circle cx="822.9" cy="1144.0" r="4.3" class="G"/><circle cx="629.9" cy="1259.0" r="4.3" class="B"/><circle cx="550.6" cy="1318.7" r="5.7" class="O"/><circle cx="493.8" cy="1334.5" r="4.2" class="O"/><circle cx="560.3" cy="1335.1" r="4.1" class="O"/><circle cx="524.5" cy="1340.4" r="4.5" class="O"/><circle cx="613.2" cy="1283.7" r="6.4" class="B"/><circle cx="916.0" cy="1224.7" r="4.7" class="G"/><circle cx="525.5" cy="1259.4" r="4.7" class="O"/><circle cx="529.4" cy="1269.9" r="4.6" class="O"/><circle cx="468.7" cy="1305.7" r="4.9" class="R"/><circle cx="653.1" cy="1152.4" r="4.0" class="B"/><circle cx="688.1" cy="1322.4" r="5.5" class="B"/><circle cx="737.5" cy="997.5" r="4.7" class="G"/><circle cx="573.5" cy="1314.9" r="4.0" class="O"/><circle cx="663.2" cy="1235.3" r="4.2" class="B"/><circle cx="727.6" cy="1222.5" r="5.9" class="B"/><circle cx="775.9" cy="1143.6" r="5.2" class="G"/><circle cx="797.0" cy="1206.9" r="4.2" class="G"/><circle cx="755.0" cy="899.5" r="4.7" class="G"/><circle cx="753.9" cy="1237.2" r="4.1" class="G"/><circle cx="771.8" cy="1257.7" r="5.1" class="G"/><circle cx="659.2" cy="1246.3" r="4.1" class="B"/><circle cx="866.0" cy="1177.5" r="4.7" class="G"/><circle cx="502.5" cy="1047.5" r="4.7" class="O"/><circle cx="688.9" cy="1212.6" r="4.6" class="B"/><circle cx="699.9" cy="1287.2" r="4.8" class="B"/><circle cx="652.0" cy="1251.9" r="6.2" class="B"/><circle cx="611.0" cy="1201.6" r="4.4" class="B"/><circle cx="829.0" cy="982.5" r="5.8" class="G"/><circle cx="924.0" cy="969.0" r="5.5" class="G"/><circle cx="729.4" cy="1262.5" r="4.7" class="B"/><circle cx="763.3" cy="1243.9" r="4.3" class="G"/><circle cx="491.8" cy="1258.3" r="4.4" class="O"/><circle cx="594.3" cy="1289.4" r="4.3" class="B"/><circle cx="571.9" cy="1330.1" r="4.5" class="O"/><circle cx="839.0" cy="1303.0" r="4.7" class="G"/><circle cx="655.0" cy="1106.8" r="5.0" class="B"/><circle cx="539.1" cy="1385.3" r="4.6" class="O"/><circle cx="690.9" cy="1190.8" r="4.2" class="B"/><circle cx="662.6" cy="1283.0" r="5.1" class="B"/><circle cx="758.3" cy="1207.0" r="4.4" class="G"/><circle cx="505.4" cy="1263.9" r="4.8" class="O"/><circle cx="1177.0" cy="1301.0" r="5.0" class="G"/><circle cx="498.8" cy="1360.4" r="4.5" class="O"/><circle cx="710.0" cy="1238.1" r="4.7" class="B"/><circle cx="866.0" cy="1337.0" r="6.2" class="G"/><circle cx="1034.7" cy="1130.5" r="5.2" class="G"/><circle cx="463.4" cy="1268.2" r="4.9" class="R"/><circle cx="694.3" cy="1188.0" r="4.2" class="B"/><circle cx="739.6" cy="1208.0" r="5.0" class="G"/><circle cx="399.1" cy="1286.7" r="4.3" class="R"/><circle cx="626.9" cy="1066.4" r="5.3" class="B"/><circle cx="677.3" cy="1237.9" r="5.5" class="B"/><circle cx="812.5" cy="1004.0" r="4.7" class="G"/><circle cx="307.5" cy="1220.0" r="4.7" class="R"/><circle cx="581.8" cy="1223.6" r="4.0" class="B"/><circle cx="629.3" cy="1177.2" r="4.9" class="B"/><circle cx="543.6" cy="1212.0" r="4.5" class="O"/><circle cx="935.0" cy="1221.7" r="4.7" class="G"/><circle cx="414.8" cy="1293.0" r="4.2" class="R"/><circle cx="784.4" cy="1335.3" r="4.3" class="G"/><circle cx="701.2" cy="1260.8" r="5.2" class="B"/><circle cx="463.5" cy="1288.6" r="4.2" class="R"/><circle cx="552.7" cy="1369.3" r="4.2" class="O"/><circle cx="600.1" cy="1213.3" r="4.3" class="B"/><circle cx="951.0" cy="1336.0" r="5.0" class="G"/><circle cx="746.7" cy="1316.4" r="4.5" class="G"/><circle cx="517.3" cy="1185.0" r="4.4" class="O"/><circle cx="404.0" cy="1208.8" r="5.0" class="R"/><circle cx="463.5" cy="1103.5" r="4.7" class="R"/><circle cx="426.9" cy="1227.1" r="5.7" class="R"/><circle cx="456.1" cy="1292.0" r="6.6" class="R"/><circle cx="631.2" cy="1155.8" r="4.4" class="B"/><circle cx="741.3" cy="1085.9" r="4.2" class="G"/><circle cx="494.0" cy="979.5" r="5.0" class="O"/><circle cx="541.5" cy="1135.0" r="4.7" class="O"/><circle cx="726.9" cy="1241.5" r="4.0" class="B"/><circle cx="698.7" cy="1340.4" r="4.4" class="B"/><circle cx="756.8" cy="1272.7" r="4.1" class="G"/><circle cx="718.0" cy="647.5" r="4.2" class="B"/><circle cx="753.5" cy="1221.3" r="4.7" class="G"/><circle cx="727.3" cy="1243.2" r="5.0" class="B"/><circle cx="735.2" cy="1124.6" r="4.1" class="G"/><circle cx="421.6" cy="1292.7" r="5.2" class="R"/><circle cx="625.9" cy="1193.7" r="4.9" class="B"/><circle cx="713.1" cy="1271.6" r="4.2" class="B"/><circle cx="607.8" cy="1247.1" r="4.8" class="B"/><circle cx="754.3" cy="1175.6" r="4.7" class="G"/><circle cx="441.6" cy="1261.0" r="4.3" class="R"/><circle cx="789.7" cy="1189.3" r="4.3" class="G"/><circle cx="479.0" cy="626.0" r="4.7" class="R"/><circle cx="641.7" cy="1078.4" r="4.5" class="B"/><circle cx="664.0" cy="1137.8" r="5.8" class="B"/><circle cx="476.5" cy="1304.5" r="5.4" class="R"/><circle cx="515.5" cy="839.5" r="4.2" class="O"/><circle cx="778.0" cy="1381.0" r="4.8" class="G"/><circle cx="811.8" cy="1275.5" r="4.9" class="G"/><circle cx="686.9" cy="1238.3" r="4.3" class="B"/><circle cx="811.6" cy="1037.2" r="5.5" class="G"/><circle cx="502.0" cy="928.0" r="4.7" class="O"/><circle cx="468.5" cy="1143.5" r="4.7" class="R"/><circle cx="984.2" cy="1199.2" r="5.0" class="G"/><circle cx="798.8" cy="1293.8" r="4.2" class="G"/><circle cx="763.7" cy="1041.1" r="4.4" class="G"/><circle cx="660.8" cy="1121.3" r="4.0" class="B"/><circle cx="734.2" cy="1292.0" r="4.1" class="G"/><circle cx="666.4" cy="1247.7" r="4.0" class="B"/><circle cx="520.0" cy="1105.0" r="4.7" class="O"/><circle cx="726.5" cy="1252.3" r="4.1" class="B"/><circle cx="698.5" cy="1254.4" r="4.0" class="B"/><circle cx="766.7" cy="1207.4" r="4.5" class="G"/><circle cx="803.4" cy="1168.7" r="4.7" class="G"/><circle cx="763.9" cy="1087.0" r="4.3" class="G"/><circle cx="757.3" cy="1068.1" r="4.4" class="G"/><circle cx="779.0" cy="1357.5" r="4.7" class="G"/><circle cx="726.0" cy="879.0" r="4.7" class="B"/><circle cx="804.3" cy="1117.0" r="5.0" class="G"/><circle cx="777.6" cy="1248.3" r="4.9" class="G"/><circle cx="478.7" cy="1261.0" r="6.2" class="R"/><circle cx="541.0" cy="323.5" r="4.5" class="O"/><circle cx="542.1" cy="1245.7" r="5.2" class="O"/><circle cx="669.0" cy="1005.0" r="5.5" class="B"/><circle cx="257.0" cy="1285.0" r="4.7" class="R"/><circle cx="557.4" cy="1307.0" r="5.0" class="O"/><circle cx="785.6" cy="1267.8" r="5.4" class="G"/></g>
<path d="M445.5 524.5L553 543M530 558L556 564M291 596L462.5 626M451 593L579 627M445.5 628L474 626.5M430.5 669L514 684M358 716L595 761M437 749.5L541 754.5M300.5 778L539 761M437 783L579 792.5M413 816L559 800M512.5 847.5L586 807M726 423L722.5 462.5M800 469L766 514M877 463L821 495M838 496L779 542.5M576 491L612.5 511M598 523L625 527M838 530.5L790 563M962.5 562.5L926 563M642 606L654 626M922 595L749 627M577 599L612.5 626M624 631L687.5 646M909 629.5L739 647M707 687L696 662.5M821 700L774 705M966 699.5L854.5 691M631 743L611 760M712 732.5L660 752M848 736L830 771M936 733L843 774M652.5 764.5L624 761M849 772.5L840 800M560.5 781L601 783M684 822L688 799M841 822L822 798M906 799.5L845 800.5M1068 809L863.5 817M917 833L892.5 837.5M601 894.5L670 821M741 902.5L809 814M672 940L830 884M818 970.5L840 928M840 928L892.5 880M950 920L912 905M1006 919L984.5 903M995.5 884L929 893M1065 850L1012.5 854M1216 846L972.5 855.5M1024 779.5L1014 808M1154.5 889.5L1109 902M1267 962.5L1184 968M1302.5 1061L1312 1084M1544 1109L1416 1149M1544 1147.5L1462.5 1149.5M1262 1122L1235 1123M1385 1191L1362.5 1206M1363 1249L1344.5 1212.5M1120 1227L1108 1208M1087.5 1272.5L1051 1279M1208 1288L1179 1300M1012 1344L984 1314M595 848L637 807" stroke="#A6A6A6" stroke-width="2.5" fill="none" stroke-linecap="butt"/>
<g font-size="18.97" text-anchor="middle"><text x="312.0" y="266.6" class="tR">Steamboat Springs, CO</text><text x="485.8" y="294.1" class="tO">Key West, FL</text><text x="569.8" y="349.1" class="tO">Boone, NC</text><text x="784.2" y="341.6" class="tG">Oxford, MS</text><text x="472.5" y="417.8" class="tO">Laconia, NH</text><text x="394.8" y="458.3" class="tR">Brainerd, MN</text><text x="322.8" y="491.3" class="tR">Jackson, WY</text><text x="514.5" y="496.3" class="tB">Mesquite, NV</text><text x="341.8" y="531.3" class="tO">North Myrtle Beach, SC</text><text x="525.5" y="530.3" class="tB">Lincoln City, OR</text><text x="425.2" y="565.3" class="tO">Panama City Beach, FL</text><text x="228.2" y="603.3" class="tR">Sandpoint, ID</text><text x="375.5" y="599.8" class="tB">Spanish Fort, AL</text><text x="518.0" y="603.3" class="tB">Fairhope, AL</text><text x="375.0" y="634.8" class="tR">Gulf Shores, AL</text><text x="541.0" y="637.8" class="tB">Bonita Springs, FL</text><text x="372.5" y="675.8" class="tO">Williston, ND</text><text x="493.8" y="672.3" class="tO">Shelton, WA</text><text x="424.5" y="709.3" class="tO">Flagstaff, AZ</text><text x="561.2" y="705.3" class="tB">Waynesville, NC</text><text x="302.8" y="722.8" class="tB">Bluffton, SC</text><text x="511.8" y="742.8" class="tB">Grass Valley, CA</text><text x="377.0" y="756.3" class="tO">Asheville, NC</text><text x="604.8" y="419.3" class="tB">Sevierville, TN</text><text x="801.5" y="427.3" class="tB">Marco Island, FL</text><text x="667.2" y="452.3" class="tB">Naples, FL</text><text x="803.8" y="464.3" class="tG">Lebanon, NH</text><text x="942.5" y="469.3" class="tG">Sylacauga, AL</text><text x="638.0" y="491.3" class="tB">Leland, NC</text><text x="762.5" y="497.8" class="tB">Show Low, AZ</text><text x="893.5" y="502.3" class="tG">Conway, SC</text><text x="675.5" y="531.3" class="tB">Newport, OR</text><text x="750.0" y="532.8" class="tB">Myrtle Beach, SC</text><text x="913.5" y="536.3" class="tG">Panama City, FL</text><text x="593.2" y="568.3" class="tB">Payson, AZ</text><text x="725.8" y="569.3" class="tG">Lynn Haven, FL</text><text x="865.0" y="569.3" class="tG">Mineral Wells, TX</text><text x="1019.5" y="569.3" class="tG">Callaway, FL</text><text x="641.5" y="602.3" class="tB">Daphne, AL</text><text x="844.8" y="603.3" class="tG">Claremont, NH</text><text x="965.5" y="602.8" class="tG">Foley, AL</text><text x="699.8" y="634.3" class="tB">Fort Myers, FL</text><text x="839.5" y="637.8" class="tG">Branson, MO</text><text x="978.2" y="636.3" class="tG">Cape Coral, FL</text><text x="631.8" y="672.3" class="tB">Estero, FL</text><text x="796.8" y="671.3" class="tB">Rockport, TX</text><text x="950.0" y="671.3" class="tG">Alamogordo, NM</text><text x="707.5" y="705.3" class="tB">Glens Falls, NY</text><text x="895.5" y="706.3" class="tG">Punta Gorda, FL</text><text x="1034.0" y="706.3" class="tG">Watertown, NY</text><text x="641.2" y="737.8" class="tB">Beaufort, SC</text><text x="767.5" y="737.8" class="tB">Truckee, CA</text><text x="885.2" y="739.3" class="tG">Troy, AL</text><text x="997.0" y="739.3" class="tG">Kirksville, MO</text><text x="200.8" y="785.3" class="tO">Hilton Head Island, SC</text><text x="368.0" y="789.8" class="tB">Alexandria, MN</text><text x="504.0" y="788.3" class="tB">Bay City, TX</text><text x="328.5" y="823.3" class="tO">Fredericksburg, TX</text><text x="492.5" y="822.8" class="tO">Biddeford, ME</text><text x="466.5" y="855.8" class="tB">Saco, ME</text><text x="580.0" y="866.3" class="tB">Sanford, ME</text><text x="526.5" y="902.8" class="tB">Milledgeville, GA</text><text x="599.5" y="946.3" class="tG">Pinellas Park, FL</text><text x="718.2" y="771.3" class="tB">Port Royal, SC</text><text x="780.5" y="770.3" class="tG">Palmetto, FL</text><text x="912.5" y="773.3" class="tG">Avon Park, FL</text><text x="634.5" y="787.3" class="tB">Athens, TX</text><text x="624.8" y="832.8" class="tB">Sarasota, FL</text><text x="746.5" y="809.3" class="tG">Venice, FL</text><text x="714.5" y="843.3" class="tG">Ponca City, OK</text><text x="842.0" y="839.3" class="tG">North Port, FL</text><text x="959.8" y="805.3" class="tG">Sebring, FL</text><text x="987.2" y="839.8" class="tG">Gloversville, NY</text><text x="763.5" y="876.3" class="tG">Brunswick, GA</text><text x="675.2" y="910.3" class="tG">McAlester, OK</text><text x="808.0" y="910.3" class="tG">Sulphur, LA</text><text x="925.8" y="874.3" class="tG">Martinsville, VA</text><text x="922.5" y="926.3" class="tG">Bemidji, MN</text><text x="1012.5" y="929.3" class="tG">Plainview, TX</text><text x="739.5" y="944.3" class="tG">Roanoke Rapids, NC</text><text x="741.5" y="978.3" class="tG">Fountain Inn, SC</text><text x="1097.5" y="782.8" class="tG">Orangeburg, SC</text><text x="1143.8" y="816.3" class="tG">New Orleans, LA</text><text x="1134.2" y="857.3" class="tG">Jamestown, NY</text><text x="1279.5" y="852.8" class="tG">Waycross, GA</text><text x="1070.5" y="890.3" class="tG">Wichita Falls, TX</text><text x="1224.8" y="895.3" class="tG">Atlantic City, NJ</text><text x="1080.0" y="929.3" class="tG">Pleasantville, NJ</text><text x="1298.5" y="934.3" class="tG">Sandusky, OH</text><text x="1153.8" y="956.3" class="tG">Shreveport, LA</text><text x="1327.5" y="969.3" class="tG">Kingsville, TX</text><text x="1205.5" y="1002.8" class="tG">Meridian, MS</text><text x="1158.2" y="1036.3" class="tG">Bessemer, AL</text><text x="1354.2" y="1039.8" class="tG">Artesia, NM</text><text x="1234.0" y="1074.3" class="tG">Birmingham, AL</text><text x="1466.5" y="1044.3" class="tG">Inkster, MI</text><text x="1472.8" y="1082.8" class="tG">Danville, IL</text><text x="1725.0" y="997.8" class="tG">Jackson, MS</text><text x="1631.0" y="1074.3" class="tG">Lauderdale Lakes, FL</text><text x="1609.0" y="1115.3" class="tG">Cleveland, OH</text><text x="1448.2" y="1136.3" class="tG">East Cleveland, OH</text><text x="1752.5" y="1118.3" class="tG">Gary, IN</text><text x="1629.0" y="1155.3" class="tG">Maple Heights, OH</text><text x="1851.0" y="1154.8" class="tG">Flint, MI</text><text x="1581.0" y="1187.8" class="tG">McKeesport, PA</text><text x="1762.2" y="1194.8" class="tG">Youngstown, OH</text><text x="1661.5" y="1229.3" class="tG">Markham, IL</text><text x="1776.0" y="1233.3" class="tG">Dolton, IL</text><text x="1362.0" y="1094.3" class="tG">Decatur, IL</text><text x="1184.0" y="1108.3" class="tG">Chickasha, OK</text><text x="989.2" y="1117.8" class="tG">Abilene, TX</text><text x="1310.5" y="1129.3" class="tG">Elmira, NY</text><text x="1131.0" y="1140.3" class="tG">South Euclid, OH</text><text x="1258.8" y="1162.3" class="tG">Garfield Heights, OH</text><text x="1165.0" y="1194.8" class="tG">Munhall, PA</text><text x="1306.2" y="1195.3" class="tG">Calumet City, IL</text><text x="1441.8" y="1194.3" class="tG">Riverdale, IL</text><text x="1431.5" y="1233.3" class="tG">Park Forest, IL</text><text x="1364.2" y="1266.3" class="tG">Alton, IL</text><text x="1121.0" y="1245.3" class="tG">Matteson, IL</text><text x="1256.8" y="1237.8" class="tG">Granite City, IL</text><text x="1143.0" y="1279.3" class="tG">Pine Hill, NJ</text><text x="991.5" y="1296.8" class="tG">Gloucester City, NJ</text><text x="1259.5" y="1293.3" class="tG">Pontiac, MI</text><text x="1411.5" y="1305.3" class="tG">Camden, NJ</text><text x="1153.5" y="1327.3" class="tG">Hazel Park, MI</text><text x="1159.0" y="1362.8" class="tG">Eastpointe, MI</text><text x="1020.2" y="1362.8" class="tG">Glassboro, NJ</text><text x="902.5" y="1407.3" class="tG">Plano, IL</text><text x="1024.5" y="1407.8" class="tG">Montgomery, IL</text></g>
<path d="M96.3 1149.25H1904" stroke="#E74C3C" stroke-width="2.85" stroke-dasharray="11.38 11.38" fill="none"/>
<text x="1651.5" y="1141" font-size="22.76" fill="#E74C3C" text-anchor="middle">10% vacancy threshold</text>
<g font-size="25.6" fill="#4D4D4D"><text x="118.0" y="1475.5" text-anchor="middle">0.0</text><text x="469.6" y="1475.5" text-anchor="middle">2.5</text><text x="821.1" y="1475.5" text-anchor="middle">5.0</text><text x="1172.7" y="1475.5" text-anchor="middle">7.5</text><text x="1524.2" y="1475.5" text-anchor="middle">10.0</text><text x="1875.8" y="1475.5" text-anchor="middle">12.5</text><text x="82.5" y="1158.5" text-anchor="end">10</text><text x="82.5" y="839.0" text-anchor="end">20</text><text x="82.5" y="519.5" text-anchor="end">30</text></g>
<text x="1000" y="1512.5" font-size="31.7" text-anchor="middle" fill="#000">Estimated Cap Rate (%)</text>
<text transform="translate(37.5,833.5) rotate(-90)" font-size="31.7" text-anchor="middle" fill="#000">County Vacancy Rate (%)</text>
<text x="96.5" y="43.7" font-size="38" fill="#000">Vacancy Rate vs Cap Rate (Cities 10K+ pop)</text>
<text x="95.8" y="91.7" font-size="32" fill="#000">Lower-right = strong returns + low vacancy. Above the red line = risky.</text>
<text x="567.6" y="164.5" font-size="32" fill="#000">Tier</text>
<circle cx="661.75" cy="153.6" r="5.7" class="G" stroke-width="1.9" fill-opacity=".6" stroke-opacity=".72"/>
<text x="661.75" y="160.5" font-size="18.97" text-anchor="middle" class="tG">a</text>
<text x="700.9" y="163" font-size="25.05" fill="#000">Strong Buy</text>
<circle cx="864.5" cy="153.6" r="5.7" class="B" stroke-width="1.9" fill-opacity=".6" stroke-opacity=".72"/>
<text x="864.5" y="160.5" font-size="18.97" text-anchor="middle" class="tB">a</text>
<text x="903.4" y="163" font-size="25.05" fill="#000">Moderate</text>
<circle cx="1048.5" cy="153.6" r="5.7" class="O" stroke-width="1.9" fill-opacity=".6" stroke-opacity=".72"/>
<text x="1048.5" y="160.5" font-size="18.97" text-anchor="middle" class="tO">a</text>
<text x="1088.0" y="163" font-size="25.05" fill="#000">Lean Rent</text>
<circle cx="1242.5" cy="153.6" r="5.7" class="R" stroke-width="1.9" fill-opacity=".6" stroke-opacity=".72"/>
<text x="1242.5" y="160.5" font-size="18.97" text-anchor="middle" class="tR">a</text>
<text x="1282.0" y="163" font-size="25.05" fill="#000">Rent Favored</text>
</svg></body></html>
